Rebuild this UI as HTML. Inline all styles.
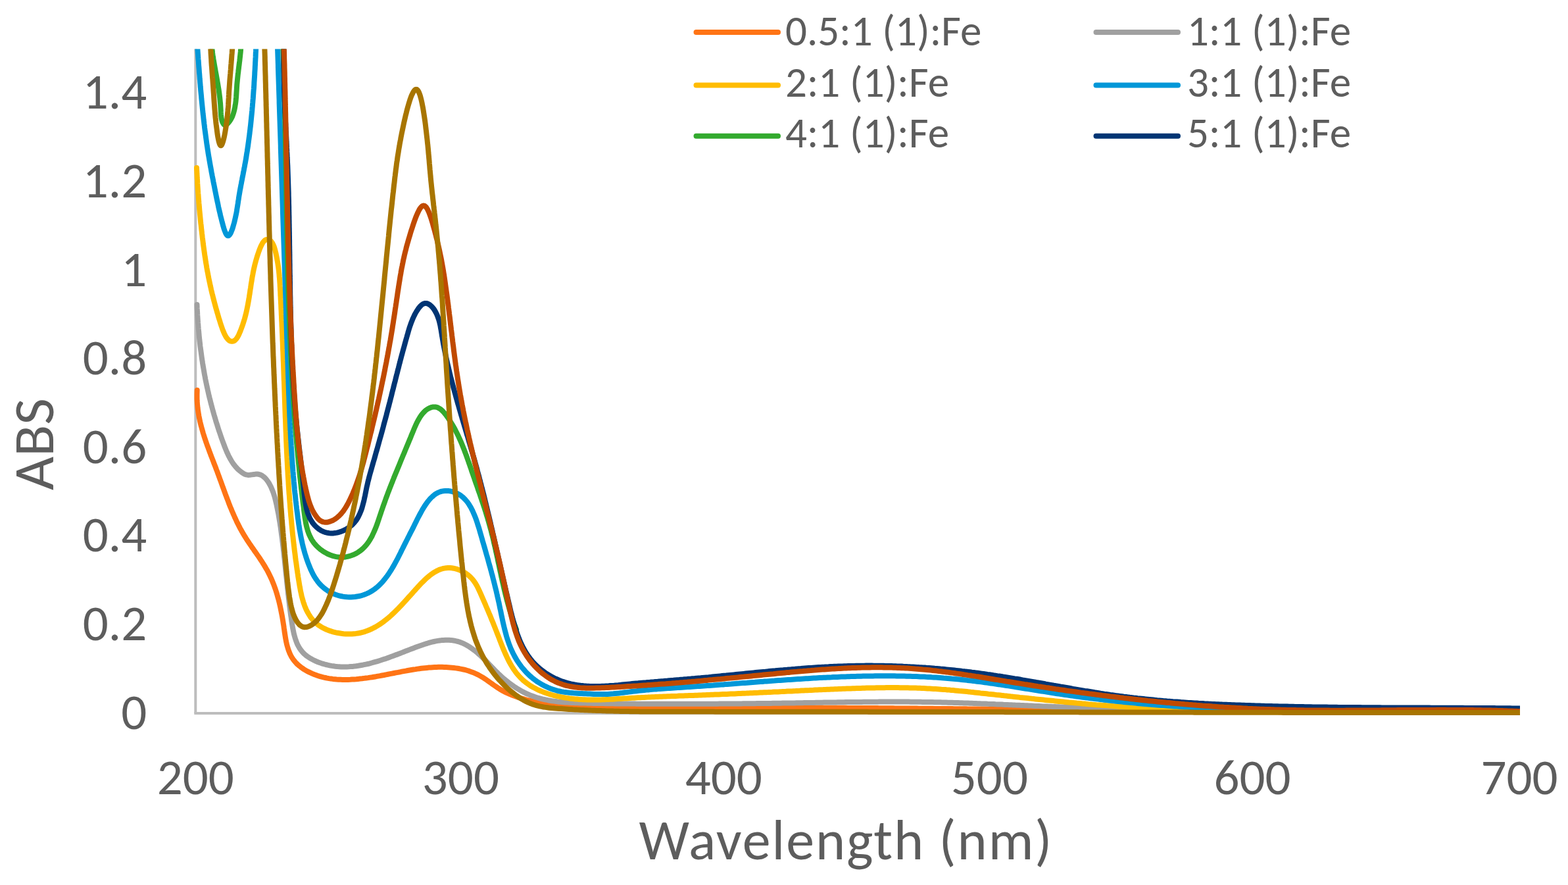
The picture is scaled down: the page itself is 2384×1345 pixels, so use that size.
<!DOCTYPE html>
<html><head><meta charset="utf-8"><title>UV-Vis ABS</title>
<style>
html,body{margin:0;padding:0;background:#fff;}
svg{display:block;}
text{font-family:Carlito, 'Liberation Sans', sans-serif;fill:#5D5D5D;}
.ax text{font-size:77px;}
.lg{font-size:65px;}
</style></head><body>
<svg width="2384" height="1345" viewBox="0 0 2384 1345">
<rect width="2384" height="1345" fill="#fff"/>
<defs><clipPath id="pa"><rect x="0" y="74.5" width="2311" height="1270"/></clipPath></defs>
<g stroke="#BDBDBD" stroke-width="4" fill="none">
<line x1="297.3" y1="74.5" x2="297.3" y2="1084"/>
<line x1="295.3" y1="1084" x2="2310" y2="1084"/>
</g>
<g clip-path="url(#pa)" fill="none" stroke-width="8" stroke-linejoin="round" stroke-linecap="round">
<path d="M299.7 592.9 L299.6 596.1 L299.5 599.1 L299.5 602.2 L299.5 605.3 L299.6 608.3 L299.8 611.4 L300.0 614.4 L300.3 617.4 L300.6 620.4 L301.0 623.3 L301.4 626.3 L301.9 629.2 L302.4 632.2 L303.0 635.1 L303.6 638.0 L304.2 640.9 L304.9 643.8 L305.6 646.7 L306.4 649.5 L307.2 652.4 L308.0 655.2 L308.8 658.1 L309.7 660.9 L310.6 663.7 L311.5 666.6 L312.5 669.4 L313.4 672.2 L314.4 675.0 L315.4 677.8 L316.5 680.6 L317.5 683.4 L318.5 686.2 L319.6 689.0 L320.6 691.8 L321.7 694.6 L322.8 697.4 L323.9 700.2 L324.9 703.0 L326.0 705.8 L327.1 708.5 L328.2 711.3 L329.2 714.1 L330.3 716.9 L331.3 719.8 L332.4 722.6 L333.4 725.4 L334.4 728.2 L335.5 731.0 L336.5 733.8 L337.5 736.6 L338.5 739.5 L339.6 742.3 L340.6 745.1 L341.6 747.9 L342.6 750.7 L343.7 753.5 L344.7 756.3 L345.8 759.1 L346.9 761.9 L347.9 764.7 L349.0 767.5 L350.1 770.3 L351.3 773.0 L352.4 775.8 L353.6 778.5 L354.8 781.3 L356.0 784.0 L357.2 786.8 L358.5 789.5 L359.7 792.2 L361.0 794.9 L362.4 797.5 L363.7 800.2 L365.1 802.9 L366.6 805.5 L368.0 808.1 L369.5 810.7 L371.1 813.3 L372.7 815.9 L374.3 818.5 L375.9 821.0 L377.6 823.5 L379.3 826.1 L381.0 828.6 L382.7 831.1 L384.5 833.6 L386.2 836.1 L388.0 838.6 L389.7 841.0 L391.4 843.5 L393.2 846.0 L394.9 848.5 L396.5 851.0 L398.2 853.5 L399.8 856.1 L401.4 858.6 L402.9 861.1 L404.4 863.7 L405.9 866.2 L407.3 868.8 L408.6 871.4 L409.9 874.0 L411.2 876.7 L412.4 879.3 L413.6 882.0 L414.7 884.7 L415.8 887.4 L416.8 890.1 L417.8 892.8 L418.8 895.6 L419.7 898.4 L420.6 901.2 L421.4 904.0 L422.2 906.8 L423.0 909.6 L423.8 912.5 L424.5 915.4 L425.2 918.3 L425.9 921.2 L426.5 924.1 L427.1 927.1 L427.7 930.1 L428.3 933.1 L428.9 936.1 L429.4 939.1 L429.9 942.2 L430.4 945.2 L430.9 948.3 L431.4 951.4 L431.8 954.6 L432.3 957.7 L432.7 960.9 L433.2 964.0 L433.7 967.2 L434.2 970.3 L434.8 973.4 L435.4 976.4 L436.1 979.5 L436.9 982.4 L437.8 985.4 L438.7 988.2 L439.8 991.0 L440.9 993.7 L442.2 996.3 L443.6 998.9 L445.2 1001.3 L446.9 1003.6 L448.7 1005.8 L450.6 1008.0 L452.7 1010.0 L454.9 1011.9 L457.2 1013.7 L459.5 1015.4 L462.0 1017.1 L464.5 1018.6 L467.1 1020.1 L469.7 1021.4 L472.4 1022.7 L475.1 1023.9 L477.8 1025.0 L480.6 1026.0 L483.3 1027.0 L486.1 1027.9 L488.9 1028.7 L491.7 1029.4 L494.6 1030.0 L497.4 1030.6 L500.3 1031.1 L503.1 1031.5 L506.0 1031.9 L508.9 1032.2 L511.8 1032.5 L514.7 1032.7 L517.7 1032.8 L520.6 1032.9 L523.6 1032.9 L526.5 1032.9 L529.5 1032.9 L532.5 1032.8 L535.5 1032.6 L538.5 1032.4 L541.5 1032.2 L544.5 1031.9 L547.5 1031.6 L550.5 1031.3 L553.5 1030.9 L556.5 1030.5 L559.6 1030.1 L562.6 1029.6 L565.6 1029.2 L568.6 1028.7 L571.7 1028.2 L574.7 1027.6 L577.7 1027.1 L580.8 1026.5 L583.8 1026.0 L586.8 1025.4 L589.9 1024.8 L592.9 1024.2 L595.9 1023.6 L598.9 1023.0 L601.9 1022.4 L605.0 1021.9 L608.0 1021.3 L610.9 1020.7 L613.9 1020.1 L616.9 1019.6 L619.9 1019.0 L622.9 1018.5 L625.8 1018.0 L628.8 1017.5 L631.7 1017.1 L634.6 1016.6 L637.6 1016.2 L640.5 1015.8 L643.4 1015.5 L646.3 1015.2 L649.2 1014.9 L652.1 1014.6 L655.0 1014.4 L657.9 1014.2 L660.8 1014.0 L663.7 1013.9 L666.6 1013.8 L669.5 1013.8 L672.4 1013.8 L675.3 1013.9 L678.2 1014.0 L681.1 1014.2 L684.0 1014.4 L687.0 1014.7 L689.9 1015.0 L692.9 1015.4 L695.8 1015.8 L698.8 1016.3 L701.7 1016.9 L704.7 1017.5 L707.6 1018.2 L710.5 1019.0 L713.4 1019.9 L716.2 1020.9 L719.0 1021.9 L721.8 1023.1 L724.5 1024.3 L727.2 1025.6 L729.8 1027.1 L732.4 1028.6 L735.0 1030.2 L737.5 1031.8 L740.0 1033.5 L742.4 1035.2 L744.9 1037.0 L747.4 1038.7 L749.8 1040.5 L752.3 1042.2 L754.8 1043.9 L757.3 1045.6 L759.8 1047.2 L762.4 1048.7 L765.0 1050.2 L767.7 1051.6 L770.3 1052.9 L773.1 1054.2 L775.8 1055.4 L778.6 1056.5 L781.4 1057.6 L784.2 1058.6 L787.0 1059.6 L789.9 1060.5 L792.8 1061.4 L795.7 1062.2 L798.6 1063.0 L801.5 1063.8 L804.4 1064.5 L807.3 1065.2 L810.2 1065.9 L813.2 1066.5 L816.1 1067.2 L819.0 1067.7 L822.0 1068.3 L824.9 1068.9 L827.9 1069.4 L830.8 1069.9 L833.7 1070.3 L836.7 1070.8 L839.6 1071.2 L842.6 1071.6 L845.6 1072.0 L848.5 1072.3 L851.5 1072.7 L854.4 1073.0 L857.4 1073.3 L860.4 1073.6 L863.3 1073.8 L866.3 1074.1 L869.3 1074.3 L872.3 1074.5 L875.2 1074.7 L878.2 1074.9 L881.2 1075.1 L884.2 1075.2 L887.2 1075.4 L890.1 1075.5 L893.1 1075.6 L896.1 1075.7 L899.1 1075.8 L902.1 1075.9 L905.1 1075.9 L908.1 1076.0 L911.1 1076.1 L914.1 1076.1 L917.1 1076.1 L920.1 1076.1 L923.0 1076.2 L926.0 1076.2 L929.0 1076.2 L932.0 1076.2 L935.0 1076.2 L938.0 1076.2 L941.0 1076.1 L944.0 1076.1 L947.0 1076.1 L950.0 1076.1 L953.0 1076.1 L956.0 1076.0 L959.0 1076.0 L962.0 1076.0 L965.0 1076.0 L968.0 1075.9 L971.0 1075.9 L974.0 1075.9 L977.0 1075.9 L980.0 1075.8 L983.0 1075.8 L986.1 1075.8 L989.1 1075.8 L992.1 1075.8 L995.1 1075.7 L998.1 1075.7 L1001.1 1075.7 L1004.1 1075.7 L1007.1 1075.7 L1010.1 1075.7 L1013.1 1075.6 L1016.1 1075.6 L1019.1 1075.6 L1022.1 1075.6 L1025.1 1075.6 L1028.1 1075.6 L1031.1 1075.5 L1034.1 1075.5 L1037.1 1075.5 L1040.1 1075.5 L1043.1 1075.5 L1046.1 1075.5 L1049.1 1075.5 L1052.1 1075.5 L1055.1 1075.4 L1058.1 1075.4 L1061.1 1075.4 L1064.1 1075.4 L1067.1 1075.4 L1070.1 1075.4 L1073.1 1075.4 L1076.1 1075.4 L1079.1 1075.4 L1082.1 1075.4 L1085.1 1075.4 L1088.1 1075.4 L1091.1 1075.4 L1094.1 1075.4 L1097.1 1075.4 L1100.1 1075.3 L1103.1 1075.3 L1106.1 1075.3 L1109.1 1075.3 L1112.1 1075.3 L1115.1 1075.3 L1118.0 1075.3 L1121.0 1075.3 L1124.0 1075.3 L1127.0 1075.3 L1130.0 1075.3 L1133.0 1075.3 L1136.0 1075.3 L1139.0 1075.3 L1142.0 1075.3 L1145.0 1075.3 L1148.0 1075.3 L1151.0 1075.3 L1154.0 1075.3 L1157.0 1075.4 L1160.0 1075.4 L1163.0 1075.4 L1166.0 1075.4 L1169.0 1075.4 L1172.0 1075.4 L1175.0 1075.4 L1178.0 1075.4 L1181.0 1075.4 L1184.0 1075.4 L1187.0 1075.4 L1190.0 1075.4 L1193.0 1075.4 L1196.0 1075.4 L1199.0 1075.4 L1202.0 1075.5 L1205.0 1075.5 L1208.0 1075.5 L1211.0 1075.5 L1214.0 1075.5 L1217.0 1075.5 L1220.0 1075.5 L1223.0 1075.5 L1226.0 1075.5 L1229.0 1075.5 L1232.0 1075.6 L1235.0 1075.6 L1238.0 1075.6 L1241.0 1075.6 L1244.0 1075.6 L1247.0 1075.6 L1250.0 1075.6 L1253.0 1075.7 L1256.0 1075.7 L1259.0 1075.7 L1262.0 1075.7 L1265.0 1075.7 L1268.0 1075.7 L1271.0 1075.7 L1274.0 1075.8 L1277.0 1075.8 L1280.0 1075.8 L1283.0 1075.8 L1286.0 1075.8 L1289.0 1075.9 L1292.0 1075.9 L1295.0 1075.9 L1298.0 1075.9 L1301.0 1075.9 L1304.0 1075.9 L1307.0 1076.0 L1310.0 1076.0 L1312.9 1076.0 L1315.9 1076.0 L1318.9 1076.0 L1321.9 1076.1 L1324.9 1076.1 L1327.9 1076.1 L1330.9 1076.1 L1333.9 1076.1 L1336.9 1076.2 L1339.9 1076.2 L1342.9 1076.2 L1345.9 1076.2 L1348.9 1076.3 L1351.9 1076.3 L1354.9 1076.3 L1357.9 1076.3 L1360.9 1076.4 L1363.9 1076.4 L1366.9 1076.4 L1369.9 1076.4 L1372.9 1076.5 L1375.9 1076.5 L1378.9 1076.5 L1381.9 1076.5 L1384.9 1076.6 L1387.9 1076.6 L1390.9 1076.6 L1393.9 1076.6 L1396.9 1076.7 L1399.9 1076.7 L1402.9 1076.7 L1405.9 1076.7 L1408.9 1076.8 L1411.9 1076.8 L1414.9 1076.8 L1417.9 1076.8 L1420.9 1076.9 L1423.9 1076.9 L1426.9 1076.9 L1429.8 1077.0 L1432.8 1077.0 L1435.8 1077.0 L1438.8 1077.0 L1441.8 1077.1 L1444.8 1077.1 L1447.8 1077.1 L1450.8 1077.2 L1453.8 1077.2 L1456.8 1077.2 L1459.8 1077.2 L1462.8 1077.3 L1465.8 1077.3 L1468.8 1077.3 L1471.8 1077.4 L1474.8 1077.4 L1477.8 1077.4 L1480.8 1077.5 L1483.8 1077.5 L1486.8 1077.5 L1489.8 1077.5 L1492.8 1077.6 L1495.8 1077.6 L1498.8 1077.6 L1501.8 1077.7 L1504.8 1077.7 L1507.8 1077.7 L1510.8 1077.8 L1513.8 1077.8 L1516.8 1077.8 L1519.8 1077.9 L1522.8 1077.9 L1525.7 1077.9 L1528.7 1078.0 L1531.7 1078.0 L1534.7 1078.0 L1537.7 1078.1 L1540.7 1078.1 L1543.7 1078.1 L1546.7 1078.1 L1549.7 1078.2 L1552.7 1078.2 L1555.7 1078.2 L1558.7 1078.3 L1561.7 1078.3 L1564.7 1078.3 L1567.7 1078.4 L1570.7 1078.4 L1573.7 1078.4 L1576.7 1078.5 L1579.7 1078.5 L1582.7 1078.5 L1585.7 1078.6 L1588.7 1078.6 L1591.7 1078.6 L1594.7 1078.7 L1597.7 1078.7 L1600.7 1078.7 L1603.7 1078.8 L1606.7 1078.8 L1609.7 1078.8 L1612.7 1078.9 L1615.6 1078.9 L1618.6 1078.9 L1621.6 1079.0 L1624.6 1079.0 L1627.6 1079.0 L1630.6 1079.1 L1633.6 1079.1 L1636.6 1079.1 L1639.6 1079.2 L1642.6 1079.2 L1645.6 1079.2 L1648.6 1079.3 L1651.6 1079.3 L1654.6 1079.3 L1657.6 1079.4 L1660.6 1079.4 L1663.6 1079.4 L1666.6 1079.5 L1669.6 1079.5 L1672.6 1079.5 L1675.6 1079.6 L1678.6 1079.6 L1681.6 1079.6 L1684.6 1079.7 L1687.6 1079.7 L1690.6 1079.7 L1693.6 1079.8 L1696.6 1079.8 L1699.6 1079.8 L1702.5 1079.9 L1705.5 1079.9 L1708.5 1079.9 L1711.5 1080.0 L1714.5 1080.0 L1717.5 1080.0 L1720.5 1080.1 L1723.5 1080.1 L1726.5 1080.1 L1729.5 1080.2 L1732.5 1080.2 L1735.5 1080.2 L1738.5 1080.3 L1741.5 1080.3 L1744.5 1080.3 L1747.5 1080.4 L1750.5 1080.4 L1753.5 1080.4 L1756.5 1080.5 L1759.5 1080.5 L1762.5 1080.5 L1765.5 1080.6 L1768.5 1080.6 L1771.5 1080.6 L1774.5 1080.6 L1777.5 1080.7 L1780.5 1080.7 L1783.5 1080.7 L1786.5 1080.8 L1789.4 1080.8 L1792.4 1080.8 L1795.4 1080.9 L1798.4 1080.9 L1801.4 1080.9 L1804.4 1080.9 L1807.4 1081.0 L1810.4 1081.0 L1813.4 1081.0 L1816.4 1081.1 L1819.4 1081.1 L1822.4 1081.1 L1825.4 1081.2 L1828.4 1081.2 L1831.4 1081.2 L1834.4 1081.2 L1837.4 1081.3 L1840.4 1081.3 L1843.4 1081.3 L1846.4 1081.3 L1849.4 1081.4 L1852.4 1081.4 L1855.4 1081.4 L1858.4 1081.5 L1861.4 1081.5 L1864.4 1081.5 L1867.4 1081.5 L1870.4 1081.6 L1873.4 1081.6 L1876.4 1081.6 L1879.3 1081.6 L1882.3 1081.7 L1885.3 1081.7 L1888.3 1081.7 L1891.3 1081.7 L1894.3 1081.8 L1897.3 1081.8 L1900.3 1081.8 L1903.3 1081.8 L1906.3 1081.9 L1909.3 1081.9 L1912.3 1081.9 L1915.3 1081.9 L1918.3 1082.0 L1921.3 1082.0 L1924.3 1082.0 L1927.3 1082.0 L1930.3 1082.0 L1933.3 1082.1 L1936.3 1082.1 L1939.3 1082.1 L1942.3 1082.1 L1945.3 1082.2 L1948.3 1082.2 L1951.3 1082.2 L1954.3 1082.2 L1957.3 1082.2 L1960.3 1082.3 L1963.3 1082.3 L1966.3 1082.3 L1969.3 1082.3 L1972.3 1082.3 L1975.3 1082.4 L1978.3 1082.4 L1981.2 1082.4 L1984.2 1082.4 L1987.2 1082.4 L1990.2 1082.4 L1993.2 1082.5 L1996.2 1082.5 L1999.2 1082.5 L2002.2 1082.5 L2005.2 1082.5 L2008.2 1082.5 L2011.2 1082.5 L2014.2 1082.6 L2017.2 1082.6 L2020.2 1082.6 L2023.2 1082.6 L2026.2 1082.6 L2029.2 1082.6 L2032.2 1082.6 L2035.2 1082.7 L2038.2 1082.7 L2041.2 1082.7 L2044.2 1082.7 L2047.2 1082.7 L2050.2 1082.7 L2053.2 1082.7 L2056.2 1082.7 L2059.2 1082.7 L2062.2 1082.8 L2065.2 1082.8 L2068.2 1082.8 L2071.2 1082.8 L2074.2 1082.8 L2077.2 1082.8 L2080.2 1082.8 L2083.2 1082.8 L2086.2 1082.8 L2089.2 1082.8 L2092.2 1082.8 L2095.2 1082.8 L2098.2 1082.8 L2101.2 1082.9 L2104.1 1082.9 L2107.1 1082.9 L2110.1 1082.9 L2113.1 1082.9 L2116.1 1082.9 L2119.1 1082.9 L2122.1 1082.9 L2125.1 1082.9 L2128.1 1082.9 L2131.1 1082.9 L2134.1 1082.9 L2137.1 1082.9 L2140.1 1082.9 L2143.1 1082.9 L2146.1 1082.9 L2149.1 1082.9 L2152.1 1082.9 L2155.1 1082.9 L2158.1 1082.9 L2161.1 1082.9 L2164.1 1082.9 L2167.1 1082.9 L2170.1 1082.9 L2173.1 1082.9 L2176.1 1082.9 L2179.1 1082.9 L2182.1 1082.8 L2185.1 1082.8 L2188.1 1082.8 L2191.1 1082.8 L2194.1 1082.8 L2197.1 1082.8 L2200.1 1082.8 L2203.1 1082.8 L2206.1 1082.8 L2209.1 1082.8 L2212.1 1082.8 L2215.1 1082.8 L2218.1 1082.7 L2221.1 1082.7 L2224.1 1082.7 L2227.1 1082.7 L2230.1 1082.7 L2233.1 1082.7 L2236.1 1082.7 L2239.1 1082.7 L2242.1 1082.6 L2245.1 1082.6 L2248.1 1082.6 L2251.1 1082.6 L2254.1 1082.6 L2257.1 1082.6 L2260.1 1082.5 L2263.1 1082.5 L2266.1 1082.5 L2269.1 1082.5 L2272.1 1082.5 L2275.1 1082.5 L2278.1 1082.4 L2281.1 1082.4 L2284.1 1082.4 L2287.1 1082.4 L2290.1 1082.3 L2293.1 1082.3 L2296.1 1082.3 L2299.1 1082.3 L2302.1 1082.2 L2305.1 1082.2 L2308.1 1082.2 L2311.1 1082.2 L2314.1 1082.1 L2317.1 1082.1 L2320.1 1082.1" stroke="#FF7415"/>
<path d="M299.5 462.9 L299.6 466.0 L299.7 469.0 L299.9 472.1 L300.1 475.1 L300.2 478.2 L300.4 481.2 L300.6 484.2 L300.8 487.3 L301.0 490.3 L301.3 493.3 L301.5 496.3 L301.7 499.3 L302.0 502.3 L302.3 505.2 L302.5 508.2 L302.8 511.2 L303.1 514.2 L303.4 517.1 L303.8 520.1 L304.1 523.0 L304.4 526.0 L304.8 528.9 L305.2 531.9 L305.6 534.8 L306.0 537.8 L306.4 540.7 L306.8 543.6 L307.2 546.5 L307.7 549.5 L308.1 552.4 L308.6 555.3 L309.1 558.2 L309.6 561.1 L310.1 564.0 L310.6 567.0 L311.1 569.9 L311.7 572.8 L312.2 575.7 L312.8 578.6 L313.4 581.5 L314.0 584.4 L314.6 587.3 L315.3 590.2 L315.9 593.1 L316.6 596.0 L317.2 598.9 L317.9 601.8 L318.6 604.7 L319.4 607.6 L320.1 610.5 L320.8 613.4 L321.6 616.3 L322.4 619.3 L323.2 622.2 L324.0 625.1 L324.8 628.0 L325.6 630.9 L326.5 633.8 L327.4 636.8 L328.2 639.7 L329.1 642.6 L330.1 645.5 L331.0 648.5 L331.9 651.4 L332.9 654.4 L333.9 657.3 L334.9 660.2 L335.9 663.2 L336.9 666.2 L338.0 669.1 L339.1 672.1 L340.2 675.0 L341.3 678.0 L342.4 680.9 L343.6 683.8 L344.8 686.7 L346.1 689.5 L347.4 692.3 L348.8 695.0 L350.3 697.7 L351.8 700.3 L353.4 702.8 L355.0 705.2 L356.8 707.5 L358.6 709.7 L360.5 711.8 L362.5 713.8 L364.7 715.7 L366.9 717.4 L369.2 719.0 L371.7 720.4 L374.3 721.4 L377.0 721.9 L379.9 721.8 L382.8 721.4 L385.8 721.0 L388.7 720.6 L391.6 720.5 L394.2 721.0 L396.8 721.9 L399.2 723.3 L401.4 725.0 L403.6 727.0 L405.5 729.3 L407.4 731.8 L409.1 734.5 L410.6 737.3 L412.1 740.2 L413.3 743.1 L414.5 746.0 L415.6 748.9 L416.5 751.7 L417.4 754.6 L418.2 757.5 L418.9 760.4 L419.6 763.3 L420.3 766.3 L420.9 769.2 L421.5 772.1 L422.1 775.1 L422.7 778.1 L423.3 781.0 L423.8 784.0 L424.3 787.0 L424.8 790.0 L425.3 792.9 L425.8 795.9 L426.2 798.9 L426.7 801.9 L427.1 804.9 L427.5 807.9 L427.9 810.9 L428.3 813.9 L428.7 816.9 L429.1 819.9 L429.4 822.8 L429.8 825.8 L430.1 828.8 L430.5 831.7 L430.8 834.7 L431.2 837.7 L431.5 840.6 L431.8 843.6 L432.1 846.5 L432.5 849.5 L432.8 852.4 L433.1 855.4 L433.4 858.3 L433.7 861.3 L434.0 864.2 L434.3 867.1 L434.6 870.1 L434.9 873.0 L435.3 876.0 L435.6 878.9 L435.9 881.9 L436.2 884.8 L436.5 887.8 L436.8 890.7 L437.1 893.7 L437.5 896.6 L437.8 899.6 L438.1 902.6 L438.5 905.5 L438.8 908.5 L439.2 911.5 L439.5 914.5 L439.9 917.5 L440.2 920.5 L440.6 923.5 L441.0 926.5 L441.4 929.5 L441.8 932.5 L442.2 935.6 L442.7 938.6 L443.1 941.6 L443.5 944.7 L444.0 947.8 L444.5 950.8 L445.0 953.9 L445.6 956.9 L446.2 959.9 L446.8 962.9 L447.6 965.9 L448.4 968.8 L449.3 971.6 L450.3 974.4 L451.3 977.1 L452.5 979.8 L453.9 982.4 L455.3 984.9 L456.9 987.2 L458.7 989.5 L460.5 991.7 L462.6 993.8 L464.8 995.7 L467.2 997.5 L469.7 999.2 L472.3 1000.8 L475.0 1002.3 L477.7 1003.7 L480.6 1005.0 L483.5 1006.2 L486.4 1007.3 L489.3 1008.3 L492.3 1009.2 L495.2 1010.0 L498.2 1010.7 L501.1 1011.3 L504.0 1011.9 L507.0 1012.3 L509.9 1012.7 L512.8 1013.0 L515.7 1013.2 L518.7 1013.4 L521.6 1013.5 L524.5 1013.5 L527.4 1013.4 L530.3 1013.3 L533.2 1013.1 L536.1 1012.9 L539.0 1012.6 L541.9 1012.2 L544.8 1011.8 L547.7 1011.3 L550.6 1010.8 L553.5 1010.2 L556.4 1009.6 L559.2 1009.0 L562.1 1008.3 L565.0 1007.5 L567.9 1006.7 L570.8 1005.9 L573.7 1005.1 L576.5 1004.2 L579.4 1003.3 L582.3 1002.3 L585.2 1001.4 L588.0 1000.4 L590.9 999.4 L593.8 998.3 L596.7 997.3 L599.5 996.2 L602.4 995.1 L605.3 994.1 L608.2 993.0 L611.0 991.9 L613.9 990.7 L616.8 989.6 L619.7 988.5 L622.5 987.4 L625.4 986.3 L628.3 985.2 L631.2 984.1 L634.0 983.0 L636.9 982.0 L639.8 981.0 L642.7 980.0 L645.5 979.0 L648.4 978.1 L651.3 977.2 L654.1 976.4 L657.0 975.7 L659.9 975.0 L662.7 974.4 L665.6 973.9 L668.4 973.5 L671.3 973.1 L674.1 972.9 L676.9 972.7 L679.8 972.7 L682.6 972.7 L685.4 972.9 L688.2 973.3 L691.0 973.7 L693.8 974.3 L696.6 975.0 L699.3 975.9 L702.1 976.9 L704.8 978.1 L707.6 979.5 L710.3 981.0 L713.0 982.6 L715.7 984.4 L718.3 986.3 L720.9 988.2 L723.5 990.2 L726.0 992.3 L728.4 994.5 L730.8 996.6 L733.1 998.8 L735.3 1000.9 L737.5 1003.1 L739.6 1005.2 L741.6 1007.3 L743.6 1009.4 L745.6 1011.5 L747.5 1013.5 L749.5 1015.6 L751.4 1017.6 L753.4 1019.7 L755.5 1021.7 L757.5 1023.7 L759.7 1025.7 L761.8 1027.7 L764.0 1029.7 L766.3 1031.7 L768.6 1033.6 L771.0 1035.5 L773.4 1037.4 L775.8 1039.2 L778.3 1041.0 L780.8 1042.8 L783.3 1044.5 L785.9 1046.1 L788.5 1047.7 L791.2 1049.3 L793.8 1050.7 L796.5 1052.1 L799.2 1053.5 L802.0 1054.8 L804.7 1055.9 L807.5 1057.1 L810.3 1058.1 L813.1 1059.1 L815.9 1060.0 L818.8 1060.8 L821.7 1061.6 L824.5 1062.4 L827.4 1063.0 L830.3 1063.6 L833.3 1064.2 L836.2 1064.7 L839.1 1065.2 L842.1 1065.6 L845.1 1066.0 L848.0 1066.4 L851.0 1066.7 L854.0 1066.9 L857.0 1067.2 L860.0 1067.4 L863.0 1067.6 L866.0 1067.8 L869.0 1067.9 L872.1 1068.1 L875.1 1068.2 L878.1 1068.3 L881.1 1068.4 L884.1 1068.4 L887.2 1068.5 L890.2 1068.6 L893.2 1068.7 L896.2 1068.7 L899.2 1068.8 L902.2 1068.9 L905.2 1068.9 L908.2 1069.0 L911.2 1069.0 L914.2 1069.1 L917.2 1069.1 L920.2 1069.2 L923.2 1069.2 L926.2 1069.2 L929.2 1069.3 L932.2 1069.3 L935.2 1069.4 L938.2 1069.4 L941.2 1069.4 L944.2 1069.5 L947.2 1069.5 L950.2 1069.5 L953.2 1069.5 L956.2 1069.6 L959.2 1069.6 L962.1 1069.6 L965.1 1069.6 L968.1 1069.7 L971.1 1069.7 L974.1 1069.7 L977.1 1069.7 L980.1 1069.7 L983.1 1069.7 L986.1 1069.8 L989.1 1069.8 L992.1 1069.8 L995.1 1069.8 L998.1 1069.8 L1001.1 1069.8 L1004.1 1069.8 L1007.1 1069.8 L1010.1 1069.8 L1013.0 1069.8 L1016.0 1069.8 L1019.0 1069.8 L1022.0 1069.8 L1025.0 1069.8 L1028.0 1069.8 L1031.0 1069.8 L1034.0 1069.8 L1037.0 1069.8 L1040.0 1069.8 L1043.0 1069.8 L1046.0 1069.8 L1049.0 1069.8 L1052.0 1069.8 L1055.0 1069.8 L1058.0 1069.8 L1061.0 1069.8 L1064.0 1069.8 L1067.0 1069.8 L1070.0 1069.8 L1073.0 1069.8 L1076.0 1069.7 L1079.0 1069.7 L1082.0 1069.7 L1085.0 1069.7 L1088.0 1069.7 L1091.0 1069.7 L1094.0 1069.6 L1097.0 1069.6 L1100.0 1069.6 L1103.0 1069.6 L1106.0 1069.6 L1109.0 1069.5 L1112.0 1069.5 L1115.0 1069.5 L1118.0 1069.5 L1121.0 1069.4 L1124.0 1069.4 L1127.0 1069.4 L1130.0 1069.3 L1133.0 1069.3 L1136.0 1069.3 L1139.0 1069.3 L1142.0 1069.2 L1145.0 1069.2 L1148.0 1069.2 L1151.0 1069.1 L1154.0 1069.1 L1157.0 1069.1 L1160.0 1069.0 L1163.0 1069.0 L1166.0 1069.0 L1169.0 1068.9 L1172.0 1068.9 L1175.0 1068.8 L1178.0 1068.8 L1181.0 1068.8 L1184.0 1068.7 L1187.0 1068.7 L1190.0 1068.6 L1193.0 1068.6 L1196.0 1068.5 L1198.9 1068.5 L1201.9 1068.5 L1204.9 1068.4 L1207.9 1068.4 L1210.9 1068.3 L1213.9 1068.3 L1216.9 1068.2 L1219.9 1068.2 L1222.9 1068.1 L1225.9 1068.1 L1228.9 1068.0 L1231.9 1068.0 L1234.9 1067.9 L1237.9 1067.9 L1240.9 1067.8 L1243.9 1067.8 L1246.9 1067.7 L1249.9 1067.7 L1252.9 1067.6 L1255.9 1067.6 L1258.9 1067.5 L1261.9 1067.5 L1264.9 1067.4 L1267.9 1067.4 L1270.9 1067.4 L1273.9 1067.3 L1276.9 1067.3 L1279.9 1067.2 L1282.9 1067.2 L1285.9 1067.1 L1288.9 1067.1 L1291.9 1067.1 L1294.9 1067.0 L1297.9 1067.0 L1300.9 1067.0 L1303.9 1066.9 L1306.9 1066.9 L1309.9 1066.9 L1312.9 1066.8 L1315.9 1066.8 L1318.9 1066.8 L1321.9 1066.7 L1324.9 1066.7 L1327.9 1066.7 L1330.9 1066.7 L1333.9 1066.7 L1336.9 1066.6 L1339.9 1066.6 L1342.9 1066.6 L1345.9 1066.6 L1348.9 1066.6 L1351.9 1066.6 L1354.9 1066.6 L1357.9 1066.6 L1360.9 1066.6 L1363.9 1066.6 L1366.8 1066.6 L1369.8 1066.6 L1372.8 1066.6 L1375.8 1066.6 L1378.8 1066.6 L1381.8 1066.6 L1384.8 1066.7 L1387.8 1066.7 L1390.8 1066.7 L1393.8 1066.7 L1396.8 1066.8 L1399.8 1066.8 L1402.8 1066.9 L1405.8 1066.9 L1408.8 1066.9 L1411.8 1067.0 L1414.8 1067.0 L1417.8 1067.1 L1420.8 1067.2 L1423.8 1067.2 L1426.8 1067.3 L1429.8 1067.3 L1432.8 1067.4 L1435.8 1067.5 L1438.8 1067.6 L1441.8 1067.7 L1444.8 1067.7 L1447.8 1067.8 L1450.8 1067.9 L1453.7 1068.0 L1456.7 1068.1 L1459.7 1068.2 L1462.7 1068.3 L1465.7 1068.4 L1468.7 1068.5 L1471.7 1068.6 L1474.7 1068.7 L1477.7 1068.8 L1480.7 1068.9 L1483.7 1069.0 L1486.7 1069.2 L1489.7 1069.3 L1492.7 1069.4 L1495.7 1069.5 L1498.7 1069.6 L1501.7 1069.8 L1504.7 1069.9 L1507.7 1070.0 L1510.7 1070.1 L1513.7 1070.3 L1516.7 1070.4 L1519.7 1070.5 L1522.7 1070.6 L1525.7 1070.8 L1528.6 1070.9 L1531.6 1071.0 L1534.6 1071.2 L1537.6 1071.3 L1540.6 1071.4 L1543.6 1071.6 L1546.6 1071.7 L1549.6 1071.8 L1552.6 1072.0 L1555.6 1072.1 L1558.6 1072.2 L1561.6 1072.3 L1564.6 1072.5 L1567.6 1072.6 L1570.6 1072.7 L1573.6 1072.9 L1576.6 1073.0 L1579.6 1073.1 L1582.6 1073.2 L1585.6 1073.4 L1588.6 1073.5 L1591.6 1073.6 L1594.6 1073.7 L1597.6 1073.8 L1600.5 1074.0 L1603.5 1074.1 L1606.5 1074.2 L1609.5 1074.3 L1612.5 1074.4 L1615.5 1074.5 L1618.5 1074.7 L1621.5 1074.8 L1624.5 1074.9 L1627.5 1075.0 L1630.5 1075.1 L1633.5 1075.2 L1636.5 1075.3 L1639.5 1075.4 L1642.5 1075.5 L1645.5 1075.6 L1648.5 1075.7 L1651.5 1075.8 L1654.5 1075.9 L1657.5 1076.0 L1660.5 1076.1 L1663.5 1076.2 L1666.5 1076.3 L1669.5 1076.4 L1672.5 1076.5 L1675.5 1076.6 L1678.5 1076.7 L1681.5 1076.8 L1684.5 1076.9 L1687.4 1077.0 L1690.4 1077.1 L1693.4 1077.1 L1696.4 1077.2 L1699.4 1077.3 L1702.4 1077.4 L1705.4 1077.5 L1708.4 1077.6 L1711.4 1077.7 L1714.4 1077.7 L1717.4 1077.8 L1720.4 1077.9 L1723.4 1078.0 L1726.4 1078.1 L1729.4 1078.1 L1732.4 1078.2 L1735.4 1078.3 L1738.4 1078.4 L1741.4 1078.4 L1744.4 1078.5 L1747.4 1078.6 L1750.4 1078.7 L1753.4 1078.7 L1756.4 1078.8 L1759.4 1078.9 L1762.4 1078.9 L1765.4 1079.0 L1768.4 1079.1 L1771.4 1079.1 L1774.4 1079.2 L1777.4 1079.3 L1780.4 1079.3 L1783.4 1079.4 L1786.4 1079.5 L1789.3 1079.5 L1792.3 1079.6 L1795.3 1079.6 L1798.3 1079.7 L1801.3 1079.8 L1804.3 1079.8 L1807.3 1079.9 L1810.3 1079.9 L1813.3 1080.0 L1816.3 1080.0 L1819.3 1080.1 L1822.3 1080.1 L1825.3 1080.2 L1828.3 1080.3 L1831.3 1080.3 L1834.3 1080.4 L1837.3 1080.4 L1840.3 1080.5 L1843.3 1080.5 L1846.3 1080.5 L1849.3 1080.6 L1852.3 1080.6 L1855.3 1080.7 L1858.3 1080.7 L1861.3 1080.8 L1864.3 1080.8 L1867.3 1080.9 L1870.3 1080.9 L1873.3 1080.9 L1876.3 1081.0 L1879.3 1081.0 L1882.3 1081.1 L1885.3 1081.1 L1888.3 1081.1 L1891.3 1081.2 L1894.3 1081.2 L1897.3 1081.3 L1900.3 1081.3 L1903.3 1081.3 L1906.3 1081.4 L1909.3 1081.4 L1912.2 1081.4 L1915.2 1081.5 L1918.2 1081.5 L1921.2 1081.5 L1924.2 1081.6 L1927.2 1081.6 L1930.2 1081.6 L1933.2 1081.7 L1936.2 1081.7 L1939.2 1081.7 L1942.2 1081.7 L1945.2 1081.8 L1948.2 1081.8 L1951.2 1081.8 L1954.2 1081.9 L1957.2 1081.9 L1960.2 1081.9 L1963.2 1081.9 L1966.2 1082.0 L1969.2 1082.0 L1972.2 1082.0 L1975.2 1082.0 L1978.2 1082.0 L1981.2 1082.1 L1984.2 1082.1 L1987.2 1082.1 L1990.2 1082.1 L1993.2 1082.1 L1996.2 1082.2 L1999.2 1082.2 L2002.2 1082.2 L2005.2 1082.2 L2008.2 1082.2 L2011.2 1082.3 L2014.2 1082.3 L2017.2 1082.3 L2020.2 1082.3 L2023.2 1082.3 L2026.2 1082.3 L2029.2 1082.3 L2032.2 1082.4 L2035.2 1082.4 L2038.2 1082.4 L2041.2 1082.4 L2044.2 1082.4 L2047.2 1082.4 L2050.2 1082.4 L2053.2 1082.4 L2056.2 1082.5 L2059.2 1082.5 L2062.2 1082.5 L2065.2 1082.5 L2068.1 1082.5 L2071.1 1082.5 L2074.1 1082.5 L2077.1 1082.5 L2080.1 1082.5 L2083.1 1082.5 L2086.1 1082.5 L2089.1 1082.5 L2092.1 1082.6 L2095.1 1082.6 L2098.1 1082.6 L2101.1 1082.6 L2104.1 1082.6 L2107.1 1082.6 L2110.1 1082.6 L2113.1 1082.6 L2116.1 1082.6 L2119.1 1082.6 L2122.1 1082.6 L2125.1 1082.6 L2128.1 1082.6 L2131.1 1082.6 L2134.1 1082.6 L2137.1 1082.6 L2140.1 1082.6 L2143.1 1082.6 L2146.1 1082.6 L2149.1 1082.6 L2152.1 1082.6 L2155.1 1082.6 L2158.1 1082.6 L2161.1 1082.6 L2164.1 1082.6 L2167.1 1082.6 L2170.1 1082.6 L2173.1 1082.6 L2176.1 1082.6 L2179.1 1082.6 L2182.1 1082.6 L2185.1 1082.6 L2188.1 1082.6 L2191.1 1082.6 L2194.1 1082.6 L2197.1 1082.6 L2200.1 1082.6 L2203.1 1082.6 L2206.1 1082.6 L2209.1 1082.6 L2212.1 1082.6 L2215.1 1082.6 L2218.1 1082.6 L2221.1 1082.6 L2224.1 1082.6 L2227.1 1082.6 L2230.1 1082.6 L2233.1 1082.5 L2236.1 1082.5 L2239.1 1082.5 L2242.0 1082.5 L2245.0 1082.5 L2248.0 1082.5 L2251.0 1082.5 L2254.0 1082.5 L2257.0 1082.5 L2260.0 1082.5 L2263.0 1082.5 L2266.0 1082.5 L2269.0 1082.5 L2272.0 1082.5 L2275.0 1082.5 L2278.0 1082.5 L2281.0 1082.5 L2284.0 1082.5 L2287.0 1082.4 L2290.0 1082.4 L2293.0 1082.4 L2296.0 1082.4 L2299.0 1082.4 L2302.0 1082.4 L2305.0 1082.4 L2308.0 1082.4 L2311.0 1082.4 L2314.0 1082.4 L2317.0 1082.4 L2320.0 1082.4" stroke="#A0A0A0"/>
<path d="M299.0 255.0 L299.1 257.9 L299.3 260.7 L299.4 263.6 L299.6 266.5 L299.7 269.4 L299.9 272.3 L300.1 275.2 L300.2 278.2 L300.4 281.2 L300.6 284.2 L300.8 287.2 L301.0 290.2 L301.2 293.3 L301.5 296.3 L301.7 299.4 L301.9 302.4 L302.2 305.5 L302.4 308.6 L302.7 311.7 L303.0 314.8 L303.2 317.9 L303.5 320.9 L303.8 324.0 L304.1 327.1 L304.4 330.2 L304.7 333.3 L305.0 336.4 L305.3 339.5 L305.7 342.5 L306.0 345.6 L306.3 348.6 L306.7 351.7 L307.0 354.7 L307.4 357.7 L307.7 360.7 L308.1 363.7 L308.5 366.7 L308.8 369.6 L309.2 372.6 L309.6 375.5 L310.0 378.4 L310.4 381.3 L310.8 384.1 L311.2 387.0 L311.6 389.8 L312.1 392.6 L312.5 395.4 L312.9 398.3 L313.4 401.1 L313.9 403.9 L314.3 406.6 L314.8 409.4 L315.3 412.2 L315.9 415.0 L316.4 417.8 L316.9 420.6 L317.5 423.5 L318.1 426.3 L318.7 429.1 L319.3 432.0 L319.9 434.8 L320.6 437.7 L321.2 440.6 L321.9 443.5 L322.6 446.5 L323.4 449.4 L324.1 452.4 L324.9 455.4 L325.7 458.5 L326.5 461.5 L327.3 464.6 L328.2 467.8 L329.1 470.9 L330.0 474.1 L331.0 477.4 L331.9 480.6 L332.9 484.0 L334.0 487.3 L335.0 490.7 L336.1 494.1 L337.3 497.5 L338.4 500.8 L339.7 503.9 L341.0 506.9 L342.3 509.6 L343.7 512.1 L345.2 514.2 L346.8 516.0 L348.4 517.4 L350.2 518.4 L352.0 518.8 L353.9 518.7 L355.8 518.1 L357.8 516.7 L359.5 514.8 L361.2 512.3 L362.8 509.4 L364.2 506.2 L365.6 502.9 L366.8 499.7 L368.0 496.4 L369.1 493.3 L370.1 490.2 L371.1 487.1 L372.0 484.1 L372.8 481.1 L373.6 478.1 L374.3 475.2 L375.0 472.2 L375.6 469.3 L376.2 466.3 L376.8 463.4 L377.3 460.5 L377.8 457.7 L378.3 454.8 L378.8 451.9 L379.2 449.0 L379.7 446.2 L380.1 443.3 L380.5 440.4 L381.0 437.6 L381.4 434.7 L381.8 431.8 L382.3 428.9 L382.8 426.0 L383.2 423.1 L383.7 420.2 L384.3 417.3 L384.8 414.4 L385.4 411.4 L386.0 408.5 L386.7 405.5 L387.4 402.5 L388.2 399.5 L389.0 396.4 L389.9 393.4 L390.8 390.3 L391.8 387.2 L392.9 384.0 L394.0 380.9 L395.2 377.7 L396.5 374.6 L397.9 371.8 L399.3 369.2 L400.9 367.0 L402.6 365.3 L404.5 364.2 L406.4 363.8 L408.5 364.2 L410.5 365.2 L412.3 366.8 L413.9 369.0 L415.3 371.6 L416.6 374.6 L417.7 377.9 L418.6 381.4 L419.5 384.9 L420.2 388.5 L420.9 392.1 L421.5 395.5 L422.1 398.8 L422.6 402.1 L423.1 405.3 L423.5 408.4 L423.9 411.5 L424.2 414.5 L424.5 417.5 L424.7 420.4 L425.0 423.3 L425.2 426.2 L425.4 429.1 L425.6 431.9 L425.7 434.7 L425.9 437.5 L426.0 440.4 L426.2 443.2 L426.3 446.0 L426.4 448.9 L426.6 451.8 L426.7 454.7 L426.9 457.5 L427.0 460.4 L427.2 463.3 L427.3 466.3 L427.4 469.2 L427.6 472.1 L427.7 475.1 L427.8 478.0 L428.0 481.0 L428.1 483.9 L428.2 486.9 L428.4 489.9 L428.5 492.9 L428.6 495.8 L428.8 498.8 L428.9 501.8 L429.0 504.8 L429.2 507.9 L429.3 510.9 L429.4 513.9 L429.5 516.9 L429.7 519.9 L429.8 522.9 L429.9 526.0 L430.0 529.0 L430.1 532.0 L430.3 535.1 L430.4 538.1 L430.5 541.1 L430.6 544.2 L430.7 547.2 L430.9 550.3 L431.0 553.3 L431.1 556.3 L431.2 559.4 L431.3 562.4 L431.4 565.4 L431.5 568.5 L431.6 571.5 L431.7 574.5 L431.8 577.5 L432.0 580.6 L432.1 583.6 L432.2 586.6 L432.3 589.6 L432.4 592.6 L432.5 595.6 L432.6 598.7 L432.7 601.7 L432.8 604.7 L432.9 607.7 L433.0 610.7 L433.1 613.7 L433.2 616.7 L433.3 619.7 L433.4 622.7 L433.5 625.7 L433.6 628.7 L433.7 631.6 L433.8 634.6 L434.0 637.6 L434.1 640.6 L434.2 643.6 L434.3 646.6 L434.4 649.6 L434.5 652.6 L434.6 655.5 L434.8 658.5 L434.9 661.5 L435.0 664.5 L435.1 667.5 L435.2 670.4 L435.4 673.4 L435.5 676.4 L435.6 679.4 L435.8 682.3 L435.9 685.3 L436.0 688.3 L436.2 691.3 L436.3 694.2 L436.5 697.2 L436.6 700.2 L436.8 703.2 L436.9 706.1 L437.1 709.1 L437.2 712.1 L437.4 715.0 L437.6 718.0 L437.7 721.0 L437.9 724.0 L438.1 726.9 L438.3 729.9 L438.5 732.9 L438.6 735.8 L438.8 738.8 L439.0 741.8 L439.2 744.8 L439.4 747.7 L439.6 750.7 L439.9 753.7 L440.1 756.7 L440.3 759.6 L440.5 762.6 L440.8 765.6 L441.0 768.6 L441.2 771.5 L441.5 774.5 L441.7 777.5 L442.0 780.5 L442.2 783.5 L442.5 786.4 L442.8 789.4 L443.1 792.4 L443.3 795.4 L443.6 798.4 L443.9 801.4 L444.2 804.4 L444.5 807.4 L444.8 810.3 L445.1 813.3 L445.5 816.3 L445.8 819.3 L446.1 822.3 L446.5 825.3 L446.8 828.3 L447.2 831.3 L447.5 834.3 L447.9 837.4 L448.3 840.4 L448.7 843.4 L449.0 846.4 L449.4 849.4 L449.8 852.4 L450.3 855.4 L450.7 858.5 L451.1 861.5 L451.5 864.5 L452.0 867.5 L452.4 870.6 L452.9 873.6 L453.3 876.6 L453.8 879.7 L454.3 882.7 L454.8 885.8 L455.3 888.8 L455.8 891.8 L456.4 894.8 L456.9 897.8 L457.6 900.8 L458.2 903.8 L458.9 906.7 L459.7 909.6 L460.5 912.4 L461.3 915.3 L462.3 918.0 L463.2 920.8 L464.3 923.4 L465.4 926.1 L466.7 928.6 L468.0 931.1 L469.4 933.5 L470.9 935.9 L472.4 938.2 L474.1 940.4 L475.9 942.5 L477.9 944.5 L479.9 946.5 L482.1 948.3 L484.3 950.1 L486.8 951.7 L489.3 953.3 L491.9 954.7 L494.7 956.0 L497.6 957.3 L500.5 958.4 L503.5 959.4 L506.5 960.3 L509.6 961.1 L512.8 961.8 L515.9 962.3 L519.1 962.8 L522.3 963.2 L525.5 963.4 L528.7 963.5 L531.8 963.5 L534.9 963.5 L537.9 963.2 L540.9 962.9 L543.9 962.5 L546.8 962.0 L549.6 961.3 L552.4 960.6 L555.1 959.8 L557.9 958.8 L560.5 957.8 L563.1 956.7 L565.7 955.5 L568.3 954.2 L570.8 952.9 L573.3 951.4 L575.7 949.9 L578.1 948.3 L580.5 946.7 L582.9 945.0 L585.2 943.2 L587.5 941.4 L589.8 939.5 L592.1 937.6 L594.3 935.6 L596.5 933.5 L598.7 931.5 L600.9 929.3 L603.1 927.2 L605.3 925.0 L607.4 922.8 L609.6 920.5 L611.7 918.2 L613.8 915.9 L616.0 913.6 L618.1 911.3 L620.2 908.9 L622.3 906.5 L624.5 904.2 L626.6 901.8 L628.7 899.4 L630.9 897.0 L633.0 894.6 L635.2 892.2 L637.3 889.9 L639.5 887.6 L641.7 885.3 L644.0 883.1 L646.2 880.9 L648.5 878.8 L650.8 876.8 L653.1 874.9 L655.4 873.1 L657.8 871.4 L660.2 869.8 L662.7 868.4 L665.2 867.1 L667.7 865.9 L670.3 865.0 L672.9 864.2 L675.6 863.6 L678.4 863.2 L681.1 863.0 L684.0 863.0 L686.9 863.3 L689.7 863.7 L692.7 864.4 L695.5 865.2 L698.4 866.2 L701.2 867.5 L704.0 868.8 L706.7 870.4 L709.3 872.1 L711.8 874.0 L714.1 876.0 L716.3 878.1 L718.4 880.4 L720.3 882.8 L722.1 885.3 L723.7 887.9 L725.2 890.5 L726.6 893.3 L727.9 896.0 L729.2 898.8 L730.5 901.6 L731.7 904.4 L732.9 907.2 L734.1 909.9 L735.3 912.7 L736.5 915.4 L737.7 918.1 L738.8 920.8 L740.0 923.5 L741.1 926.2 L742.3 928.9 L743.4 931.6 L744.6 934.3 L745.7 937.0 L746.8 939.7 L747.9 942.4 L749.0 945.1 L750.1 947.8 L751.2 950.6 L752.3 953.3 L753.4 956.1 L754.5 958.9 L755.6 961.7 L756.7 964.5 L757.8 967.3 L758.9 970.2 L760.0 973.1 L761.1 975.9 L762.2 978.8 L763.4 981.7 L764.5 984.5 L765.7 987.4 L766.9 990.2 L768.1 993.0 L769.4 995.8 L770.7 998.6 L772.0 1001.4 L773.4 1004.1 L774.8 1006.8 L776.3 1009.4 L777.8 1012.0 L779.4 1014.6 L781.0 1017.1 L782.7 1019.5 L784.4 1021.9 L786.2 1024.2 L788.1 1026.4 L790.1 1028.6 L792.1 1030.7 L794.2 1032.7 L796.4 1034.7 L798.6 1036.5 L801.0 1038.3 L803.4 1040.0 L805.8 1041.7 L808.3 1043.2 L810.9 1044.7 L813.5 1046.1 L816.2 1047.5 L818.9 1048.8 L821.7 1050.0 L824.5 1051.1 L827.3 1052.2 L830.2 1053.2 L833.1 1054.2 L836.0 1055.1 L838.9 1056.0 L841.8 1056.8 L844.8 1057.5 L847.8 1058.2 L850.7 1058.8 L853.7 1059.4 L856.7 1060.0 L859.6 1060.5 L862.6 1060.9 L865.6 1061.4 L868.6 1061.7 L871.5 1062.1 L874.5 1062.4 L877.5 1062.6 L880.5 1062.9 L883.5 1063.0 L886.4 1063.2 L889.4 1063.3 L892.4 1063.4 L895.4 1063.5 L898.4 1063.5 L901.3 1063.6 L904.3 1063.5 L907.3 1063.5 L910.3 1063.5 L913.3 1063.4 L916.3 1063.3 L919.3 1063.2 L922.3 1063.1 L925.2 1063.0 L928.2 1062.8 L931.2 1062.7 L934.2 1062.5 L937.2 1062.3 L940.2 1062.1 L943.2 1062.0 L946.2 1061.8 L949.2 1061.6 L952.2 1061.4 L955.2 1061.2 L958.1 1061.0 L961.1 1060.8 L964.1 1060.7 L967.1 1060.5 L970.1 1060.3 L973.1 1060.2 L976.1 1060.0 L979.1 1059.9 L982.1 1059.7 L985.1 1059.6 L988.1 1059.4 L991.1 1059.3 L994.1 1059.2 L997.1 1059.0 L1000.1 1058.9 L1003.1 1058.8 L1006.1 1058.7 L1009.1 1058.5 L1012.1 1058.4 L1015.0 1058.3 L1018.0 1058.2 L1021.0 1058.1 L1024.0 1058.0 L1027.0 1057.9 L1030.0 1057.8 L1033.0 1057.6 L1036.0 1057.5 L1039.0 1057.4 L1042.0 1057.3 L1045.0 1057.2 L1048.0 1057.1 L1051.0 1057.0 L1054.0 1056.9 L1057.0 1056.8 L1060.0 1056.7 L1063.0 1056.5 L1066.0 1056.4 L1069.0 1056.3 L1072.0 1056.2 L1075.0 1056.1 L1078.0 1056.0 L1081.0 1055.8 L1083.9 1055.7 L1086.9 1055.6 L1089.9 1055.5 L1092.9 1055.4 L1095.9 1055.2 L1098.9 1055.1 L1101.9 1055.0 L1104.9 1054.9 L1107.9 1054.7 L1110.9 1054.6 L1113.9 1054.5 L1116.9 1054.4 L1119.9 1054.2 L1122.9 1054.1 L1125.9 1054.0 L1128.9 1053.8 L1131.9 1053.7 L1134.9 1053.6 L1137.8 1053.4 L1140.8 1053.3 L1143.8 1053.2 L1146.8 1053.0 L1149.8 1052.9 L1152.8 1052.8 L1155.8 1052.6 L1158.8 1052.5 L1161.8 1052.3 L1164.8 1052.2 L1167.8 1052.1 L1170.8 1051.9 L1173.8 1051.8 L1176.8 1051.6 L1179.8 1051.5 L1182.8 1051.4 L1185.7 1051.2 L1188.7 1051.1 L1191.7 1050.9 L1194.7 1050.8 L1197.7 1050.6 L1200.7 1050.5 L1203.7 1050.4 L1206.7 1050.2 L1209.7 1050.1 L1212.7 1049.9 L1215.7 1049.8 L1218.7 1049.6 L1221.7 1049.5 L1224.7 1049.3 L1227.7 1049.2 L1230.6 1049.1 L1233.6 1048.9 L1236.6 1048.8 L1239.6 1048.6 L1242.6 1048.5 L1245.6 1048.3 L1248.6 1048.2 L1251.6 1048.1 L1254.6 1047.9 L1257.6 1047.8 L1260.6 1047.7 L1263.6 1047.5 L1266.6 1047.4 L1269.6 1047.3 L1272.6 1047.2 L1275.6 1047.0 L1278.6 1046.9 L1281.5 1046.8 L1284.5 1046.7 L1287.5 1046.6 L1290.5 1046.5 L1293.5 1046.4 L1296.5 1046.3 L1299.5 1046.2 L1302.5 1046.1 L1305.5 1046.0 L1308.5 1045.9 L1311.5 1045.8 L1314.5 1045.7 L1317.5 1045.6 L1320.5 1045.6 L1323.5 1045.5 L1326.5 1045.4 L1329.5 1045.4 L1332.5 1045.3 L1335.5 1045.3 L1338.5 1045.2 L1341.5 1045.2 L1344.5 1045.2 L1347.5 1045.1 L1350.5 1045.1 L1353.5 1045.1 L1356.5 1045.1 L1359.5 1045.1 L1362.5 1045.1 L1365.5 1045.1 L1368.5 1045.2 L1371.5 1045.2 L1374.4 1045.2 L1377.4 1045.3 L1380.4 1045.3 L1383.4 1045.4 L1386.4 1045.5 L1389.4 1045.5 L1392.4 1045.6 L1395.4 1045.7 L1398.4 1045.8 L1401.4 1046.0 L1404.4 1046.1 L1407.4 1046.2 L1410.4 1046.4 L1413.4 1046.5 L1416.3 1046.7 L1419.3 1046.9 L1422.3 1047.0 L1425.3 1047.2 L1428.3 1047.4 L1431.3 1047.7 L1434.3 1047.9 L1437.3 1048.1 L1440.2 1048.4 L1443.2 1048.6 L1446.2 1048.9 L1449.2 1049.1 L1452.2 1049.4 L1455.2 1049.7 L1458.1 1050.0 L1461.1 1050.2 L1464.1 1050.5 L1467.1 1050.8 L1470.1 1051.1 L1473.1 1051.4 L1476.0 1051.8 L1479.0 1052.1 L1482.0 1052.4 L1485.0 1052.7 L1488.0 1053.0 L1490.9 1053.4 L1493.9 1053.7 L1496.9 1054.0 L1499.9 1054.3 L1502.9 1054.7 L1505.9 1055.0 L1508.8 1055.3 L1511.8 1055.6 L1514.8 1056.0 L1517.8 1056.3 L1520.8 1056.6 L1523.7 1056.9 L1526.7 1057.3 L1529.7 1057.6 L1532.7 1057.9 L1535.7 1058.2 L1538.6 1058.6 L1541.6 1058.9 L1544.6 1059.2 L1547.6 1059.5 L1550.6 1059.9 L1553.5 1060.2 L1556.5 1060.5 L1559.5 1060.8 L1562.5 1061.1 L1565.5 1061.4 L1568.5 1061.8 L1571.4 1062.1 L1574.4 1062.4 L1577.4 1062.7 L1580.4 1063.0 L1583.4 1063.3 L1586.3 1063.6 L1589.3 1063.9 L1592.3 1064.2 L1595.3 1064.5 L1598.3 1064.8 L1601.3 1065.1 L1604.2 1065.4 L1607.2 1065.7 L1610.2 1066.0 L1613.2 1066.3 L1616.2 1066.6 L1619.2 1066.9 L1622.1 1067.2 L1625.1 1067.5 L1628.1 1067.7 L1631.1 1068.0 L1634.1 1068.3 L1637.1 1068.6 L1640.0 1068.8 L1643.0 1069.1 L1646.0 1069.4 L1649.0 1069.6 L1652.0 1069.9 L1655.0 1070.2 L1658.0 1070.4 L1660.9 1070.7 L1663.9 1070.9 L1666.9 1071.2 L1669.9 1071.4 L1672.9 1071.6 L1675.9 1071.9 L1678.9 1072.1 L1681.9 1072.3 L1684.8 1072.6 L1687.8 1072.8 L1690.8 1073.0 L1693.8 1073.2 L1696.8 1073.4 L1699.8 1073.7 L1702.8 1073.9 L1705.8 1074.1 L1708.7 1074.3 L1711.7 1074.5 L1714.7 1074.7 L1717.7 1074.8 L1720.7 1075.0 L1723.7 1075.2 L1726.7 1075.4 L1729.7 1075.6 L1732.7 1075.7 L1735.7 1075.9 L1738.7 1076.1 L1741.6 1076.2 L1744.6 1076.4 L1747.6 1076.5 L1750.6 1076.7 L1753.6 1076.8 L1756.6 1077.0 L1759.6 1077.1 L1762.6 1077.3 L1765.6 1077.4 L1768.6 1077.5 L1771.6 1077.7 L1774.6 1077.8 L1777.6 1077.9 L1780.6 1078.1 L1783.5 1078.2 L1786.5 1078.3 L1789.5 1078.4 L1792.5 1078.5 L1795.5 1078.6 L1798.5 1078.7 L1801.5 1078.9 L1804.5 1079.0 L1807.5 1079.1 L1810.5 1079.2 L1813.5 1079.3 L1816.5 1079.4 L1819.5 1079.4 L1822.5 1079.5 L1825.5 1079.6 L1828.5 1079.7 L1831.5 1079.8 L1834.5 1079.9 L1837.5 1080.0 L1840.5 1080.0 L1843.5 1080.1 L1846.5 1080.2 L1849.4 1080.3 L1852.4 1080.3 L1855.4 1080.4 L1858.4 1080.5 L1861.4 1080.5 L1864.4 1080.6 L1867.4 1080.7 L1870.4 1080.7 L1873.4 1080.8 L1876.4 1080.8 L1879.4 1080.9 L1882.4 1080.9 L1885.4 1081.0 L1888.4 1081.1 L1891.4 1081.1 L1894.4 1081.2 L1897.4 1081.2 L1900.4 1081.3 L1903.4 1081.3 L1906.4 1081.3 L1909.4 1081.4 L1912.4 1081.4 L1915.4 1081.5 L1918.4 1081.5 L1921.4 1081.6 L1924.4 1081.6 L1927.4 1081.6 L1930.4 1081.7 L1933.4 1081.7 L1936.4 1081.7 L1939.4 1081.8 L1942.4 1081.8 L1945.4 1081.8 L1948.3 1081.9 L1951.3 1081.9 L1954.3 1081.9 L1957.3 1082.0 L1960.3 1082.0 L1963.3 1082.0 L1966.3 1082.0 L1969.3 1082.1 L1972.3 1082.1 L1975.3 1082.1 L1978.3 1082.1 L1981.3 1082.2 L1984.3 1082.2 L1987.3 1082.2 L1990.3 1082.2 L1993.3 1082.2 L1996.3 1082.3 L1999.3 1082.3 L2002.3 1082.3 L2005.3 1082.3 L2008.3 1082.3 L2011.3 1082.3 L2014.3 1082.3 L2017.3 1082.4 L2020.3 1082.4 L2023.3 1082.4 L2026.3 1082.4 L2029.3 1082.4 L2032.3 1082.4 L2035.3 1082.4 L2038.3 1082.4 L2041.3 1082.4 L2044.3 1082.5 L2047.3 1082.5 L2050.3 1082.5 L2053.2 1082.5 L2056.2 1082.5 L2059.2 1082.5 L2062.2 1082.5 L2065.2 1082.5 L2068.2 1082.5 L2071.2 1082.5 L2074.2 1082.5 L2077.2 1082.5 L2080.2 1082.5 L2083.2 1082.5 L2086.2 1082.5 L2089.2 1082.5 L2092.2 1082.5 L2095.2 1082.5 L2098.2 1082.5 L2101.2 1082.5 L2104.2 1082.5 L2107.2 1082.5 L2110.2 1082.5 L2113.2 1082.5 L2116.2 1082.5 L2119.2 1082.5 L2122.2 1082.5 L2125.2 1082.5 L2128.2 1082.5 L2131.2 1082.5 L2134.2 1082.5 L2137.2 1082.5 L2140.2 1082.5 L2143.2 1082.5 L2146.2 1082.5 L2149.2 1082.5 L2152.2 1082.5 L2155.2 1082.5 L2158.2 1082.5 L2161.1 1082.5 L2164.1 1082.5 L2167.1 1082.5 L2170.1 1082.5 L2173.1 1082.5 L2176.1 1082.5 L2179.1 1082.5 L2182.1 1082.5 L2185.1 1082.5 L2188.1 1082.5 L2191.1 1082.4 L2194.1 1082.4 L2197.1 1082.4 L2200.1 1082.4 L2203.1 1082.4 L2206.1 1082.4 L2209.1 1082.4 L2212.1 1082.4 L2215.1 1082.4 L2218.1 1082.4 L2221.1 1082.4 L2224.1 1082.4 L2227.1 1082.4 L2230.1 1082.4 L2233.1 1082.4 L2236.1 1082.4 L2239.1 1082.4 L2242.1 1082.4 L2245.1 1082.4 L2248.1 1082.4 L2251.1 1082.4 L2254.1 1082.4 L2257.1 1082.4 L2260.1 1082.4 L2263.1 1082.4 L2266.1 1082.4 L2269.0 1082.4 L2272.0 1082.4 L2275.0 1082.5 L2278.0 1082.5 L2281.0 1082.5 L2284.0 1082.5 L2287.0 1082.5 L2290.0 1082.5 L2293.0 1082.5 L2296.0 1082.5 L2299.0 1082.5 L2302.0 1082.5 L2305.0 1082.5 L2308.0 1082.5 L2311.0 1082.5 L2314.0 1082.6 L2317.0 1082.6 L2320.0 1082.6" stroke="#FFBC00"/>
<path d="M298.3 45.1 L298.5 48.0 L298.7 51.0 L298.9 53.9 L299.1 56.9 L299.3 59.9 L299.5 62.8 L299.7 65.8 L300.0 68.8 L300.2 71.7 L300.4 74.7 L300.6 77.7 L300.8 80.7 L301.0 83.6 L301.2 86.6 L301.4 89.6 L301.7 92.6 L301.9 95.6 L302.1 98.5 L302.3 101.5 L302.6 104.5 L302.8 107.5 L303.0 110.5 L303.3 113.5 L303.5 116.5 L303.7 119.5 L304.0 122.5 L304.2 125.5 L304.5 128.5 L304.7 131.5 L305.0 134.5 L305.2 137.5 L305.5 140.5 L305.8 143.5 L306.1 146.4 L306.3 149.4 L306.6 152.4 L306.9 155.4 L307.2 158.4 L307.5 161.4 L307.8 164.4 L308.1 167.4 L308.4 170.4 L308.7 173.4 L309.1 176.3 L309.4 179.3 L309.7 182.3 L310.1 185.3 L310.4 188.2 L310.8 191.2 L311.1 194.2 L311.5 197.2 L311.9 200.1 L312.3 203.1 L312.7 206.0 L313.1 209.0 L313.5 212.0 L313.9 214.9 L314.3 217.9 L314.7 220.8 L315.2 223.7 L315.6 226.7 L316.1 229.6 L316.5 232.5 L317.0 235.5 L317.5 238.4 L318.0 241.3 L318.5 244.2 L319.0 247.1 L319.5 250.0 L320.0 252.9 L320.6 255.9 L321.1 258.8 L321.6 261.7 L322.2 264.6 L322.7 267.5 L323.3 270.4 L323.9 273.3 L324.4 276.2 L325.0 279.1 L325.6 282.0 L326.2 285.0 L326.7 287.9 L327.3 290.8 L327.9 293.7 L328.5 296.7 L329.1 299.6 L329.7 302.6 L330.3 305.5 L331.0 308.5 L331.6 311.5 L332.2 314.6 L332.9 317.6 L333.6 320.8 L334.4 323.9 L335.1 327.2 L335.9 330.4 L336.8 333.8 L337.6 337.2 L338.6 340.7 L339.5 344.2 L340.5 347.5 L341.6 350.6 L342.7 353.4 L343.8 355.6 L344.9 357.3 L346.1 358.2 L347.3 358.3 L348.5 357.6 L349.7 356.1 L350.9 354.0 L352.0 351.3 L353.2 348.3 L354.2 345.0 L355.2 341.5 L356.2 338.0 L357.0 334.6 L357.8 331.2 L358.5 327.9 L359.2 324.6 L359.8 321.4 L360.3 318.2 L360.8 315.1 L361.3 312.0 L361.8 308.9 L362.2 305.9 L362.7 302.9 L363.1 299.9 L363.6 296.9 L364.1 294.0 L364.6 291.0 L365.1 288.1 L365.7 285.1 L366.2 282.2 L366.8 279.3 L367.3 276.4 L367.9 273.5 L368.4 270.6 L369.0 267.7 L369.6 264.8 L370.1 261.9 L370.7 259.0 L371.2 256.1 L371.8 253.2 L372.3 250.3 L372.9 247.4 L373.4 244.5 L373.9 241.6 L374.4 238.7 L374.8 235.7 L375.3 232.8 L375.8 229.9 L376.2 226.9 L376.7 224.0 L377.1 221.1 L377.5 218.1 L377.9 215.2 L378.3 212.2 L378.7 209.2 L379.1 206.3 L379.5 203.3 L379.8 200.3 L380.2 197.4 L380.5 194.4 L380.9 191.4 L381.2 188.5 L381.5 185.5 L381.8 182.5 L382.1 179.5 L382.4 176.5 L382.7 173.5 L383.0 170.5 L383.3 167.6 L383.5 164.6 L383.8 161.6 L384.0 158.6 L384.3 155.6 L384.5 152.6 L384.8 149.6 L385.0 146.6 L385.2 143.6 L385.4 140.6 L385.6 137.6 L385.9 134.6 L386.1 131.6 L386.3 128.6 L386.4 125.6 L386.6 122.6 L386.8 119.6 L387.0 116.6 L387.2 113.6 L387.3 110.6 L387.5 107.6 L387.7 104.6 L387.8 101.6 L388.0 98.6 L388.1 95.6 L388.3 92.6 L388.4 89.6 L388.6 86.7 L388.7 83.7 L388.8 80.7 L389.0 77.7 L389.1 74.7 L389.2 71.8 L389.4 68.8 L389.5 65.8 L389.6 62.8 L389.8 59.9 L389.9 56.9 L390.0 53.9 L390.1 51.0 L390.3 48.0 L390.4 45.1 M421.2 45.0 L421.3 48.0 L421.4 51.0 L421.4 54.0 L421.5 57.0 L421.6 60.0 L421.7 63.0 L421.8 66.0 L421.9 69.0 L422.0 72.0 L422.1 75.0 L422.2 78.0 L422.3 81.0 L422.4 84.0 L422.5 87.0 L422.6 90.0 L422.7 93.0 L422.8 96.0 L422.9 99.0 L422.9 102.0 L423.0 104.9 L423.1 107.9 L423.2 110.9 L423.3 113.9 L423.4 116.9 L423.5 119.9 L423.6 122.9 L423.7 125.9 L423.8 128.9 L423.9 131.9 L424.0 134.9 L424.1 137.9 L424.2 140.9 L424.3 143.9 L424.4 146.9 L424.5 149.9 L424.6 152.9 L424.6 155.9 L424.7 158.9 L424.8 161.9 L424.9 164.9 L425.0 167.9 L425.1 170.9 L425.2 173.9 L425.3 176.9 L425.4 179.9 L425.5 182.9 L425.6 185.9 L425.7 188.9 L425.8 191.9 L425.9 194.9 L426.0 197.9 L426.1 200.9 L426.2 203.9 L426.3 206.9 L426.4 209.9 L426.5 212.9 L426.6 215.9 L426.7 218.9 L426.8 221.9 L426.8 224.9 L426.9 227.9 L427.0 230.9 L427.1 233.9 L427.2 236.9 L427.3 239.9 L427.4 242.9 L427.5 245.9 L427.6 248.9 L427.7 251.9 L427.8 254.9 L427.9 257.9 L428.0 260.9 L428.1 263.9 L428.2 266.9 L428.3 269.9 L428.4 272.9 L428.5 275.9 L428.6 278.9 L428.7 281.9 L428.8 284.9 L428.9 287.9 L429.0 290.9 L429.1 293.9 L429.2 296.9 L429.3 299.9 L429.4 302.9 L429.5 305.9 L429.6 308.9 L429.7 311.9 L429.8 314.9 L429.9 317.9 L429.9 320.9 L430.0 323.9 L430.1 326.9 L430.2 329.9 L430.3 332.8 L430.4 335.8 L430.5 338.8 L430.6 341.8 L430.7 344.8 L430.8 347.8 L430.9 350.8 L431.0 353.8 L431.1 356.8 L431.2 359.8 L431.3 362.8 L431.4 365.8 L431.5 368.8 L431.6 371.8 L431.7 374.8 L431.8 377.8 L431.9 380.8 L432.0 383.8 L432.1 386.8 L432.2 389.8 L432.3 392.8 L432.4 395.8 L432.5 398.8 L432.6 401.8 L432.7 404.8 L432.8 407.8 L432.9 410.8 L433.0 413.8 L433.1 416.8 L433.2 419.8 L433.3 422.8 L433.4 425.8 L433.5 428.8 L433.6 431.8 L433.7 434.8 L433.8 437.8 L433.9 440.8 L434.0 443.8 L434.1 446.8 L434.2 449.8 L434.3 452.8 L434.4 455.8 L434.5 458.8 L434.6 461.8 L434.7 464.8 L434.8 467.8 L434.9 470.8 L435.0 473.8 L435.0 476.8 L435.1 479.8 L435.2 482.8 L435.3 485.8 L435.4 488.8 L435.5 491.8 L435.6 494.8 L435.7 497.8 L435.8 500.8 L435.9 503.8 L436.0 506.8 L436.1 509.8 L436.2 512.8 L436.3 515.8 L436.4 518.7 L436.5 521.7 L436.6 524.7 L436.7 527.7 L436.8 530.7 L436.9 533.7 L437.0 536.7 L437.1 539.7 L437.2 542.7 L437.3 545.7 L437.4 548.7 L437.5 551.7 L437.6 554.7 L437.7 557.7 L437.8 560.7 L437.9 563.7 L438.0 566.7 L438.1 569.7 L438.2 572.7 L438.3 575.7 L438.4 578.7 L438.5 581.7 L438.6 584.7 L438.7 587.6 L438.8 590.6 L438.9 593.6 L439.0 596.6 L439.1 599.6 L439.3 602.6 L439.4 605.6 L439.5 608.6 L439.6 611.6 L439.7 614.6 L439.8 617.6 L439.9 620.6 L440.1 623.6 L440.2 626.6 L440.3 629.6 L440.4 632.6 L440.6 635.6 L440.7 638.5 L440.8 641.5 L441.0 644.5 L441.1 647.5 L441.3 650.5 L441.4 653.5 L441.6 656.5 L441.7 659.5 L441.9 662.5 L442.0 665.5 L442.2 668.5 L442.4 671.5 L442.6 674.5 L442.7 677.4 L442.9 680.4 L443.1 683.4 L443.3 686.4 L443.5 689.4 L443.7 692.4 L443.9 695.4 L444.1 698.4 L444.3 701.4 L444.5 704.4 L444.7 707.4 L445.0 710.4 L445.2 713.4 L445.4 716.3 L445.7 719.3 L445.9 722.3 L446.2 725.3 L446.5 728.3 L446.7 731.3 L447.0 734.3 L447.3 737.3 L447.6 740.3 L447.8 743.3 L448.1 746.3 L448.4 749.2 L448.8 752.2 L449.1 755.2 L449.4 758.2 L449.7 761.2 L450.1 764.2 L450.4 767.2 L450.8 770.2 L451.1 773.2 L451.5 776.2 L451.9 779.2 L452.3 782.1 L452.6 785.1 L453.0 788.1 L453.5 791.1 L453.9 794.1 L454.3 797.1 L454.8 800.1 L455.2 803.0 L455.7 806.0 L456.3 809.0 L456.8 811.9 L457.3 814.9 L457.9 817.8 L458.5 820.8 L459.2 823.7 L459.8 826.6 L460.5 829.5 L461.2 832.4 L462.0 835.3 L462.8 838.2 L463.6 841.1 L464.5 843.9 L465.4 846.8 L466.3 849.6 L467.3 852.4 L468.3 855.2 L469.4 858.0 L470.5 860.8 L471.6 863.5 L472.8 866.3 L474.1 869.0 L475.4 871.7 L476.8 874.3 L478.3 876.9 L479.9 879.4 L481.6 881.8 L483.3 884.2 L485.2 886.5 L487.2 888.7 L489.3 890.8 L491.6 892.8 L493.9 894.7 L496.4 896.5 L498.9 898.2 L501.5 899.7 L504.2 901.1 L507.0 902.4 L509.8 903.5 L512.7 904.5 L515.7 905.3 L518.6 906.0 L521.6 906.6 L524.7 907.0 L527.7 907.3 L530.8 907.4 L533.8 907.4 L536.9 907.2 L539.9 907.0 L542.9 906.5 L545.9 906.0 L548.8 905.3 L551.7 904.5 L554.5 903.5 L557.3 902.4 L560.0 901.2 L562.6 899.8 L565.1 898.3 L567.6 896.7 L570.0 895.0 L572.3 893.2 L574.6 891.2 L576.8 889.2 L578.9 887.1 L581.0 884.9 L583.0 882.6 L584.9 880.2 L586.8 877.8 L588.7 875.3 L590.5 872.7 L592.2 870.1 L593.9 867.5 L595.6 864.8 L597.2 862.1 L598.8 859.4 L600.3 856.6 L601.8 853.8 L603.3 851.1 L604.8 848.3 L606.2 845.5 L607.6 842.7 L609.0 840.0 L610.3 837.2 L611.7 834.5 L613.0 831.9 L614.3 829.2 L615.6 826.6 L616.9 824.1 L618.2 821.5 L619.5 819.0 L620.7 816.5 L622.0 814.0 L623.3 811.4 L624.6 808.8 L626.0 806.2 L627.3 803.6 L628.7 800.9 L630.0 798.1 L631.4 795.3 L632.9 792.4 L634.3 789.4 L635.8 786.5 L637.4 783.5 L639.0 780.5 L640.6 777.6 L642.2 774.6 L643.9 771.8 L645.7 769.0 L647.5 766.3 L649.4 763.7 L651.3 761.2 L653.3 758.8 L655.3 756.6 L657.5 754.6 L659.7 752.7 L661.9 751.0 L664.2 749.6 L666.7 748.4 L669.2 747.4 L671.7 746.6 L674.4 746.2 L677.0 745.9 L679.7 745.9 L682.5 746.1 L685.2 746.5 L687.9 747.2 L690.6 748.0 L693.2 749.0 L695.7 750.2 L698.2 751.6 L700.6 753.2 L702.8 754.9 L705.0 756.8 L707.0 758.8 L708.9 761.0 L710.8 763.3 L712.5 765.7 L714.1 768.3 L715.7 770.9 L717.1 773.6 L718.5 776.4 L719.8 779.3 L721.1 782.3 L722.3 785.3 L723.5 788.3 L724.6 791.4 L725.6 794.5 L726.6 797.7 L727.6 800.8 L728.6 804.0 L729.5 807.2 L730.4 810.3 L731.3 813.4 L732.2 816.5 L733.1 819.6 L733.9 822.6 L734.8 825.6 L735.7 828.6 L736.5 831.5 L737.4 834.5 L738.2 837.4 L739.0 840.3 L739.8 843.1 L740.7 846.0 L741.5 848.9 L742.3 851.7 L743.0 854.5 L743.8 857.3 L744.6 860.1 L745.4 862.9 L746.1 865.7 L746.9 868.5 L747.6 871.3 L748.4 874.0 L749.1 876.8 L749.8 879.6 L750.5 882.3 L751.2 885.1 L751.9 887.9 L752.6 890.7 L753.3 893.5 L754.0 896.3 L754.7 899.1 L755.3 901.9 L756.0 904.8 L756.6 907.6 L757.3 910.5 L757.9 913.4 L758.6 916.3 L759.2 919.2 L759.8 922.2 L760.4 925.1 L761.1 928.1 L761.7 931.1 L762.3 934.1 L762.9 937.2 L763.6 940.2 L764.2 943.2 L764.9 946.3 L765.6 949.3 L766.3 952.3 L767.0 955.4 L767.8 958.4 L768.6 961.4 L769.4 964.4 L770.2 967.4 L771.1 970.3 L772.1 973.3 L773.1 976.2 L774.1 979.1 L775.2 981.9 L776.3 984.8 L777.5 987.6 L778.8 990.3 L780.1 993.0 L781.5 995.7 L782.9 998.4 L784.4 1000.9 L785.9 1003.5 L787.6 1006.0 L789.2 1008.4 L791.0 1010.8 L792.7 1013.2 L794.6 1015.5 L796.5 1017.7 L798.4 1019.9 L800.4 1022.1 L802.5 1024.1 L804.6 1026.2 L806.8 1028.1 L809.0 1030.0 L811.2 1031.8 L813.6 1033.6 L815.9 1035.3 L818.3 1036.9 L820.8 1038.4 L823.3 1039.9 L825.8 1041.3 L828.4 1042.7 L831.1 1043.9 L833.8 1045.1 L836.5 1046.2 L839.3 1047.2 L842.1 1048.2 L844.9 1049.0 L847.8 1049.8 L850.8 1050.5 L853.7 1051.1 L856.8 1051.6 L859.8 1052.0 L862.8 1052.4 L865.9 1052.8 L869.0 1053.0 L872.1 1053.3 L875.2 1053.5 L878.3 1053.7 L881.4 1053.9 L884.5 1054.0 L887.6 1054.2 L890.7 1054.3 L893.7 1054.5 L896.8 1054.6 L899.8 1054.7 L902.8 1054.9 L905.8 1055.0 L908.8 1055.0 L911.8 1055.1 L914.8 1055.1 L917.7 1055.1 L920.7 1055.0 L923.7 1054.9 L926.6 1054.7 L929.6 1054.5 L932.5 1054.3 L935.5 1054.0 L938.4 1053.7 L941.4 1053.4 L944.3 1053.1 L947.3 1052.7 L950.2 1052.3 L953.2 1052.0 L956.1 1051.6 L959.1 1051.2 L962.0 1050.8 L965.0 1050.5 L968.0 1050.2 L970.9 1049.8 L973.9 1049.5 L976.9 1049.2 L979.8 1048.9 L982.8 1048.6 L985.8 1048.4 L988.8 1048.1 L991.8 1047.8 L994.8 1047.6 L997.7 1047.4 L1000.7 1047.1 L1003.7 1046.9 L1006.7 1046.7 L1009.7 1046.5 L1012.7 1046.3 L1015.7 1046.1 L1018.7 1045.9 L1021.7 1045.7 L1024.7 1045.5 L1027.7 1045.3 L1030.7 1045.1 L1033.7 1044.9 L1036.7 1044.7 L1039.7 1044.5 L1042.7 1044.3 L1045.7 1044.1 L1048.7 1043.9 L1051.7 1043.7 L1054.7 1043.5 L1057.7 1043.3 L1060.7 1043.1 L1063.7 1042.9 L1066.7 1042.7 L1069.7 1042.5 L1072.7 1042.3 L1075.7 1042.1 L1078.6 1041.9 L1081.6 1041.7 L1084.6 1041.5 L1087.6 1041.2 L1090.6 1041.0 L1093.6 1040.8 L1096.6 1040.6 L1099.6 1040.4 L1102.6 1040.1 L1105.6 1039.9 L1108.6 1039.7 L1111.6 1039.5 L1114.6 1039.2 L1117.6 1039.0 L1120.6 1038.8 L1123.5 1038.6 L1126.5 1038.3 L1129.5 1038.1 L1132.5 1037.9 L1135.5 1037.7 L1138.5 1037.4 L1141.5 1037.2 L1144.5 1037.0 L1147.5 1036.8 L1150.5 1036.5 L1153.5 1036.3 L1156.5 1036.1 L1159.4 1035.9 L1162.4 1035.6 L1165.4 1035.4 L1168.4 1035.2 L1171.4 1035.0 L1174.4 1034.8 L1177.4 1034.6 L1180.4 1034.3 L1183.4 1034.1 L1186.4 1033.9 L1189.4 1033.7 L1192.4 1033.5 L1195.3 1033.3 L1198.3 1033.1 L1201.3 1032.9 L1204.3 1032.7 L1207.3 1032.5 L1210.3 1032.3 L1213.3 1032.1 L1216.3 1031.9 L1219.3 1031.7 L1222.3 1031.5 L1225.3 1031.3 L1228.3 1031.2 L1231.3 1031.0 L1234.3 1030.8 L1237.3 1030.6 L1240.2 1030.5 L1243.2 1030.3 L1246.2 1030.1 L1249.2 1030.0 L1252.2 1029.8 L1255.2 1029.7 L1258.2 1029.5 L1261.2 1029.4 L1264.2 1029.3 L1267.2 1029.1 L1270.2 1029.0 L1273.2 1028.9 L1276.2 1028.7 L1279.2 1028.6 L1282.2 1028.5 L1285.2 1028.4 L1288.2 1028.3 L1291.2 1028.2 L1294.2 1028.1 L1297.2 1028.0 L1300.2 1027.9 L1303.2 1027.8 L1306.2 1027.7 L1309.2 1027.7 L1312.2 1027.6 L1315.2 1027.6 L1318.2 1027.5 L1321.2 1027.4 L1324.2 1027.4 L1327.2 1027.4 L1330.2 1027.3 L1333.2 1027.3 L1336.2 1027.3 L1339.2 1027.3 L1342.2 1027.3 L1345.2 1027.3 L1348.2 1027.3 L1351.2 1027.3 L1354.2 1027.3 L1357.2 1027.3 L1360.2 1027.3 L1363.2 1027.4 L1366.2 1027.4 L1369.2 1027.5 L1372.1 1027.5 L1375.1 1027.6 L1378.1 1027.7 L1381.1 1027.7 L1384.1 1027.8 L1387.1 1027.9 L1390.1 1028.0 L1393.1 1028.1 L1396.1 1028.2 L1399.1 1028.4 L1402.1 1028.5 L1405.1 1028.6 L1408.1 1028.8 L1411.1 1028.9 L1414.1 1029.1 L1417.0 1029.3 L1420.0 1029.4 L1423.0 1029.6 L1426.0 1029.8 L1429.0 1030.0 L1432.0 1030.2 L1435.0 1030.5 L1438.0 1030.7 L1440.9 1030.9 L1443.9 1031.2 L1446.9 1031.5 L1449.9 1031.7 L1452.9 1032.0 L1455.9 1032.3 L1458.8 1032.6 L1461.8 1032.9 L1464.8 1033.2 L1467.8 1033.5 L1470.7 1033.9 L1473.7 1034.2 L1476.7 1034.6 L1479.7 1034.9 L1482.7 1035.3 L1485.6 1035.7 L1488.6 1036.0 L1491.6 1036.4 L1494.6 1036.8 L1497.5 1037.2 L1500.5 1037.6 L1503.5 1038.0 L1506.4 1038.5 L1509.4 1038.9 L1512.4 1039.3 L1515.4 1039.7 L1518.3 1040.2 L1521.3 1040.6 L1524.3 1041.1 L1527.2 1041.5 L1530.2 1042.0 L1533.2 1042.4 L1536.1 1042.9 L1539.1 1043.4 L1542.1 1043.8 L1545.0 1044.3 L1548.0 1044.8 L1551.0 1045.2 L1553.9 1045.7 L1556.9 1046.2 L1559.9 1046.7 L1562.8 1047.1 L1565.8 1047.6 L1568.8 1048.1 L1571.7 1048.6 L1574.7 1049.1 L1577.7 1049.5 L1580.6 1050.0 L1583.6 1050.5 L1586.6 1050.9 L1589.6 1051.4 L1592.5 1051.9 L1595.5 1052.3 L1598.5 1052.8 L1601.4 1053.3 L1604.4 1053.7 L1607.4 1054.2 L1610.3 1054.6 L1613.3 1055.1 L1616.3 1055.5 L1619.2 1056.0 L1622.2 1056.4 L1625.2 1056.8 L1628.2 1057.2 L1631.1 1057.6 L1634.1 1058.1 L1637.1 1058.5 L1640.1 1058.9 L1643.0 1059.3 L1646.0 1059.7 L1649.0 1060.1 L1652.0 1060.4 L1654.9 1060.8 L1657.9 1061.2 L1660.9 1061.6 L1663.9 1061.9 L1666.8 1062.3 L1669.8 1062.6 L1672.8 1063.0 L1675.8 1063.3 L1678.7 1063.7 L1681.7 1064.0 L1684.7 1064.4 L1687.7 1064.7 L1690.7 1065.0 L1693.6 1065.3 L1696.6 1065.7 L1699.6 1066.0 L1702.6 1066.3 L1705.6 1066.6 L1708.6 1066.9 L1711.5 1067.2 L1714.5 1067.5 L1717.5 1067.8 L1720.5 1068.1 L1723.5 1068.3 L1726.5 1068.6 L1729.4 1068.9 L1732.4 1069.2 L1735.4 1069.4 L1738.4 1069.7 L1741.4 1070.0 L1744.4 1070.2 L1747.4 1070.5 L1750.3 1070.7 L1753.3 1070.9 L1756.3 1071.2 L1759.3 1071.4 L1762.3 1071.7 L1765.3 1071.9 L1768.3 1072.1 L1771.3 1072.3 L1774.2 1072.5 L1777.2 1072.8 L1780.2 1073.0 L1783.2 1073.2 L1786.2 1073.4 L1789.2 1073.6 L1792.2 1073.8 L1795.2 1074.0 L1798.2 1074.2 L1801.2 1074.4 L1804.1 1074.5 L1807.1 1074.7 L1810.1 1074.9 L1813.1 1075.1 L1816.1 1075.3 L1819.1 1075.4 L1822.1 1075.6 L1825.1 1075.8 L1828.1 1075.9 L1831.1 1076.1 L1834.1 1076.2 L1837.1 1076.4 L1840.1 1076.5 L1843.1 1076.7 L1846.0 1076.8 L1849.0 1077.0 L1852.0 1077.1 L1855.0 1077.2 L1858.0 1077.4 L1861.0 1077.5 L1864.0 1077.6 L1867.0 1077.7 L1870.0 1077.9 L1873.0 1078.0 L1876.0 1078.1 L1879.0 1078.2 L1882.0 1078.3 L1885.0 1078.4 L1888.0 1078.5 L1891.0 1078.6 L1894.0 1078.7 L1897.0 1078.8 L1900.0 1078.9 L1903.0 1079.0 L1906.0 1079.1 L1909.0 1079.2 L1912.0 1079.3 L1915.0 1079.4 L1918.0 1079.5 L1921.0 1079.6 L1924.0 1079.6 L1927.0 1079.7 L1930.0 1079.8 L1933.0 1079.9 L1936.0 1079.9 L1939.0 1080.0 L1942.0 1080.1 L1945.0 1080.1 L1948.0 1080.2 L1951.0 1080.3 L1954.0 1080.3 L1957.0 1080.4 L1960.0 1080.4 L1963.0 1080.5 L1966.0 1080.6 L1969.0 1080.6 L1972.0 1080.7 L1975.0 1080.7 L1978.0 1080.8 L1981.0 1080.8 L1984.0 1080.8 L1987.0 1080.9 L1990.0 1080.9 L1993.0 1081.0 L1996.0 1081.0 L1999.0 1081.0 L2002.0 1081.1 L2005.0 1081.1 L2008.0 1081.1 L2011.0 1081.2 L2014.0 1081.2 L2017.0 1081.2 L2020.0 1081.3 L2023.0 1081.3 L2026.0 1081.3 L2029.0 1081.3 L2032.0 1081.4 L2035.0 1081.4 L2038.0 1081.4 L2041.0 1081.4 L2044.0 1081.4 L2047.0 1081.5 L2050.0 1081.5 L2053.0 1081.5 L2056.0 1081.5 L2059.0 1081.5 L2062.0 1081.5 L2065.0 1081.5 L2068.0 1081.6 L2071.0 1081.6 L2074.0 1081.6 L2077.0 1081.6 L2080.0 1081.6 L2083.0 1081.6 L2086.0 1081.6 L2089.0 1081.6 L2092.0 1081.6 L2095.0 1081.6 L2098.0 1081.7 L2101.0 1081.7 L2104.1 1081.7 L2107.1 1081.7 L2110.1 1081.7 L2113.1 1081.7 L2116.1 1081.7 L2119.1 1081.7 L2122.1 1081.7 L2125.1 1081.7 L2128.1 1081.7 L2131.1 1081.7 L2134.1 1081.7 L2137.1 1081.7 L2140.1 1081.7 L2143.1 1081.7 L2146.1 1081.7 L2149.1 1081.7 L2152.1 1081.7 L2155.1 1081.7 L2158.1 1081.7 L2161.1 1081.7 L2164.1 1081.7 L2167.1 1081.7 L2170.1 1081.7 L2173.1 1081.7 L2176.1 1081.8 L2179.1 1081.8 L2182.1 1081.8 L2185.1 1081.8 L2188.1 1081.8 L2191.1 1081.8 L2194.1 1081.8 L2197.1 1081.8 L2200.1 1081.8 L2203.1 1081.8 L2206.1 1081.8 L2209.1 1081.8 L2212.1 1081.8 L2215.1 1081.8 L2218.1 1081.9 L2221.1 1081.9 L2224.1 1081.9 L2227.1 1081.9 L2230.1 1081.9 L2233.1 1081.9 L2236.1 1081.9 L2239.1 1082.0 L2242.0 1082.0 L2245.0 1082.0 L2248.0 1082.0 L2251.0 1082.0 L2254.0 1082.1 L2257.0 1082.1 L2260.0 1082.1 L2263.0 1082.1 L2266.0 1082.1 L2269.0 1082.2 L2272.0 1082.2 L2275.0 1082.2 L2278.0 1082.3 L2281.0 1082.3 L2284.0 1082.3 L2287.0 1082.4 L2290.0 1082.4 L2293.0 1082.4 L2296.0 1082.5 L2299.0 1082.5 L2302.0 1082.6 L2304.9 1082.6 L2307.9 1082.6 L2310.9 1082.7 L2313.9 1082.7 L2316.9 1082.8 L2319.9 1082.8" stroke="#0097D8"/>
<path d="M321.0 44.8 L321.0 48.0 L321.0 51.1 L321.0 54.3 L321.1 57.3 L321.2 60.4 L321.4 63.4 L321.6 66.4 L321.9 69.4 L322.2 72.4 L322.5 75.4 L322.9 78.3 L323.2 81.2 L323.6 84.1 L324.1 87.0 L324.5 89.9 L325.0 92.8 L325.5 95.7 L326.0 98.6 L326.5 101.5 L327.0 104.3 L327.5 107.2 L328.0 110.1 L328.6 113.0 L329.1 115.9 L329.6 118.8 L330.1 121.7 L330.6 124.6 L331.1 127.5 L331.6 130.5 L332.1 133.4 L332.6 136.4 L333.0 139.4 L333.4 142.4 L333.8 145.5 L334.2 148.6 L334.5 151.7 L334.8 154.8 L335.1 157.9 L335.3 161.1 L335.5 164.3 L335.7 167.6 L335.8 170.9 L336.0 174.1 L336.3 177.4 L336.8 180.5 L337.5 183.6 L338.6 186.5 L340.1 188.9 L341.8 190.2 L343.7 189.8 L345.7 188.2 L347.5 186.3 L349.1 184.3 L350.6 182.1 L351.9 179.7 L353.1 177.2 L354.1 174.6 L355.0 171.9 L355.8 169.1 L356.5 166.2 L357.1 163.2 L357.6 160.2 L358.1 157.1 L358.5 153.9 L358.8 150.7 L359.1 147.5 L359.3 144.2 L359.5 141.0 L359.7 137.7 L359.9 134.5 L360.1 131.3 L360.3 128.1 L360.6 125.0 L360.9 121.9 L361.2 118.9 L361.5 115.9 L361.8 112.9 L362.2 110.0 L362.5 107.0 L362.9 104.1 L363.2 101.3 L363.6 98.4 L363.9 95.5 L364.3 92.7 L364.6 89.9 L364.9 87.0 L365.2 84.2 L365.5 81.3 L365.8 78.4 L366.0 75.5 L366.2 72.6 L366.3 69.7 L366.5 66.7 L366.5 63.7 L366.6 60.7 L366.5 57.6 L366.5 54.5 L366.3 51.4 L366.1 48.1 L365.9 44.9 M429.1 45.0 L429.3 48.0 L429.4 51.0 L429.5 54.0 L429.6 57.0 L429.7 60.0 L429.9 63.0 L430.0 66.0 L430.1 69.0 L430.2 71.9 L430.3 74.9 L430.4 77.9 L430.5 80.9 L430.6 83.9 L430.7 86.9 L430.8 89.9 L430.9 92.9 L431.0 95.9 L431.1 98.9 L431.2 101.9 L431.3 104.9 L431.4 107.8 L431.5 110.8 L431.6 113.8 L431.6 116.8 L431.7 119.8 L431.8 122.8 L431.9 125.8 L432.0 128.8 L432.1 131.8 L432.1 134.8 L432.2 137.8 L432.3 140.8 L432.4 143.8 L432.4 146.8 L432.5 149.7 L432.6 152.7 L432.7 155.7 L432.7 158.7 L432.8 161.7 L432.9 164.7 L432.9 167.7 L433.0 170.7 L433.1 173.7 L433.1 176.7 L433.2 179.7 L433.3 182.7 L433.3 185.7 L433.4 188.7 L433.4 191.7 L433.5 194.7 L433.6 197.7 L433.6 200.6 L433.7 203.6 L433.7 206.6 L433.8 209.6 L433.9 212.6 L433.9 215.6 L434.0 218.6 L434.0 221.6 L434.1 224.6 L434.1 227.6 L434.2 230.6 L434.2 233.6 L434.3 236.6 L434.4 239.6 L434.4 242.6 L434.5 245.6 L434.5 248.6 L434.6 251.6 L434.6 254.6 L434.7 257.6 L434.7 260.6 L434.8 263.5 L434.8 266.5 L434.9 269.5 L434.9 272.5 L435.0 275.5 L435.0 278.5 L435.1 281.5 L435.1 284.5 L435.2 287.5 L435.2 290.5 L435.3 293.5 L435.3 296.5 L435.4 299.5 L435.4 302.5 L435.5 305.5 L435.5 308.5 L435.6 311.5 L435.6 314.5 L435.7 317.5 L435.7 320.5 L435.8 323.5 L435.9 326.5 L435.9 329.5 L436.0 332.4 L436.0 335.4 L436.1 338.4 L436.1 341.4 L436.2 344.4 L436.2 347.4 L436.3 350.4 L436.4 353.4 L436.4 356.4 L436.5 359.4 L436.5 362.4 L436.6 365.4 L436.7 368.4 L436.7 371.4 L436.8 374.4 L436.9 377.4 L436.9 380.4 L437.0 383.4 L437.1 386.4 L437.1 389.4 L437.2 392.4 L437.3 395.3 L437.3 398.3 L437.4 401.3 L437.5 404.3 L437.5 407.3 L437.6 410.3 L437.7 413.3 L437.8 416.3 L437.8 419.3 L437.9 422.3 L438.0 425.3 L438.1 428.3 L438.2 431.3 L438.3 434.3 L438.3 437.3 L438.4 440.3 L438.5 443.3 L438.6 446.3 L438.7 449.2 L438.8 452.2 L438.9 455.2 L439.0 458.2 L439.1 461.2 L439.2 464.2 L439.3 467.2 L439.4 470.2 L439.5 473.2 L439.6 476.2 L439.7 479.2 L439.8 482.2 L439.9 485.2 L440.0 488.2 L440.1 491.1 L440.2 494.1 L440.3 497.1 L440.5 500.1 L440.6 503.1 L440.7 506.1 L440.8 509.1 L440.9 512.1 L441.1 515.1 L441.2 518.1 L441.3 521.1 L441.5 524.1 L441.6 527.1 L441.7 530.0 L441.9 533.0 L442.0 536.0 L442.1 539.0 L442.3 542.0 L442.4 545.0 L442.6 548.0 L442.7 551.0 L442.9 554.0 L443.0 557.0 L443.2 559.9 L443.4 562.9 L443.5 565.9 L443.7 568.9 L443.9 571.9 L444.0 574.9 L444.2 577.9 L444.4 580.9 L444.5 583.9 L444.7 586.8 L444.9 589.8 L445.1 592.8 L445.3 595.8 L445.5 598.8 L445.7 601.8 L445.9 604.8 L446.0 607.8 L446.2 610.8 L446.4 613.7 L446.7 616.7 L446.9 619.7 L447.1 622.7 L447.3 625.7 L447.5 628.7 L447.7 631.7 L447.9 634.6 L448.2 637.6 L448.4 640.6 L448.6 643.6 L448.9 646.6 L449.1 649.6 L449.3 652.6 L449.6 655.5 L449.8 658.5 L450.1 661.5 L450.3 664.5 L450.6 667.5 L450.8 670.5 L451.1 673.4 L451.4 676.4 L451.6 679.4 L451.9 682.4 L452.2 685.4 L452.5 688.4 L452.7 691.3 L453.0 694.3 L453.3 697.3 L453.6 700.3 L453.9 703.3 L454.2 706.2 L454.5 709.2 L454.8 712.2 L455.1 715.2 L455.4 718.2 L455.7 721.1 L456.0 724.1 L456.4 727.1 L456.7 730.1 L457.0 733.1 L457.4 736.0 L457.7 739.0 L458.0 742.0 L458.4 745.0 L458.7 748.0 L459.1 750.9 L459.4 753.9 L459.8 756.9 L460.2 759.9 L460.5 762.8 L460.9 765.8 L461.3 768.8 L461.7 771.8 L462.0 774.7 L462.4 777.7 L462.8 780.7 L463.2 783.7 L463.6 786.6 L464.1 789.6 L464.6 792.5 L465.1 795.4 L465.7 798.3 L466.4 801.2 L467.2 804.0 L468.0 806.8 L469.0 809.6 L470.0 812.3 L471.2 814.9 L472.5 817.5 L473.9 820.1 L475.5 822.5 L477.2 825.0 L479.1 827.3 L481.2 829.6 L483.4 831.7 L485.8 833.8 L488.3 835.8 L490.9 837.6 L493.6 839.3 L496.4 840.9 L499.2 842.3 L502.1 843.5 L505.0 844.6 L508.0 845.4 L511.0 846.1 L514.0 846.5 L516.9 846.8 L519.9 846.8 L522.8 846.7 L525.7 846.4 L528.5 845.9 L531.3 845.2 L534.1 844.3 L536.8 843.3 L539.4 842.1 L542.0 840.8 L544.4 839.3 L546.8 837.7 L549.1 836.0 L551.3 834.1 L553.4 832.1 L555.4 830.0 L557.3 827.7 L559.1 825.4 L560.8 823.0 L562.4 820.4 L563.9 817.8 L565.4 815.2 L566.7 812.4 L568.0 809.6 L569.3 806.8 L570.5 803.9 L571.7 800.9 L572.8 798.0 L573.9 795.0 L574.9 792.0 L575.9 789.0 L576.9 786.0 L577.9 783.0 L578.9 780.1 L579.9 777.1 L580.9 774.2 L581.9 771.3 L582.9 768.4 L583.9 765.6 L584.9 762.8 L585.9 760.0 L586.9 757.2 L587.9 754.5 L588.9 751.8 L589.9 749.0 L591.0 746.3 L592.0 743.6 L593.0 741.0 L594.1 738.3 L595.1 735.6 L596.2 733.0 L597.2 730.3 L598.3 727.7 L599.3 725.0 L600.4 722.4 L601.5 719.7 L602.6 717.1 L603.7 714.4 L604.8 711.7 L605.9 709.1 L607.0 706.4 L608.1 703.7 L609.2 701.0 L610.3 698.3 L611.5 695.5 L612.6 692.8 L613.8 690.0 L615.0 687.2 L616.1 684.4 L617.3 681.5 L618.5 678.7 L619.7 675.8 L620.9 672.9 L622.1 669.9 L623.4 666.9 L624.6 663.9 L625.8 660.8 L627.1 657.8 L628.4 654.7 L629.7 651.5 L631.0 648.5 L632.4 645.4 L633.8 642.4 L635.3 639.5 L636.9 636.7 L638.5 634.0 L640.2 631.5 L642.0 629.1 L644.0 626.8 L646.0 624.8 L648.1 623.0 L650.4 621.5 L652.8 620.2 L655.3 619.2 L657.8 618.6 L660.3 618.4 L662.7 618.6 L665.0 619.2 L667.3 620.3 L669.5 621.7 L671.6 623.4 L673.6 625.4 L675.6 627.6 L677.5 629.9 L679.3 632.4 L681.1 634.9 L682.8 637.5 L684.5 640.1 L686.1 642.8 L687.7 645.4 L689.3 648.1 L690.8 650.7 L692.2 653.4 L693.6 656.2 L695.0 658.9 L696.3 661.6 L697.6 664.4 L698.9 667.2 L700.1 669.9 L701.3 672.7 L702.5 675.5 L703.6 678.3 L704.8 681.2 L705.9 684.0 L706.9 686.8 L708.0 689.6 L709.1 692.5 L710.1 695.3 L711.1 698.2 L712.1 701.0 L713.1 703.9 L714.1 706.7 L715.1 709.6 L716.1 712.4 L717.0 715.3 L718.0 718.1 L719.0 721.0 L720.0 723.8 L721.0 726.6 L721.9 729.5 L722.9 732.3 L723.9 735.1 L724.9 737.9 L725.9 740.8 L726.8 743.6 L727.8 746.4 L728.8 749.2 L729.8 752.0 L730.7 754.8 L731.7 757.6 L732.6 760.5 L733.6 763.3 L734.5 766.1 L735.4 768.9 L736.4 771.7 L737.3 774.6 L738.2 777.4 L739.1 780.2 L739.9 783.1 L740.8 785.9 L741.7 788.8 L742.5 791.6 L743.3 794.5 L744.1 797.3 L744.9 800.2 L745.7 803.1 L746.5 805.9 L747.2 808.8 L747.9 811.7 L748.7 814.6 L749.4 817.5 L750.1 820.4 L750.7 823.3 L751.4 826.3 L752.1 829.2 L752.8 832.1 L753.4 835.0 L754.0 838.0 L754.7 840.9 L755.3 843.8 L756.0 846.8 L756.6 849.7 L757.2 852.6 L757.8 855.6 L758.5 858.5 L759.1 861.5 L759.7 864.4 L760.3 867.3 L761.0 870.3 L761.6 873.2 L762.2 876.2 L762.9 879.1 L763.5 882.0 L764.2 885.0 L764.9 887.9 L765.5 890.8 L766.2 893.8 L766.9 896.7 L767.6 899.6 L768.3 902.5 L769.0 905.4 L769.8 908.3 L770.5 911.2 L771.3 914.1 L772.1 917.0 L772.9 919.9 L773.7 922.8 L774.5 925.7 L775.4 928.5 L776.2 931.4 L777.1 934.3 L778.1 937.1 L779.0 939.9 L779.9 942.8 L780.9 945.6 L781.9 948.4 L783.0 951.2 L784.0 954.0 L785.1 956.8" stroke="#33AA2E"/>
<path d="M432.5 44.9 L432.4 47.9 L432.2 51.0 L432.1 54.0 L432.0 57.0 L431.9 60.1 L431.8 63.1 L431.7 66.1 L431.6 69.1 L431.5 72.2 L431.5 75.2 L431.4 78.2 L431.4 81.2 L431.4 84.2 L431.3 87.3 L431.3 90.3 L431.3 93.3 L431.3 96.3 L431.3 99.3 L431.3 102.3 L431.4 105.3 L431.4 108.3 L431.5 111.3 L431.5 114.3 L431.6 117.3 L431.6 120.3 L431.7 123.3 L431.8 126.3 L431.8 129.3 L431.9 132.3 L432.0 135.3 L432.1 138.3 L432.2 141.2 L432.3 144.2 L432.4 147.2 L432.5 150.2 L432.6 153.2 L432.8 156.2 L432.9 159.2 L433.0 162.1 L433.1 165.1 L433.3 168.1 L433.4 171.1 L433.6 174.1 L433.7 177.0 L433.8 180.0 L434.0 183.0 L434.1 186.0 L434.3 189.0 L434.4 191.9 L434.6 194.9 L434.7 197.9 L434.9 200.9 L435.0 203.9 L435.2 206.8 L435.3 209.8 L435.5 212.8 L435.6 215.8 L435.8 218.8 L435.9 221.7 L436.0 224.7 L436.2 227.7 L436.3 230.7 L436.5 233.7 L436.6 236.7 L436.7 239.6 L436.9 242.6 L437.0 245.6 L437.1 248.6 L437.3 251.6 L437.4 254.6 L437.5 257.6 L437.6 260.6 L437.7 263.6 L437.8 266.5 L437.9 269.5 L438.0 272.5 L438.1 275.5 L438.2 278.5 L438.3 281.5 L438.4 284.5 L438.5 287.5 L438.6 290.5 L438.7 293.5 L438.7 296.5 L438.8 299.5 L438.9 302.5 L439.0 305.5 L439.0 308.5 L439.1 311.5 L439.2 314.5 L439.2 317.5 L439.3 320.5 L439.3 323.5 L439.4 326.5 L439.5 329.6 L439.5 332.6 L439.6 335.6 L439.6 338.6 L439.7 341.6 L439.7 344.6 L439.8 347.6 L439.8 350.6 L439.9 353.6 L439.9 356.6 L440.0 359.6 L440.0 362.6 L440.1 365.7 L440.1 368.7 L440.1 371.7 L440.2 374.7 L440.2 377.7 L440.3 380.7 L440.3 383.7 L440.4 386.7 L440.4 389.7 L440.4 392.8 L440.5 395.8 L440.5 398.8 L440.6 401.8 L440.6 404.8 L440.6 407.8 L440.7 410.8 L440.7 413.8 L440.8 416.9 L440.8 419.9 L440.9 422.9 L440.9 425.9 L441.0 428.9 L441.0 431.9 L441.0 434.9 L441.1 437.9 L441.1 441.0 L441.2 444.0 L441.2 447.0 L441.3 450.0 L441.4 453.0 L441.4 456.0 L441.5 459.0 L441.5 462.0 L441.6 465.0 L441.6 468.0 L441.7 471.1 L441.8 474.1 L441.8 477.1 L441.9 480.1 L442.0 483.1 L442.1 486.1 L442.1 489.1 L442.2 492.1 L442.3 495.1 L442.4 498.1 L442.5 501.1 L442.6 504.1 L442.6 507.1 L442.7 510.1 L442.8 513.1 L442.9 516.1 L443.0 519.1 L443.1 522.1 L443.3 525.1 L443.4 528.1 L443.5 531.1 L443.6 534.1 L443.7 537.1 L443.8 540.1 L444.0 543.1 L444.1 546.1 L444.2 549.1 L444.4 552.1 L444.5 555.1 L444.7 558.1 L444.8 561.1 L445.0 564.0 L445.1 567.0 L445.3 570.0 L445.5 573.0 L445.6 576.0 L445.8 579.0 L446.0 581.9 L446.2 584.9 L446.4 587.9 L446.6 590.9 L446.8 593.9 L447.0 596.8 L447.2 599.8 L447.4 602.8 L447.6 605.8 L447.8 608.7 L448.1 611.7 L448.3 614.7 L448.5 617.7 L448.8 620.6 L449.0 623.6 L449.3 626.5 L449.5 629.5 L449.8 632.5 L450.1 635.4 L450.4 638.4 L450.6 641.4 L450.9 644.3 L451.2 647.3 L451.5 650.2 L451.8 653.2 L452.2 656.1 L452.5 659.1 L452.8 662.0 L453.1 665.0 L453.5 667.9 L453.8 670.9 L454.1 673.8 L454.5 676.8 L454.8 679.7 L455.2 682.7 L455.5 685.7 L455.9 688.6 L456.2 691.6 L456.6 694.6 L456.9 697.6 L457.3 700.6 L457.6 703.5 L458.0 706.5 L458.3 709.5 L458.7 712.6 L459.0 715.6 L459.4 718.6 L459.7 721.6 L460.0 724.7 L460.4 727.7 L460.7 730.8 L461.0 733.9 L461.3 736.9 L461.6 740.0 L461.9 743.1 L462.2 746.2 L462.5 749.4 L462.9 752.5 L463.2 755.6 L463.6 758.7 L464.0 761.7 L464.5 764.8 L465.0 767.8 L465.6 770.7 L466.2 773.7 L467.0 776.5 L467.8 779.4 L468.8 782.1 L469.9 784.8 L471.0 787.4 L472.4 789.9 L473.8 792.3 L475.4 794.7 L477.1 796.9 L479.0 799.0 L481.0 801.0 L483.1 802.8 L485.3 804.4 L487.6 805.9 L490.0 807.2 L492.5 808.3 L495.1 809.2 L497.8 809.8 L500.6 810.2 L503.4 810.4 L506.3 810.4 L509.3 810.1 L512.3 809.6 L515.2 808.8 L518.2 807.9 L521.1 806.8 L523.9 805.5 L526.7 804.0 L529.3 802.4 L531.8 800.6 L534.2 798.7 L536.4 796.7 L538.4 794.6 L540.3 792.3 L542.0 790.0 L543.6 787.5 L545.0 785.0 L546.3 782.3 L547.5 779.6 L548.6 776.9 L549.7 774.1 L550.6 771.2 L551.4 768.3 L552.2 765.3 L553.0 762.3 L553.7 759.3 L554.3 756.3 L555.0 753.3 L555.6 750.2 L556.2 747.2 L556.8 744.2 L557.4 741.2 L558.1 738.2 L558.8 735.3 L559.4 732.3 L560.2 729.4 L560.9 726.5 L561.6 723.7 L562.4 720.8 L563.2 718.0 L564.0 715.1 L564.8 712.3 L565.6 709.5 L566.4 706.6 L567.2 703.8 L568.0 701.0 L568.9 698.1 L569.7 695.3 L570.5 692.4 L571.3 689.5 L572.1 686.7 L573.0 683.8 L573.8 680.9 L574.6 678.0 L575.4 675.1 L576.2 672.2 L577.0 669.3 L577.8 666.4 L578.7 663.4 L579.5 660.5 L580.3 657.6 L581.1 654.7 L581.9 651.7 L582.7 648.8 L583.4 645.9 L584.2 642.9 L585.0 640.0 L585.8 637.1 L586.6 634.1 L587.4 631.2 L588.1 628.3 L588.9 625.4 L589.6 622.5 L590.4 619.5 L591.2 616.6 L591.9 613.7 L592.7 610.8 L593.4 608.0 L594.1 605.1 L594.9 602.2 L595.6 599.3 L596.3 596.4 L597.0 593.6 L597.8 590.7 L598.5 587.8 L599.2 585.0 L599.9 582.1 L600.7 579.3 L601.4 576.4 L602.1 573.5 L602.8 570.7 L603.6 567.8 L604.3 565.0 L605.0 562.1 L605.8 559.2 L606.5 556.4 L607.2 553.5 L608.0 550.6 L608.7 547.7 L609.5 544.9 L610.2 542.0 L611.0 539.1 L611.8 536.2 L612.6 533.3 L613.4 530.4 L614.2 527.5 L615.0 524.6 L615.8 521.6 L616.6 518.7 L617.4 515.8 L618.3 512.8 L619.1 509.9 L620.0 506.9 L620.8 503.9 L621.7 500.9 L622.6 497.9 L623.6 495.0 L624.7 491.9 L625.8 488.9 L627.0 485.9 L628.3 482.9 L629.7 479.9 L631.2 476.9 L632.9 473.9 L634.8 470.9 L636.7 468.1 L638.8 465.6 L640.9 463.5 L643.1 462.0 L645.3 461.1 L647.5 460.9 L649.6 461.3 L651.7 462.2 L653.8 463.5 L655.8 465.2 L657.7 467.2 L659.5 469.5 L661.1 472.0 L662.6 474.7 L664.0 477.5 L665.2 480.3 L666.2 483.1 L667.2 486.0 L668.0 488.9 L668.7 491.9 L669.4 494.9 L669.9 497.9 L670.5 500.9 L671.0 504.0 L671.5 507.0 L671.9 510.0 L672.5 513.1 L673.0 516.1 L673.5 519.1 L674.0 522.1 L674.6 525.1 L675.2 528.1 L675.8 531.1 L676.4 534.1 L677.0 537.1 L677.6 540.1 L678.2 543.0 L678.9 546.0 L679.5 549.0 L680.2 551.9 L680.9 554.9 L681.6 557.8 L682.3 560.8 L683.0 563.7 L683.7 566.7 L684.4 569.6 L685.1 572.5 L685.9 575.5 L686.6 578.4 L687.4 581.3 L688.2 584.2 L688.9 587.1 L689.7 590.1 L690.5 593.0 L691.3 595.9 L692.1 598.8 L692.9 601.7 L693.7 604.6 L694.5 607.5 L695.3 610.3 L696.1 613.2 L697.0 616.1 L697.8 619.0 L698.6 621.9 L699.5 624.8 L700.3 627.6 L701.1 630.5 L702.0 633.4 L702.8 636.3 L703.7 639.1 L704.5 642.0 L705.4 644.9 L706.2 647.7 L707.1 650.6 L707.9 653.5 L708.8 656.3 L709.6 659.2 L710.5 662.1 L711.4 664.9 L712.2 667.8 L713.0 670.6 L713.9 673.5 L714.7 676.4 L715.6 679.2 L716.4 682.1 L717.2 685.0 L718.1 687.8 L718.9 690.7 L719.7 693.5 L720.6 696.4 L721.4 699.3 L722.2 702.1 L723.0 705.0 L723.8 707.9 L724.6 710.7 L725.4 713.6 L726.1 716.5 L726.9 719.4 L727.7 722.2 L728.5 725.1 L729.2 728.0 L730.0 730.9 L730.7 733.7 L731.5 736.6 L732.2 739.5 L733.0 742.4 L733.7 745.3 L734.4 748.2 L735.2 751.0 L735.9 753.9 L736.6 756.8 L737.3 759.7 L738.0 762.6 L738.7 765.5 L739.4 768.4 L740.1 771.3 L740.8 774.2 L741.5 777.1 L742.2 780.0 L742.9 782.9 L743.6 785.8 L744.3 788.7 L745.0 791.6 L745.7 794.5 L746.3 797.4 L747.0 800.3 L747.7 803.2 L748.4 806.1 L749.0 809.1 L749.7 812.0 L750.4 814.9 L751.0 817.8 L751.7 820.7 L752.4 823.6 L753.0 826.6 L753.7 829.5 L754.4 832.4 L755.0 835.3 L755.7 838.3 L756.4 841.2 L757.0 844.1 L757.7 847.1 L758.4 850.0 L759.0 852.9 L759.7 855.9 L760.4 858.8 L761.0 861.7 L761.7 864.7 L762.4 867.6 L763.0 870.6 L763.7 873.5 L764.4 876.5 L765.0 879.4 L765.7 882.4 L766.4 885.3 L767.1 888.3 L767.8 891.2 L768.4 894.2 L769.1 897.1 L769.8 900.1 L770.5 903.0 L771.2 906.0 L771.9 909.0 L772.6 911.9 L773.3 914.9 L774.0 917.9 L774.7 920.8 L775.4 923.8 L776.1 926.8 L776.8 929.7 L777.6 932.7 L778.3 935.7 L779.1 938.6 L779.8 941.6 L780.6 944.5 L781.5 947.4 L782.3 950.3 L783.2 953.2 L784.1 956.1 L785.0 959.0 L785.9 961.8 L786.9 964.7 L788.0 967.5 L789.0 970.2 L790.2 973.0 L791.3 975.7 L792.5 978.4 L793.8 981.0 L795.1 983.6 L796.5 986.2 L797.9 988.8 L799.4 991.3 L800.9 993.7 L802.5 996.2 L804.2 998.5 L806.0 1000.9 L807.8 1003.2 L809.7 1005.4 L811.7 1007.6 L813.7 1009.7 L815.8 1011.8 L818.0 1013.8 L820.3 1015.8 L822.6 1017.7 L825.0 1019.5 L827.4 1021.3 L829.9 1023.0 L832.4 1024.6 L835.0 1026.2 L837.6 1027.7 L840.2 1029.2 L842.9 1030.5 L845.6 1031.8 L848.4 1033.0 L851.1 1034.1 L853.9 1035.2 L856.7 1036.1 L859.5 1037.0 L862.3 1037.9 L865.2 1038.6 L868.1 1039.3 L870.9 1039.9 L873.8 1040.5 L876.7 1041.0 L879.6 1041.4 L882.6 1041.8 L885.5 1042.1 L888.5 1042.4 L891.4 1042.6 L894.4 1042.7 L897.4 1042.9 L900.4 1043.0 L903.4 1043.0 L906.4 1043.0 L909.4 1043.0 L912.4 1042.9 L915.5 1042.8 L918.5 1042.7 L921.5 1042.5 L924.6 1042.4 L927.6 1042.1 L930.7 1041.9 L933.7 1041.7 L936.7 1041.4 L939.8 1041.2 L942.8 1040.9 L945.9 1040.6 L948.9 1040.3 L952.0 1040.0 L955.0 1039.7 L958.0 1039.4 L961.1 1039.1 L964.1 1038.8 L967.1 1038.5 L970.1 1038.3 L973.1 1038.0 L976.1 1037.7 L979.1 1037.4 L982.1 1037.2 L985.1 1036.9 L988.1 1036.7 L991.1 1036.4 L994.1 1036.2 L997.0 1035.9 L1000.0 1035.7 L1003.0 1035.4 L1006.0 1035.2 L1008.9 1035.0 L1011.9 1034.7 L1014.9 1034.5 L1017.8 1034.2 L1020.8 1034.0 L1023.8 1033.8 L1026.7 1033.5 L1029.7 1033.3 L1032.6 1033.1 L1035.6 1032.8 L1038.6 1032.6 L1041.5 1032.3 L1044.5 1032.1 L1047.4 1031.8 L1050.4 1031.6 L1053.4 1031.3 L1056.3 1031.1 L1059.3 1030.8 L1062.3 1030.5 L1065.2 1030.3 L1068.2 1030.0 L1071.2 1029.7 L1074.1 1029.4 L1077.1 1029.2 L1080.1 1028.9 L1083.1 1028.6 L1086.0 1028.3 L1089.0 1028.0 L1092.0 1027.7 L1095.0 1027.4 L1097.9 1027.1 L1100.9 1026.8 L1103.9 1026.6 L1106.9 1026.3 L1109.9 1026.0 L1112.8 1025.7 L1115.8 1025.4 L1118.8 1025.1 L1121.8 1024.8 L1124.8 1024.5 L1127.8 1024.2 L1130.8 1023.9 L1133.7 1023.6 L1136.7 1023.3 L1139.7 1023.0 L1142.7 1022.7 L1145.7 1022.4 L1148.7 1022.1 L1151.7 1021.8 L1154.7 1021.5 L1157.7 1021.2 L1160.7 1020.9 L1163.7 1020.7 L1166.7 1020.4 L1169.6 1020.1 L1172.6 1019.8 L1175.6 1019.5 L1178.6 1019.3 L1181.6 1019.0 L1184.6 1018.7 L1187.6 1018.4 L1190.6 1018.2 L1193.6 1017.9 L1196.6 1017.7 L1199.6 1017.4 L1202.6 1017.2 L1205.6 1016.9 L1208.6 1016.7 L1211.6 1016.4 L1214.6 1016.2 L1217.6 1016.0 L1220.6 1015.7 L1223.6 1015.5 L1226.6 1015.3 L1229.6 1015.1 L1232.6 1014.9 L1235.6 1014.7 L1238.6 1014.5 L1241.6 1014.3 L1244.6 1014.1 L1247.6 1013.9 L1250.6 1013.7 L1253.6 1013.6 L1256.6 1013.4 L1259.6 1013.3 L1262.6 1013.1 L1265.6 1013.0 L1268.6 1012.8 L1271.6 1012.7 L1274.6 1012.6 L1277.6 1012.5 L1280.6 1012.4 L1283.6 1012.2 L1286.6 1012.2 L1289.6 1012.1 L1292.6 1012.0 L1295.6 1011.9 L1298.6 1011.9 L1301.6 1011.8 L1304.6 1011.8 L1307.6 1011.7 L1310.6 1011.7 L1313.6 1011.7 L1316.6 1011.6 L1319.6 1011.6 L1322.6 1011.6 L1325.6 1011.6 L1328.6 1011.7 L1331.6 1011.7 L1334.6 1011.7 L1337.6 1011.7 L1340.5 1011.8 L1343.5 1011.8 L1346.5 1011.9 L1349.5 1012.0 L1352.5 1012.0 L1355.5 1012.1 L1358.5 1012.2 L1361.5 1012.3 L1364.5 1012.4 L1367.5 1012.5 L1370.5 1012.6 L1373.4 1012.8 L1376.4 1012.9 L1379.4 1013.1 L1382.4 1013.2 L1385.4 1013.4 L1388.4 1013.5 L1391.4 1013.7 L1394.4 1013.9 L1397.3 1014.1 L1400.3 1014.2 L1403.3 1014.4 L1406.3 1014.6 L1409.3 1014.9 L1412.3 1015.1 L1415.2 1015.3 L1418.2 1015.5 L1421.2 1015.8 L1424.2 1016.0 L1427.2 1016.3 L1430.1 1016.6 L1433.1 1016.8 L1436.1 1017.1 L1439.1 1017.4 L1442.1 1017.7 L1445.0 1018.0 L1448.0 1018.3 L1451.0 1018.6 L1454.0 1018.9 L1456.9 1019.2 L1459.9 1019.5 L1462.9 1019.9 L1465.9 1020.2 L1468.8 1020.6 L1471.8 1020.9 L1474.8 1021.3 L1477.8 1021.7 L1480.7 1022.0 L1483.7 1022.4 L1486.7 1022.8 L1489.6 1023.2 L1492.6 1023.6 L1495.6 1024.0 L1498.5 1024.4 L1501.5 1024.9 L1504.5 1025.3 L1507.4 1025.7 L1510.4 1026.2 L1513.4 1026.6 L1516.3 1027.1 L1519.3 1027.5 L1522.3 1028.0 L1525.2 1028.5 L1528.2 1028.9 L1531.2 1029.4 L1534.1 1029.9 L1537.1 1030.4 L1540.0 1030.9 L1543.0 1031.4 L1546.0 1031.8 L1548.9 1032.3 L1551.9 1032.8 L1554.8 1033.4 L1557.8 1033.9 L1560.8 1034.4 L1563.7 1034.9 L1566.7 1035.4 L1569.6 1035.9 L1572.6 1036.4 L1575.5 1037.0 L1578.5 1037.5 L1581.5 1038.0 L1584.4 1038.5 L1587.4 1039.0 L1590.3 1039.6 L1593.3 1040.1 L1596.2 1040.6 L1599.2 1041.1 L1602.2 1041.7 L1605.1 1042.2 L1608.1 1042.7 L1611.0 1043.2 L1614.0 1043.8 L1617.0 1044.3 L1619.9 1044.8 L1622.9 1045.3 L1625.8 1045.8 L1628.8 1046.3 L1631.7 1046.9 L1634.7 1047.4 L1637.7 1047.9 L1640.6 1048.4 L1643.6 1048.9 L1646.5 1049.4 L1649.5 1049.9 L1652.5 1050.3 L1655.4 1050.8 L1658.4 1051.3 L1661.4 1051.8 L1664.3 1052.3 L1667.3 1052.7 L1670.3 1053.2 L1673.2 1053.7 L1676.2 1054.1 L1679.1 1054.6 L1682.1 1055.0 L1685.1 1055.4 L1688.1 1055.9 L1691.0 1056.3 L1694.0 1056.7 L1697.0 1057.1 L1699.9 1057.5 L1702.9 1057.9 L1705.9 1058.3 L1708.8 1058.7 L1711.8 1059.0 L1714.8 1059.4 L1717.8 1059.8 L1720.8 1060.1 L1723.7 1060.5 L1726.7 1060.8 L1729.7 1061.2 L1732.7 1061.5 L1735.6 1061.8 L1738.6 1062.1 L1741.6 1062.4 L1744.6 1062.7 L1747.6 1063.0 L1750.5 1063.3 L1753.5 1063.6 L1756.5 1063.9 L1759.5 1064.2 L1762.5 1064.4 L1765.5 1064.7 L1768.5 1065.0 L1771.4 1065.2 L1774.4 1065.5 L1777.4 1065.7 L1780.4 1065.9 L1783.4 1066.2 L1786.4 1066.4 L1789.4 1066.6 L1792.4 1066.8 L1795.3 1067.1 L1798.3 1067.3 L1801.3 1067.5 L1804.3 1067.7 L1807.3 1067.9 L1810.3 1068.0 L1813.3 1068.2 L1816.3 1068.4 L1819.3 1068.6 L1822.3 1068.8 L1825.3 1068.9 L1828.3 1069.1 L1831.3 1069.3 L1834.2 1069.4 L1837.2 1069.6 L1840.2 1069.7 L1843.2 1069.9 L1846.2 1070.0 L1849.2 1070.2 L1852.2 1070.3 L1855.2 1070.4 L1858.2 1070.6 L1861.2 1070.7 L1864.2 1070.8 L1867.2 1071.0 L1870.2 1071.1 L1873.2 1071.2 L1876.2 1071.3 L1879.2 1071.4 L1882.2 1071.5 L1885.2 1071.6 L1888.2 1071.7 L1891.2 1071.8 L1894.2 1071.9 L1897.2 1072.0 L1900.2 1072.1 L1903.2 1072.2 L1906.2 1072.3 L1909.2 1072.4 L1912.2 1072.5 L1915.2 1072.6 L1918.2 1072.7 L1921.2 1072.8 L1924.2 1072.9 L1927.2 1072.9 L1930.1 1073.0 L1933.1 1073.1 L1936.1 1073.2 L1939.1 1073.2 L1942.1 1073.3 L1945.1 1073.4 L1948.1 1073.4 L1951.1 1073.5 L1954.1 1073.6 L1957.1 1073.6 L1960.1 1073.7 L1963.1 1073.8 L1966.1 1073.8 L1969.1 1073.9 L1972.1 1073.9 L1975.1 1074.0 L1978.1 1074.1 L1981.1 1074.1 L1984.1 1074.2 L1987.1 1074.2 L1990.1 1074.3 L1993.1 1074.3 L1996.1 1074.4 L1999.1 1074.4 L2002.1 1074.4 L2005.1 1074.5 L2008.1 1074.5 L2011.1 1074.6 L2014.1 1074.6 L2017.1 1074.6 L2020.1 1074.7 L2023.1 1074.7 L2026.1 1074.8 L2029.1 1074.8 L2032.1 1074.8 L2035.1 1074.9 L2038.1 1074.9 L2041.1 1074.9 L2044.1 1074.9 L2047.1 1075.0 L2050.1 1075.0 L2053.1 1075.0 L2056.1 1075.0 L2059.1 1075.1 L2062.1 1075.1 L2065.1 1075.1 L2068.1 1075.1 L2071.1 1075.2 L2074.1 1075.2 L2077.1 1075.2 L2080.1 1075.2 L2083.1 1075.2 L2086.1 1075.3 L2089.1 1075.3 L2092.1 1075.3 L2095.1 1075.3 L2098.1 1075.3 L2101.1 1075.4 L2104.1 1075.4 L2107.1 1075.4 L2110.1 1075.4 L2113.1 1075.4 L2116.1 1075.4 L2119.1 1075.4 L2122.1 1075.5 L2125.1 1075.5 L2128.1 1075.5 L2131.1 1075.5 L2134.1 1075.5 L2137.1 1075.5 L2140.1 1075.5 L2143.1 1075.5 L2146.1 1075.5 L2149.1 1075.6 L2152.1 1075.6 L2155.1 1075.6 L2158.0 1075.6 L2161.0 1075.6 L2164.0 1075.6 L2167.0 1075.6 L2170.0 1075.6 L2173.0 1075.6 L2176.0 1075.7 L2179.0 1075.7 L2182.0 1075.7 L2185.0 1075.7 L2188.0 1075.7 L2191.0 1075.7 L2194.0 1075.7 L2197.0 1075.7 L2200.0 1075.7 L2203.0 1075.7 L2206.0 1075.8 L2209.0 1075.8 L2212.0 1075.8 L2215.0 1075.8 L2218.0 1075.8 L2221.0 1075.8 L2224.0 1075.8 L2227.0 1075.9 L2230.0 1075.9 L2233.0 1075.9 L2236.0 1075.9 L2239.0 1075.9 L2242.0 1075.9 L2245.0 1075.9 L2248.0 1076.0 L2251.0 1076.0 L2254.0 1076.0 L2257.0 1076.0 L2260.0 1076.0 L2263.0 1076.1 L2266.0 1076.1 L2269.0 1076.1 L2272.0 1076.1 L2275.0 1076.2 L2278.0 1076.2 L2281.0 1076.2 L2284.0 1076.2 L2287.0 1076.3 L2290.0 1076.3 L2293.0 1076.3 L2296.0 1076.3 L2299.0 1076.4 L2302.0 1076.4 L2305.0 1076.4 L2308.0 1076.5 L2311.0 1076.5 L2314.0 1076.5 L2317.0 1076.6 L2320.0 1076.6" stroke="#003574"/>
<path d="M430.9 45.1 L431.0 48.1 L431.1 51.1 L431.2 54.1 L431.3 57.1 L431.4 60.0 L431.5 63.0 L431.6 66.0 L431.7 69.0 L431.7 72.0 L431.8 74.9 L431.9 77.9 L432.0 80.9 L432.1 83.9 L432.1 86.9 L432.2 89.9 L432.3 92.8 L432.4 95.8 L432.5 98.8 L432.5 101.8 L432.6 104.8 L432.7 107.8 L432.8 110.8 L432.8 113.8 L432.9 116.8 L433.0 119.8 L433.0 122.7 L433.1 125.7 L433.2 128.7 L433.2 131.7 L433.3 134.7 L433.4 137.7 L433.5 140.7 L433.5 143.7 L433.6 146.7 L433.6 149.7 L433.7 152.7 L433.8 155.7 L433.8 158.7 L433.9 161.7 L434.0 164.7 L434.0 167.7 L434.1 170.7 L434.2 173.7 L434.2 176.7 L434.3 179.7 L434.3 182.7 L434.4 185.7 L434.5 188.7 L434.5 191.7 L434.6 194.7 L434.6 197.7 L434.7 200.7 L434.8 203.7 L434.8 206.7 L434.9 209.7 L434.9 212.7 L435.0 215.8 L435.1 218.8 L435.1 221.8 L435.2 224.8 L435.2 227.8 L435.3 230.8 L435.3 233.8 L435.4 236.8 L435.5 239.8 L435.5 242.8 L435.6 245.8 L435.6 248.8 L435.7 251.8 L435.8 254.8 L435.8 257.9 L435.9 260.9 L435.9 263.9 L436.0 266.9 L436.0 269.9 L436.1 272.9 L436.2 275.9 L436.2 278.9 L436.3 281.9 L436.3 284.9 L436.4 287.9 L436.5 291.0 L436.5 294.0 L436.6 297.0 L436.7 300.0 L436.7 303.0 L436.8 306.0 L436.8 309.0 L436.9 312.0 L437.0 315.0 L437.0 318.0 L437.1 321.0 L437.2 324.1 L437.2 327.1 L437.3 330.1 L437.4 333.1 L437.4 336.1 L437.5 339.1 L437.6 342.1 L437.6 345.1 L437.7 348.1 L437.8 351.1 L437.9 354.2 L437.9 357.2 L438.0 360.2 L438.1 363.2 L438.1 366.2 L438.2 369.2 L438.3 372.2 L438.4 375.2 L438.5 378.2 L438.5 381.2 L438.6 384.2 L438.7 387.2 L438.8 390.2 L438.9 393.2 L438.9 396.3 L439.0 399.3 L439.1 402.3 L439.2 405.3 L439.3 408.3 L439.4 411.3 L439.5 414.3 L439.5 417.3 L439.6 420.3 L439.7 423.3 L439.8 426.3 L439.9 429.3 L440.0 432.3 L440.1 435.3 L440.2 438.3 L440.3 441.3 L440.4 444.3 L440.5 447.3 L440.6 450.3 L440.7 453.3 L440.8 456.3 L440.9 459.3 L441.0 462.3 L441.1 465.3 L441.2 468.3 L441.4 471.3 L441.5 474.3 L441.6 477.3 L441.7 480.3 L441.8 483.3 L441.9 486.3 L442.1 489.3 L442.2 492.3 L442.3 495.2 L442.4 498.2 L442.6 501.2 L442.7 504.2 L442.8 507.2 L442.9 510.2 L443.1 513.2 L443.2 516.2 L443.3 519.2 L443.5 522.1 L443.6 525.1 L443.8 528.1 L443.9 531.1 L444.0 534.1 L444.2 537.1 L444.3 540.1 L444.5 543.0 L444.6 546.0 L444.8 549.0 L444.9 552.0 L445.1 555.0 L445.3 557.9 L445.4 560.9 L445.6 563.9 L445.7 566.9 L445.9 569.8 L446.1 572.8 L446.3 575.8 L446.4 578.8 L446.6 581.7 L446.8 584.7 L447.0 587.7 L447.1 590.7 L447.3 593.6 L447.5 596.6 L447.7 599.6 L447.9 602.5 L448.1 605.5 L448.3 608.5 L448.5 611.4 L448.7 614.4 L448.9 617.3 L449.1 620.3 L449.3 623.3 L449.5 626.2 L449.7 629.2 L449.9 632.2 L450.2 635.1 L450.4 638.1 L450.7 641.1 L450.9 644.0 L451.2 647.0 L451.4 650.0 L451.7 652.9 L452.0 655.9 L452.3 658.9 L452.6 661.8 L452.9 664.8 L453.2 667.8 L453.5 670.8 L453.8 673.7 L454.2 676.7 L454.5 679.7 L454.9 682.7 L455.3 685.7 L455.7 688.7 L456.1 691.6 L456.5 694.6 L456.9 697.6 L457.3 700.6 L457.8 703.6 L458.2 706.6 L458.7 709.6 L459.2 712.6 L459.7 715.7 L460.2 718.7 L460.8 721.7 L461.3 724.7 L461.9 727.7 L462.4 730.8 L463.0 733.8 L463.6 736.8 L464.3 739.9 L464.9 742.9 L465.6 746.0 L466.3 749.0 L467.0 752.1 L467.8 755.1 L468.6 758.1 L469.4 761.0 L470.4 764.0 L471.4 766.8 L472.5 769.7 L473.7 772.5 L474.9 775.2 L476.3 777.8 L477.8 780.4 L479.4 782.9 L481.1 785.3 L482.9 787.6 L484.9 789.6 L487.0 791.3 L489.3 792.6 L491.8 793.4 L494.3 793.7 L497.0 793.7 L499.7 793.2 L502.4 792.4 L505.1 791.3 L507.7 790.0 L510.2 788.4 L512.6 786.6 L514.9 784.6 L517.0 782.5 L519.1 780.2 L521.1 777.8 L522.9 775.3 L524.7 772.6 L526.4 769.9 L528.0 767.1 L529.5 764.3 L531.0 761.4 L532.4 758.5 L533.8 755.6 L535.1 752.7 L536.4 749.8 L537.6 746.9 L538.8 744.0 L539.9 741.2 L541.0 738.3 L542.1 735.4 L543.1 732.6 L544.1 729.7 L545.1 726.9 L546.1 724.0 L547.0 721.2 L547.9 718.3 L548.7 715.5 L549.6 712.6 L550.4 709.8 L551.2 707.0 L552.0 704.1 L552.8 701.3 L553.5 698.5 L554.3 695.6 L555.0 692.8 L555.8 689.9 L556.5 687.1 L557.2 684.2 L557.9 681.4 L558.7 678.5 L559.4 675.7 L560.1 672.8 L560.8 669.9 L561.5 667.1 L562.2 664.2 L562.9 661.3 L563.6 658.4 L564.4 655.6 L565.1 652.7 L565.7 649.8 L566.4 646.9 L567.1 644.0 L567.8 641.1 L568.5 638.2 L569.2 635.3 L569.9 632.4 L570.6 629.5 L571.2 626.6 L571.9 623.7 L572.6 620.7 L573.2 617.8 L573.9 614.9 L574.5 612.0 L575.2 609.0 L575.9 606.1 L576.5 603.2 L577.1 600.2 L577.8 597.3 L578.4 594.4 L579.1 591.4 L579.7 588.5 L580.3 585.5 L580.9 582.6 L581.5 579.6 L582.2 576.7 L582.8 573.7 L583.4 570.8 L584.0 567.8 L584.6 564.8 L585.2 561.9 L585.7 558.9 L586.3 555.9 L586.9 553.0 L587.5 550.0 L588.0 547.0 L588.6 544.1 L589.2 541.1 L589.7 538.1 L590.3 535.1 L590.8 532.1 L591.3 529.1 L591.9 526.2 L592.4 523.2 L592.9 520.2 L593.5 517.2 L594.0 514.2 L594.5 511.2 L595.0 508.2 L595.5 505.2 L596.0 502.2 L596.5 499.2 L596.9 496.2 L597.4 493.2 L597.9 490.2 L598.3 487.2 L598.8 484.2 L599.3 481.2 L599.7 478.2 L600.2 475.3 L600.6 472.3 L601.0 469.3 L601.5 466.3 L601.9 463.4 L602.4 460.4 L602.8 457.5 L603.2 454.6 L603.7 451.7 L604.1 448.8 L604.5 445.9 L604.9 443.1 L605.4 440.2 L605.8 437.4 L606.2 434.6 L606.7 431.8 L607.1 429.0 L607.6 426.3 L608.0 423.5 L608.4 420.8 L608.9 418.1 L609.4 415.4 L609.8 412.7 L610.3 410.0 L610.8 407.3 L611.4 404.6 L611.9 401.9 L612.5 399.1 L613.0 396.4 L613.6 393.6 L614.3 390.8 L614.9 387.9 L615.6 385.0 L616.3 382.1 L617.1 379.2 L617.8 376.1 L618.6 373.1 L619.5 370.0 L620.4 366.8 L621.3 363.6 L622.3 360.3 L623.3 357.0 L624.3 353.5 L625.4 350.1 L626.6 346.5 L627.8 342.8 L629.0 339.1 L630.3 335.4 L631.6 331.8 L633.0 328.3 L634.4 325.0 L635.8 322.0 L637.2 319.2 L638.6 316.9 L640.0 315.0 L641.5 313.5 L642.9 312.7 L644.3 312.5 L645.7 312.9 L647.0 313.9 L648.4 315.5 L649.7 317.6 L650.9 320.1 L652.2 322.9 L653.4 326.1 L654.6 329.5 L655.8 333.0 L656.9 336.7 L658.0 340.4 L659.0 344.1 L660.0 347.7 L661.0 351.3 L661.9 354.7 L662.8 358.1 L663.6 361.5 L664.5 364.7 L665.2 367.9 L666.0 371.1 L666.7 374.2 L667.4 377.3 L668.1 380.3 L668.7 383.2 L669.3 386.2 L669.9 389.1 L670.5 391.9 L671.1 394.8 L671.6 397.6 L672.1 400.4 L672.6 403.2 L673.1 406.0 L673.6 408.7 L674.0 411.5 L674.5 414.2 L674.9 417.0 L675.4 419.7 L675.8 422.5 L676.2 425.3 L676.6 428.1 L677.0 430.9 L677.4 433.7 L677.8 436.5 L678.2 439.4 L678.6 442.2 L679.0 445.1 L679.4 447.9 L679.8 450.8 L680.2 453.7 L680.5 456.6 L680.9 459.5 L681.3 462.4 L681.7 465.3 L682.0 468.2 L682.4 471.2 L682.8 474.1 L683.1 477.0 L683.5 480.0 L683.9 482.9 L684.2 485.9 L684.6 488.8 L684.9 491.8 L685.3 494.8 L685.7 497.8 L686.0 500.7 L686.4 503.7 L686.8 506.7 L687.1 509.7 L687.5 512.7 L687.9 515.7 L688.2 518.7 L688.6 521.7 L689.0 524.7 L689.4 527.7 L689.7 530.8 L690.1 533.8 L690.5 536.8 L690.9 539.8 L691.3 542.8 L691.7 545.8 L692.1 548.9 L692.5 551.9 L692.9 554.9 L693.4 557.9 L693.8 560.9 L694.2 563.9 L694.7 567.0 L695.1 570.0 L695.6 573.0 L696.0 576.0 L696.5 579.0 L697.0 582.0 L697.4 585.0 L697.9 588.0 L698.4 591.0 L698.9 594.0 L699.4 597.0 L699.9 600.0 L700.5 602.9 L701.0 605.9 L701.5 608.9 L702.1 611.9 L702.6 614.8 L703.2 617.8 L703.8 620.7 L704.3 623.7 L704.9 626.7 L705.5 629.6 L706.1 632.6 L706.7 635.5 L707.3 638.5 L707.9 641.4 L708.6 644.3 L709.2 647.3 L709.8 650.2 L710.4 653.1 L711.1 656.1 L711.7 659.0 L712.4 661.9 L713.0 664.8 L713.7 667.8 L714.4 670.7 L715.0 673.6 L715.7 676.5 L716.4 679.4 L717.1 682.3 L717.7 685.2 L718.4 688.1 L719.1 691.1 L719.8 694.0 L720.5 696.9 L721.2 699.8 L721.9 702.7 L722.6 705.6 L723.4 708.5 L724.1 711.4 L724.8 714.3 L725.5 717.1 L726.2 720.0 L726.9 722.9 L727.7 725.8 L728.4 728.7 L729.1 731.6 L729.9 734.5 L730.6 737.4 L731.3 740.3 L732.0 743.2 L732.8 746.1 L733.5 749.0 L734.2 751.8 L735.0 754.7 L735.7 757.6 L736.5 760.5 L737.2 763.4 L737.9 766.3 L738.7 769.2 L739.4 772.1 L740.1 775.0 L740.9 777.9 L741.6 780.7 L742.3 783.6 L743.1 786.5 L743.8 789.4 L744.5 792.3 L745.3 795.2 L746.0 798.1 L746.7 801.0 L747.4 803.9 L748.1 806.8 L748.9 809.7 L749.6 812.6 L750.3 815.5 L751.0 818.4 L751.7 821.3 L752.4 824.2 L753.1 827.1 L753.8 830.1 L754.5 833.0 L755.2 835.9 L755.9 838.8 L756.6 841.7 L757.3 844.6 L757.9 847.6 L758.6 850.5 L759.3 853.4 L760.0 856.3 L760.6 859.3 L761.3 862.2 L761.9 865.1 L762.6 868.1 L763.2 871.0 L763.9 873.9 L764.5 876.9 L765.2 879.8 L765.8 882.8 L766.5 885.7 L767.1 888.7 L767.7 891.6 L768.4 894.5 L769.0 897.5 L769.6 900.4 L770.3 903.4 L770.9 906.3 L771.5 909.3 L772.2 912.2 L772.8 915.2 L773.4 918.1 L774.1 921.1 L774.7 924.1 L775.3 927.0 L776.0 930.0 L776.6 932.9 L777.3 935.8 L778.0 938.8 L778.7 941.7 L779.4 944.6 L780.1 947.5 L780.9 950.4 L781.7 953.3 L782.5 956.2 L783.4 959.1 L784.3 961.9 L785.3 964.8 L786.3 967.6 L787.3 970.4 L788.4 973.2 L789.5 975.9 L790.7 978.6 L792.0 981.4 L793.3 984.0 L794.7 986.7 L796.2 989.3 L797.7 991.9 L799.3 994.5 L800.9 997.0 L802.6 999.5 L804.4 1002.0 L806.3 1004.4 L808.2 1006.8 L810.1 1009.1 L812.1 1011.4 L814.2 1013.6 L816.3 1015.7 L818.5 1017.8 L820.7 1019.9 L823.0 1021.9 L825.3 1023.8 L827.7 1025.6 L830.1 1027.4 L832.5 1029.1 L835.0 1030.7 L837.5 1032.2 L840.1 1033.7 L842.7 1035.0 L845.3 1036.3 L848.0 1037.5 L850.7 1038.6 L853.5 1039.6 L856.2 1040.5 L859.0 1041.3 L861.8 1042.1 L864.7 1042.7 L867.5 1043.3 L870.4 1043.8 L873.3 1044.2 L876.2 1044.6 L879.2 1044.9 L882.2 1045.2 L885.1 1045.4 L888.1 1045.5 L891.1 1045.7 L894.1 1045.7 L897.2 1045.8 L900.2 1045.7 L903.2 1045.7 L906.3 1045.6 L909.3 1045.5 L912.4 1045.4 L915.4 1045.3 L918.5 1045.2 L921.6 1045.0 L924.6 1044.9 L927.7 1044.7 L930.7 1044.5 L933.7 1044.4 L936.8 1044.2 L939.8 1044.0 L942.9 1043.9 L945.9 1043.7 L948.9 1043.5 L951.9 1043.3 L955.0 1043.1 L958.0 1043.0 L961.0 1042.8 L964.0 1042.6 L967.0 1042.4 L970.0 1042.2 L973.0 1042.0 L976.1 1041.8 L979.1 1041.6 L982.1 1041.4 L985.1 1041.1 L988.1 1040.9 L991.0 1040.7 L994.0 1040.5 L997.0 1040.3 L1000.0 1040.1 L1003.0 1039.8 L1006.0 1039.6 L1009.0 1039.4 L1012.0 1039.2 L1014.9 1038.9 L1017.9 1038.7 L1020.9 1038.5 L1023.9 1038.2 L1026.9 1038.0 L1029.8 1037.7 L1032.8 1037.5 L1035.8 1037.2 L1038.7 1037.0 L1041.7 1036.7 L1044.7 1036.5 L1047.7 1036.2 L1050.6 1036.0 L1053.6 1035.7 L1056.6 1035.5 L1059.5 1035.2 L1062.5 1034.9 L1065.5 1034.7 L1068.4 1034.4 L1071.4 1034.1 L1074.4 1033.9 L1077.3 1033.6 L1080.3 1033.3 L1083.3 1033.1 L1086.2 1032.8 L1089.2 1032.5 L1092.1 1032.2 L1095.1 1032.0 L1098.1 1031.7 L1101.0 1031.4 L1104.0 1031.1 L1107.0 1030.8 L1109.9 1030.6 L1112.9 1030.3 L1115.9 1030.0 L1118.8 1029.7 L1121.8 1029.4 L1124.8 1029.1 L1127.8 1028.8 L1130.7 1028.6 L1133.7 1028.3 L1136.7 1028.0 L1139.7 1027.7 L1142.6 1027.4 L1145.6 1027.1 L1148.6 1026.8 L1151.6 1026.5 L1154.5 1026.2 L1157.5 1025.9 L1160.5 1025.6 L1163.5 1025.3 L1166.5 1025.0 L1169.5 1024.7 L1172.5 1024.4 L1175.5 1024.2 L1178.4 1023.9 L1181.4 1023.6 L1184.4 1023.3 L1187.4 1023.0 L1190.4 1022.7 L1193.4 1022.4 L1196.4 1022.1 L1199.4 1021.9 L1202.4 1021.6 L1205.4 1021.3 L1208.4 1021.0 L1211.4 1020.8 L1214.4 1020.5 L1217.4 1020.2 L1220.4 1020.0 L1223.4 1019.7 L1226.4 1019.5 L1229.4 1019.2 L1232.4 1019.0 L1235.4 1018.7 L1238.4 1018.5 L1241.5 1018.2 L1244.5 1018.0 L1247.5 1017.8 L1250.5 1017.6 L1253.5 1017.4 L1256.5 1017.2 L1259.5 1017.0 L1262.5 1016.8 L1265.5 1016.6 L1268.5 1016.4 L1271.5 1016.2 L1274.5 1016.1 L1277.5 1015.9 L1280.6 1015.7 L1283.6 1015.6 L1286.6 1015.4 L1289.6 1015.3 L1292.6 1015.2 L1295.6 1015.1 L1298.6 1015.0 L1301.6 1014.9 L1304.6 1014.8 L1307.6 1014.7 L1310.6 1014.6 L1313.6 1014.5 L1316.6 1014.5 L1319.6 1014.4 L1322.6 1014.4 L1325.6 1014.3 L1328.6 1014.3 L1331.7 1014.3 L1334.7 1014.3 L1337.7 1014.3 L1340.7 1014.3 L1343.7 1014.4 L1346.6 1014.4 L1349.6 1014.5 L1352.6 1014.5 L1355.6 1014.6 L1358.6 1014.7 L1361.6 1014.8 L1364.6 1014.9 L1367.6 1015.0 L1370.6 1015.2 L1373.6 1015.3 L1376.6 1015.5 L1379.6 1015.6 L1382.6 1015.8 L1385.5 1016.0 L1388.5 1016.2 L1391.5 1016.5 L1394.5 1016.7 L1397.5 1016.9 L1400.4 1017.2 L1403.4 1017.5 L1406.4 1017.7 L1409.4 1018.0 L1412.4 1018.3 L1415.3 1018.6 L1418.3 1019.0 L1421.3 1019.3 L1424.2 1019.6 L1427.2 1020.0 L1430.2 1020.3 L1433.2 1020.7 L1436.1 1021.1 L1439.1 1021.4 L1442.1 1021.8 L1445.0 1022.2 L1448.0 1022.6 L1451.0 1023.0 L1453.9 1023.5 L1456.9 1023.9 L1459.9 1024.3 L1462.8 1024.7 L1465.8 1025.2 L1468.7 1025.6 L1471.7 1026.1 L1474.7 1026.5 L1477.6 1027.0 L1480.6 1027.4 L1483.5 1027.9 L1486.5 1028.3 L1489.5 1028.8 L1492.4 1029.3 L1495.4 1029.8 L1498.4 1030.2 L1501.3 1030.7 L1504.3 1031.2 L1507.2 1031.7 L1510.2 1032.2 L1513.2 1032.7 L1516.1 1033.1 L1519.1 1033.6 L1522.0 1034.1 L1525.0 1034.6 L1528.0 1035.1 L1530.9 1035.6 L1533.9 1036.0 L1536.8 1036.5 L1539.8 1037.0 L1542.8 1037.5 L1545.7 1038.0 L1548.7 1038.4 L1551.6 1038.9 L1554.6 1039.4 L1557.6 1039.9 L1560.5 1040.3 L1563.5 1040.8 L1566.5 1041.2 L1569.4 1041.7 L1572.4 1042.2 L1575.3 1042.6 L1578.3 1043.1 L1581.3 1043.5 L1584.2 1044.0 L1587.2 1044.4 L1590.2 1044.9 L1593.1 1045.3 L1596.1 1045.8 L1599.1 1046.2 L1602.0 1046.6 L1605.0 1047.1 L1608.0 1047.5 L1610.9 1048.0 L1613.9 1048.4 L1616.9 1048.8 L1619.8 1049.2 L1622.8 1049.7 L1625.8 1050.1 L1628.8 1050.5 L1631.7 1050.9 L1634.7 1051.3 L1637.7 1051.7 L1640.6 1052.1 L1643.6 1052.6 L1646.6 1053.0 L1649.5 1053.4 L1652.5 1053.8 L1655.5 1054.2 L1658.5 1054.6 L1661.4 1054.9 L1664.4 1055.3 L1667.4 1055.7 L1670.4 1056.1 L1673.3 1056.5 L1676.3 1056.9 L1679.3 1057.2 L1682.2 1057.6 L1685.2 1058.0 L1688.2 1058.4 L1691.2 1058.7 L1694.1 1059.1 L1697.1 1059.4 L1700.1 1059.8 L1703.1 1060.2 L1706.1 1060.5 L1709.0 1060.9 L1712.0 1061.2 L1715.0 1061.6 L1718.0 1061.9 L1720.9 1062.2 L1723.9 1062.6 L1726.9 1062.9 L1729.9 1063.2 L1732.8 1063.6 L1735.8 1063.9 L1738.8 1064.2 L1741.8 1064.5 L1744.8 1064.9 L1747.7 1065.2 L1750.7 1065.5 L1753.7 1065.8 L1756.7 1066.1 L1759.7 1066.4 L1762.6 1066.7 L1765.6 1067.0 L1768.6 1067.3 L1771.6 1067.6 L1774.6 1067.9 L1777.6 1068.1 L1780.5 1068.4 L1783.5 1068.7 L1786.5 1069.0 L1789.5 1069.2 L1792.5 1069.5 L1795.5 1069.8 L1798.4 1070.0 L1801.4 1070.3 L1804.4 1070.5 L1807.4 1070.8 L1810.4 1071.0 L1813.4 1071.3 L1816.4 1071.5 L1819.3 1071.8 L1822.3 1072.0 L1825.3 1072.2 L1828.3 1072.5 L1831.3 1072.7 L1834.3 1072.9 L1837.3 1073.1 L1840.3 1073.3 L1843.2 1073.6 L1846.2 1073.8 L1849.2 1074.0 L1852.2 1074.2 L1855.2 1074.4 L1858.2 1074.6 L1861.2 1074.8 L1864.2 1074.9 L1867.2 1075.1 L1870.2 1075.3 L1873.1 1075.5 L1876.1 1075.6 L1879.1 1075.8 L1882.1 1076.0 L1885.1 1076.1 L1888.1 1076.3 L1891.1 1076.5 L1894.1 1076.6 L1897.1 1076.8 L1900.1 1076.9 L1903.1 1077.0 L1906.1 1077.2 L1909.1 1077.3 L1912.0 1077.4 L1915.0 1077.6 L1918.0 1077.7 L1921.0 1077.8 L1924.0 1077.9 L1927.0 1078.0 L1930.0 1078.1 L1933.0 1078.2 L1936.0 1078.3 L1939.0 1078.4 L1942.0 1078.5 L1945.0 1078.6 L1948.0 1078.7 L1951.0 1078.7 L1954.0 1078.8 L1957.0 1078.9 L1960.0 1079.0 L1963.0 1079.0 L1966.0 1079.1 L1969.0 1079.1 L1972.0 1079.2 L1975.0 1079.2 L1978.0 1079.3 L1981.0 1079.3 L1984.0 1079.4 L1987.0 1079.4 L1990.0 1079.4 L1993.0 1079.5 L1996.0 1079.5 L1999.0 1079.5 L2002.0 1079.6 L2005.0 1079.6 L2008.0 1079.6 L2011.0 1079.6 L2014.0 1079.6 L2017.0 1079.6 L2020.0 1079.6 L2023.0 1079.7 L2026.0 1079.7 L2029.0 1079.7 L2032.0 1079.7 L2035.0 1079.7 L2038.0 1079.7 L2041.0 1079.7 L2044.0 1079.7 L2047.0 1079.6 L2050.0 1079.6 L2053.0 1079.6 L2056.0 1079.6 L2059.0 1079.6 L2062.0 1079.6 L2065.0 1079.6 L2068.0 1079.6 L2071.0 1079.5 L2074.0 1079.5 L2077.0 1079.5 L2080.0 1079.5 L2083.0 1079.5 L2086.1 1079.4 L2089.1 1079.4 L2092.1 1079.4 L2095.1 1079.4 L2098.1 1079.4 L2101.1 1079.3 L2104.1 1079.3 L2107.1 1079.3 L2110.1 1079.3 L2113.1 1079.2 L2116.1 1079.2 L2119.1 1079.2 L2122.1 1079.2 L2125.1 1079.1 L2128.1 1079.1 L2131.1 1079.1 L2134.1 1079.1 L2137.1 1079.1 L2140.1 1079.0 L2143.1 1079.0 L2146.1 1079.0 L2149.1 1079.0 L2152.1 1079.0 L2155.1 1078.9 L2158.1 1078.9 L2161.1 1078.9 L2164.1 1078.9 L2167.1 1078.9 L2170.1 1078.9 L2173.1 1078.9 L2176.1 1078.9 L2179.1 1078.9 L2182.1 1078.9 L2185.1 1078.8 L2188.1 1078.8 L2191.1 1078.8 L2194.1 1078.8 L2197.1 1078.8 L2200.1 1078.9 L2203.1 1078.9 L2206.1 1078.9 L2209.1 1078.9 L2212.1 1078.9 L2215.1 1078.9 L2218.1 1078.9 L2221.1 1079.0 L2224.1 1079.0 L2227.1 1079.0 L2230.1 1079.0 L2233.1 1079.1 L2236.1 1079.1 L2239.1 1079.1 L2242.1 1079.2 L2245.1 1079.2 L2248.1 1079.3 L2251.1 1079.3 L2254.1 1079.4 L2257.1 1079.4 L2260.1 1079.5 L2263.1 1079.5 L2266.1 1079.6 L2269.1 1079.7 L2272.1 1079.8 L2275.0 1079.8 L2278.0 1079.9 L2281.0 1080.0 L2284.0 1080.1 L2287.0 1080.2 L2290.0 1080.3 L2293.0 1080.4 L2296.0 1080.5 L2299.0 1080.6 L2302.0 1080.7 L2305.0 1080.8 L2308.0 1081.0 L2310.9 1081.1 L2313.9 1081.2 L2316.9 1081.3 L2319.9 1081.5" stroke="#C04A00"/>
<path d="M319.5 45.0 L319.5 47.9 L319.5 50.9 L319.6 53.9 L319.6 56.9 L319.7 59.9 L319.8 62.9 L319.9 65.9 L320.0 69.0 L320.2 72.0 L320.3 75.0 L320.5 78.1 L320.6 81.1 L320.8 84.2 L321.0 87.2 L321.2 90.2 L321.3 93.3 L321.5 96.3 L321.7 99.3 L322.0 102.4 L322.2 105.4 L322.4 108.4 L322.6 111.4 L322.8 114.3 L323.0 117.3 L323.3 120.3 L323.5 123.2 L323.7 126.1 L323.9 129.0 L324.1 131.9 L324.3 134.8 L324.5 137.6 L324.7 140.4 L324.9 143.2 L325.1 146.0 L325.2 148.8 L325.4 151.6 L325.6 154.4 L325.8 157.2 L326.0 160.0 L326.2 162.9 L326.4 165.9 L326.7 168.9 L326.9 171.9 L327.2 175.1 L327.5 178.4 L327.9 181.7 L328.2 185.2 L328.6 188.8 L329.1 192.5 L329.6 196.3 L330.1 200.2 L330.6 204.0 L331.2 207.6 L331.9 211.1 L332.5 214.2 L333.2 216.8 L333.9 218.9 L334.6 220.4 L335.4 221.2 L336.2 221.2 L337.0 220.4 L337.8 218.8 L338.6 216.7 L339.4 214.0 L340.2 210.9 L341.0 207.5 L341.7 203.9 L342.4 200.0 L343.0 196.2 L343.7 192.4 L344.2 188.7 L344.7 185.1 L345.1 181.6 L345.5 178.3 L345.8 175.1 L346.1 171.9 L346.4 168.8 L346.6 165.8 L346.9 162.9 L347.1 160.0 L347.2 157.1 L347.4 154.3 L347.5 151.5 L347.7 148.7 L347.8 145.9 L348.0 143.2 L348.1 140.4 L348.3 137.5 L348.5 134.7 L348.7 131.8 L348.9 129.0 L349.1 126.1 L349.3 123.1 L349.5 120.2 L349.8 117.2 L350.0 114.3 L350.3 111.3 L350.5 108.3 L350.8 105.3 L351.0 102.3 L351.2 99.3 L351.5 96.3 L351.7 93.2 L352.0 90.2 L352.2 87.2 L352.4 84.1 L352.7 81.1 L352.9 78.0 L353.1 75.0 L353.3 72.0 L353.5 68.9 L353.7 65.9 L353.8 62.9 L354.0 59.9 L354.1 56.9 L354.2 53.9 L354.3 50.9 L354.4 47.9 L354.5 45.0 M401.6 45.0 L401.7 48.0 L401.8 51.0 L401.8 54.0 L401.9 57.0 L402.0 60.0 L402.1 63.0 L402.2 66.0 L402.3 69.0 L402.3 72.0 L402.4 75.0 L402.5 78.0 L402.6 81.0 L402.7 84.0 L402.8 87.0 L402.8 90.0 L402.9 93.0 L403.0 96.0 L403.1 99.0 L403.2 102.0 L403.2 105.0 L403.3 108.0 L403.4 111.0 L403.5 114.0 L403.6 117.0 L403.6 120.0 L403.7 123.0 L403.8 126.0 L403.9 129.0 L403.9 132.0 L404.0 135.0 L404.1 138.0 L404.2 141.0 L404.3 144.0 L404.3 147.0 L404.4 150.0 L404.5 153.0 L404.6 156.0 L404.6 159.0 L404.7 162.0 L404.8 165.0 L404.9 168.0 L404.9 171.0 L405.0 174.0 L405.1 177.0 L405.2 180.0 L405.2 183.0 L405.3 186.0 L405.4 189.0 L405.4 192.0 L405.5 195.0 L405.6 198.0 L405.7 201.0 L405.7 204.0 L405.8 206.9 L405.9 209.9 L406.0 212.9 L406.0 215.9 L406.1 218.9 L406.2 221.9 L406.3 224.9 L406.3 227.9 L406.4 230.9 L406.5 233.9 L406.5 236.9 L406.6 239.9 L406.7 242.9 L406.8 245.9 L406.8 248.9 L406.9 251.9 L407.0 254.9 L407.1 257.9 L407.1 260.9 L407.2 263.9 L407.3 266.9 L407.4 269.9 L407.4 272.9 L407.5 275.9 L407.6 278.9 L407.6 281.9 L407.7 284.9 L407.8 287.9 L407.9 290.9 L407.9 293.9 L408.0 296.9 L408.1 299.9 L408.2 302.9 L408.3 305.9 L408.3 308.9 L408.4 311.8 L408.5 314.8 L408.6 317.8 L408.6 320.8 L408.7 323.8 L408.8 326.8 L408.9 329.8 L408.9 332.8 L409.0 335.8 L409.1 338.8 L409.2 341.8 L409.3 344.8 L409.3 347.8 L409.4 350.8 L409.5 353.8 L409.6 356.8 L409.7 359.8 L409.7 362.8 L409.8 365.8 L409.9 368.8 L410.0 371.8 L410.1 374.8 L410.2 377.8 L410.2 380.8 L410.3 383.8 L410.4 386.8 L410.5 389.8 L410.6 392.8 L410.7 395.8 L410.7 398.7 L410.8 401.7 L410.9 404.7 L411.0 407.7 L411.1 410.7 L411.2 413.7 L411.3 416.7 L411.4 419.7 L411.4 422.7 L411.5 425.7 L411.6 428.7 L411.7 431.7 L411.8 434.7 L411.9 437.7 L412.0 440.7 L412.1 443.7 L412.2 446.7 L412.3 449.7 L412.4 452.7 L412.5 455.7 L412.6 458.7 L412.7 461.7 L412.8 464.7 L412.9 467.7 L413.0 470.7 L413.1 473.7 L413.2 476.7 L413.3 479.7 L413.4 482.7 L413.5 485.6 L413.6 488.6 L413.7 491.6 L413.8 494.6 L413.9 497.6 L414.0 500.6 L414.1 503.6 L414.2 506.6 L414.3 509.6 L414.4 512.6 L414.5 515.6 L414.6 518.6 L414.7 521.6 L414.9 524.6 L415.0 527.6 L415.1 530.6 L415.2 533.6 L415.3 536.6 L415.4 539.6 L415.5 542.6 L415.7 545.6 L415.8 548.6 L415.9 551.6 L416.0 554.6 L416.1 557.6 L416.3 560.6 L416.4 563.6 L416.5 566.6 L416.6 569.6 L416.8 572.6 L416.9 575.6 L417.0 578.6 L417.1 581.6 L417.3 584.6 L417.4 587.6 L417.5 590.6 L417.7 593.6 L417.8 596.6 L417.9 599.6 L418.1 602.6 L418.2 605.6 L418.3 608.6 L418.5 611.5 L418.6 614.5 L418.7 617.5 L418.9 620.5 L419.0 623.5 L419.2 626.5 L419.3 629.5 L419.5 632.5 L419.6 635.5 L419.7 638.5 L419.9 641.5 L420.0 644.5 L420.2 647.5 L420.3 650.5 L420.5 653.5 L420.6 656.5 L420.8 659.5 L421.0 662.5 L421.1 665.5 L421.3 668.5 L421.4 671.5 L421.6 674.5 L421.8 677.5 L421.9 680.5 L422.1 683.5 L422.2 686.5 L422.4 689.5 L422.6 692.5 L422.7 695.5 L422.9 698.5 L423.1 701.5 L423.3 704.5 L423.4 707.5 L423.6 710.5 L423.8 713.5 L424.0 716.5 L424.1 719.5 L424.3 722.5 L424.5 725.5 L424.7 728.5 L424.9 731.5 L425.1 734.5 L425.2 737.5 L425.4 740.5 L425.6 743.5 L425.8 746.5 L426.0 749.5 L426.2 752.5 L426.4 755.5 L426.6 758.5 L426.8 761.5 L427.0 764.5 L427.2 767.5 L427.4 770.5 L427.6 773.5 L427.9 776.5 L428.1 779.5 L428.3 782.5 L428.5 785.5 L428.7 788.4 L429.0 791.4 L429.2 794.4 L429.4 797.4 L429.6 800.4 L429.9 803.4 L430.1 806.4 L430.3 809.3 L430.6 812.3 L430.8 815.3 L431.1 818.3 L431.3 821.3 L431.6 824.2 L431.8 827.2 L432.1 830.2 L432.3 833.2 L432.6 836.1 L432.9 839.1 L433.1 842.1 L433.4 845.0 L433.7 848.0 L433.9 851.0 L434.2 853.9 L434.5 856.9 L434.8 859.8 L435.1 862.8 L435.4 865.8 L435.6 868.7 L435.9 871.7 L436.2 874.6 L436.5 877.6 L436.8 880.5 L437.1 883.5 L437.5 886.4 L437.8 889.4 L438.1 892.3 L438.5 895.3 L438.9 898.3 L439.3 901.2 L439.7 904.2 L440.1 907.3 L440.6 910.3 L441.2 913.4 L441.7 916.4 L442.3 919.5 L443.0 922.7 L443.8 925.8 L444.6 928.8 L445.5 931.9 L446.6 934.9 L447.8 937.8 L449.2 940.7 L450.7 943.4 L452.4 946.0 L454.3 948.3 L456.3 950.3 L458.5 951.8 L460.8 952.8 L463.2 953.2 L465.8 953.1 L468.5 952.4 L471.1 951.3 L473.8 949.8 L476.3 948.0 L478.8 945.9 L481.2 943.7 L483.3 941.2 L485.4 938.6 L487.2 935.9 L489.0 933.2 L490.6 930.4 L492.1 927.6 L493.5 924.7 L494.8 921.9 L496.1 919.2 L497.3 916.4 L498.5 913.7 L499.6 910.9 L500.6 908.2 L501.7 905.5 L502.6 902.8 L503.6 900.0 L504.6 897.3 L505.5 894.5 L506.4 891.8 L507.3 889.0 L508.2 886.1 L509.1 883.3 L510.0 880.5 L510.9 877.6 L511.8 874.7 L512.6 871.9 L513.5 869.0 L514.3 866.1 L515.2 863.2 L516.0 860.3 L516.9 857.3 L517.7 854.4 L518.5 851.5 L519.3 848.6 L520.1 845.6 L520.9 842.7 L521.7 839.8 L522.4 836.9 L523.2 833.9 L524.0 831.0 L524.7 828.1 L525.5 825.2 L526.2 822.2 L526.9 819.3 L527.6 816.4 L528.4 813.5 L529.1 810.5 L529.8 807.6 L530.5 804.7 L531.2 801.8 L531.8 798.8 L532.5 795.9 L533.2 793.0 L533.9 790.1 L534.5 787.1 L535.2 784.2 L535.8 781.3 L536.4 778.4 L537.1 775.5 L537.7 772.5 L538.3 769.6 L538.9 766.7 L539.6 763.8 L540.2 760.8 L540.8 757.9 L541.3 755.0 L541.9 752.1 L542.5 749.1 L543.1 746.2 L543.7 743.3 L544.2 740.4 L544.8 737.4 L545.3 734.5 L545.9 731.6 L546.4 728.7 L547.0 725.7 L547.5 722.8 L548.0 719.9 L548.5 716.9 L549.1 714.0 L549.6 711.1 L550.1 708.1 L550.6 705.2 L551.1 702.3 L551.6 699.3 L552.1 696.4 L552.5 693.5 L553.0 690.5 L553.5 687.6 L554.0 684.7 L554.4 681.7 L554.9 678.8 L555.4 675.8 L555.8 672.9 L556.3 669.9 L556.7 667.0 L557.1 664.1 L557.6 661.1 L558.0 658.2 L558.4 655.2 L558.9 652.3 L559.3 649.3 L559.7 646.4 L560.1 643.4 L560.5 640.4 L561.0 637.5 L561.4 634.5 L561.8 631.6 L562.2 628.6 L562.6 625.6 L562.9 622.7 L563.3 619.7 L563.7 616.7 L564.1 613.8 L564.5 610.8 L564.9 607.8 L565.2 604.9 L565.6 601.9 L566.0 598.9 L566.4 595.9 L566.7 592.9 L567.1 590.0 L567.4 587.0 L567.8 584.0 L568.2 581.0 L568.5 578.0 L568.9 575.0 L569.2 572.0 L569.5 569.0 L569.9 566.0 L570.2 563.0 L570.6 560.0 L570.9 557.0 L571.2 554.0 L571.6 551.0 L571.9 548.0 L572.2 545.0 L572.6 542.0 L572.9 538.9 L573.2 535.9 L573.6 532.9 L573.9 529.9 L574.2 526.9 L574.5 523.8 L574.8 520.8 L575.1 517.8 L575.5 514.8 L575.8 511.8 L576.1 508.7 L576.4 505.7 L576.7 502.7 L577.0 499.7 L577.3 496.6 L577.6 493.6 L577.9 490.6 L578.2 487.6 L578.5 484.5 L578.8 481.5 L579.1 478.5 L579.4 475.5 L579.7 472.4 L580.0 469.4 L580.3 466.4 L580.6 463.4 L580.9 460.3 L581.2 457.3 L581.5 454.3 L581.8 451.3 L582.1 448.3 L582.4 445.3 L582.7 442.2 L583.0 439.2 L583.3 436.2 L583.6 433.2 L583.9 430.2 L584.2 427.2 L584.5 424.2 L584.7 421.2 L585.0 418.2 L585.3 415.2 L585.6 412.2 L585.9 409.2 L586.2 406.2 L586.5 403.2 L586.8 400.2 L587.1 397.2 L587.4 394.2 L587.6 391.2 L587.9 388.3 L588.2 385.3 L588.5 382.3 L588.8 379.3 L589.1 376.4 L589.4 373.4 L589.7 370.5 L590.0 367.5 L590.3 364.5 L590.6 361.6 L590.9 358.6 L591.1 355.7 L591.4 352.8 L591.7 349.8 L592.0 346.9 L592.3 344.0 L592.6 341.0 L592.9 338.1 L593.2 335.2 L593.5 332.3 L593.8 329.4 L594.1 326.5 L594.4 323.6 L594.7 320.7 L595.0 317.8 L595.4 314.9 L595.7 312.0 L596.0 309.2 L596.3 306.3 L596.6 303.4 L596.9 300.6 L597.2 297.7 L597.5 294.9 L597.9 292.0 L598.2 289.2 L598.5 286.4 L598.8 283.5 L599.1 280.7 L599.5 277.9 L599.8 275.1 L600.1 272.3 L600.4 269.5 L600.8 266.7 L601.1 263.9 L601.5 261.1 L601.8 258.2 L602.2 255.4 L602.6 252.6 L602.9 249.7 L603.3 246.8 L603.8 243.9 L604.2 240.9 L604.6 237.9 L605.1 234.9 L605.6 231.8 L606.1 228.7 L606.6 225.5 L607.2 222.3 L607.7 219.0 L608.3 215.7 L609.0 212.3 L609.6 208.8 L610.3 205.3 L611.0 201.6 L611.8 197.9 L612.6 194.2 L613.4 190.3 L614.2 186.4 L615.1 182.5 L616.0 178.6 L616.9 174.7 L617.9 170.9 L618.8 167.1 L619.8 163.5 L620.8 160.0 L621.8 156.6 L622.8 153.4 L623.8 150.3 L624.8 147.5 L625.8 145.0 L626.9 142.7 L627.9 140.7 L628.9 139.0 L629.9 137.6 L630.8 136.6 L631.8 136.0 L632.7 135.8 L633.7 136.0 L634.6 136.7 L635.5 137.7 L636.3 139.1 L637.2 140.9 L638.0 142.9 L638.8 145.3 L639.5 147.9 L640.3 150.8 L641.0 153.9 L641.7 157.2 L642.4 160.7 L643.1 164.3 L643.7 168.0 L644.3 171.8 L644.9 175.7 L645.5 179.6 L646.1 183.6 L646.6 187.5 L647.1 191.4 L647.5 195.3 L648.0 199.0 L648.4 202.7 L648.8 206.3 L649.2 209.7 L649.6 213.1 L649.9 216.5 L650.3 219.7 L650.6 222.9 L650.9 226.0 L651.2 229.0 L651.4 232.0 L651.7 235.0 L652.0 237.9 L652.2 240.7 L652.5 243.6 L652.7 246.4 L652.9 249.1 L653.2 251.9 L653.4 254.6 L653.6 257.4 L653.9 260.1 L654.1 262.8 L654.4 265.6 L654.6 268.3 L654.9 271.1 L655.1 273.8 L655.4 276.6 L655.7 279.4 L656.0 282.3 L656.3 285.1 L656.6 288.0 L656.9 290.9 L657.2 293.8 L657.6 296.7 L657.9 299.6 L658.2 302.6 L658.6 305.6 L658.9 308.5 L659.2 311.5 L659.6 314.5 L659.9 317.5 L660.3 320.5 L660.6 323.5 L661.0 326.5 L661.3 329.5 L661.6 332.6 L662.0 335.6 L662.3 338.6 L662.6 341.6 L663.0 344.7 L663.3 347.7 L663.6 350.7 L663.9 353.8 L664.2 356.8 L664.5 359.8 L664.8 362.8 L665.1 365.8 L665.4 368.9 L665.7 371.9 L666.0 374.9 L666.3 377.9 L666.5 380.9 L666.8 384.0 L667.1 387.0 L667.3 390.0 L667.6 393.0 L667.9 396.0 L668.1 399.0 L668.4 402.0 L668.6 405.0 L668.8 408.1 L669.1 411.1 L669.3 414.1 L669.6 417.1 L669.8 420.1 L670.0 423.1 L670.2 426.1 L670.5 429.1 L670.7 432.1 L670.9 435.1 L671.1 438.1 L671.3 441.1 L671.5 444.1 L671.7 447.1 L671.9 450.1 L672.2 453.1 L672.4 456.1 L672.6 459.1 L672.8 462.1 L672.9 465.1 L673.1 468.1 L673.3 471.1 L673.5 474.1 L673.7 477.1 L673.9 480.1 L674.1 483.1 L674.3 486.1 L674.5 489.0 L674.7 492.0 L674.8 495.0 L675.0 498.0 L675.2 501.0 L675.4 504.0 L675.6 507.0 L675.8 510.0 L675.9 513.0 L676.1 516.0 L676.3 518.9 L676.5 521.9 L676.7 524.9 L676.8 527.9 L677.0 530.9 L677.2 533.9 L677.4 536.9 L677.6 539.9 L677.7 542.8 L677.9 545.8 L678.1 548.8 L678.3 551.8 L678.5 554.8 L678.6 557.8 L678.8 560.8 L679.0 563.7 L679.2 566.7 L679.4 569.7 L679.6 572.7 L679.8 575.7 L680.0 578.7 L680.1 581.6 L680.3 584.6 L680.5 587.6 L680.7 590.6 L680.9 593.6 L681.1 596.6 L681.3 599.5 L681.5 602.5 L681.7 605.5 L681.9 608.5 L682.1 611.5 L682.3 614.5 L682.5 617.4 L682.7 620.4 L682.9 623.4 L683.1 626.4 L683.3 629.4 L683.5 632.4 L683.7 635.3 L683.9 638.3 L684.1 641.3 L684.3 644.3 L684.5 647.3 L684.7 650.3 L684.9 653.2 L685.2 656.2 L685.4 659.2 L685.6 662.2 L685.8 665.2 L686.0 668.2 L686.2 671.1 L686.4 674.1 L686.7 677.1 L686.9 680.1 L687.1 683.1 L687.3 686.1 L687.6 689.0 L687.8 692.0 L688.0 695.0 L688.2 698.0 L688.5 701.0 L688.7 704.0 L688.9 706.9 L689.2 709.9 L689.4 712.9 L689.6 715.9 L689.9 718.9 L690.1 721.9 L690.3 724.9 L690.6 727.8 L690.8 730.8 L691.1 733.8 L691.3 736.8 L691.6 739.8 L691.8 742.8 L692.0 745.8 L692.3 748.8 L692.5 751.7 L692.8 754.7 L693.1 757.7 L693.3 760.7 L693.6 763.7 L693.8 766.7 L694.1 769.7 L694.4 772.7 L694.6 775.6 L694.9 778.6 L695.1 781.6 L695.4 784.6 L695.7 787.6 L696.0 790.6 L696.2 793.6 L696.5 796.6 L696.8 799.6 L697.1 802.6 L697.3 805.6 L697.6 808.6 L697.9 811.5 L698.2 814.5 L698.5 817.5 L698.8 820.5 L699.1 823.5 L699.3 826.5 L699.6 829.5 L699.9 832.5 L700.2 835.5 L700.5 838.5 L700.8 841.5 L701.1 844.5 L701.4 847.5 L701.7 850.5 L702.0 853.5 L702.4 856.5 L702.7 859.5 L703.0 862.5 L703.3 865.5 L703.6 868.5 L703.9 871.5 L704.3 874.5 L704.6 877.5 L704.9 880.5 L705.2 883.5 L705.6 886.5 L705.9 889.5 L706.3 892.5 L706.6 895.5 L707.0 898.5 L707.4 901.5 L707.8 904.5 L708.2 907.5 L708.6 910.5 L709.1 913.4 L709.5 916.4 L710.0 919.4 L710.5 922.3 L711.0 925.3 L711.5 928.2 L712.1 931.1 L712.6 934.1 L713.2 937.0 L713.9 939.9 L714.5 942.8 L715.2 945.7 L715.9 948.6 L716.6 951.5 L717.4 954.3 L718.2 957.2 L719.0 960.0 L719.9 962.8 L720.8 965.7 L721.7 968.5 L722.6 971.3 L723.6 974.0 L724.7 976.8 L725.8 979.5 L726.9 982.3 L728.1 985.0 L729.3 987.7 L730.5 990.4 L731.8 993.1 L733.1 995.7 L734.5 998.3 L736.0 1001.0 L737.5 1003.6 L739.0 1006.1 L740.5 1008.7 L742.2 1011.2 L743.8 1013.7 L745.5 1016.2 L747.3 1018.7 L749.1 1021.1 L750.9 1023.5 L752.8 1025.9 L754.7 1028.3 L756.6 1030.6 L758.6 1032.9 L760.7 1035.1 L762.8 1037.3 L764.9 1039.5 L767.0 1041.7 L769.2 1043.8 L771.4 1045.9 L773.7 1047.9 L776.0 1049.9 L778.3 1051.8 L780.7 1053.7 L783.1 1055.6 L785.6 1057.4 L788.1 1059.1 L790.6 1060.8 L793.1 1062.4 L795.7 1063.9 L798.3 1065.3 L801.0 1066.6 L803.7 1067.9 L806.4 1069.0 L809.2 1070.1 L811.9 1071.0 L814.8 1071.9 L817.6 1072.7 L820.5 1073.3 L823.4 1073.9 L826.3 1074.5 L829.3 1074.9 L832.2 1075.3 L835.2 1075.7 L838.2 1076.0 L841.2 1076.2 L844.2 1076.5 L847.2 1076.7 L850.2 1076.9 L853.2 1077.1 L856.2 1077.3 L859.2 1077.5 L862.2 1077.7 L865.2 1077.9 L868.2 1078.1 L871.2 1078.3 L874.3 1078.4 L877.3 1078.6 L880.3 1078.7 L883.3 1078.9 L886.3 1079.0 L889.3 1079.2 L892.3 1079.3 L895.3 1079.4 L898.3 1079.6 L901.3 1079.7 L904.3 1079.8 L907.3 1079.9 L910.3 1080.0 L913.3 1080.1 L916.3 1080.2 L919.3 1080.3 L922.3 1080.4 L925.3 1080.5 L928.3 1080.6 L931.3 1080.6 L934.3 1080.7 L937.3 1080.8 L940.3 1080.8 L943.3 1080.9 L946.3 1081.0 L949.3 1081.0 L952.3 1081.1 L955.3 1081.1 L958.3 1081.2 L961.3 1081.2 L964.3 1081.3 L967.3 1081.3 L970.3 1081.3 L973.3 1081.4 L976.3 1081.4 L979.3 1081.4 L982.3 1081.4 L985.3 1081.5 L988.3 1081.5 L991.3 1081.5 L994.3 1081.5 L997.3 1081.5 L1000.3 1081.6 L1003.3 1081.6 L1006.3 1081.6 L1009.3 1081.6 L1012.3 1081.6 L1015.3 1081.6 L1018.3 1081.6 L1021.3 1081.6 L1024.3 1081.6 L1027.3 1081.6 L1030.3 1081.6 L1033.3 1081.6 L1036.3 1081.6 L1039.3 1081.6 L1042.3 1081.6 L1045.3 1081.6 L1048.3 1081.6 L1051.3 1081.6 L1054.3 1081.6 L1057.3 1081.6 L1060.3 1081.6 L1063.3 1081.6 L1066.3 1081.6 L1069.3 1081.6 L1072.3 1081.6 L1075.3 1081.6 L1078.3 1081.6 L1081.3 1081.6 L1084.3 1081.6 L1087.3 1081.7 L1090.3 1081.7 L1093.3 1081.7 L1096.3 1081.7 L1099.2 1081.7 L1102.2 1081.7 L1105.2 1081.7 L1108.2 1081.7 L1111.2 1081.7 L1114.2 1081.7 L1117.2 1081.7 L1120.2 1081.7 L1123.2 1081.7 L1126.2 1081.7 L1129.2 1081.7 L1132.2 1081.7 L1135.2 1081.7 L1138.2 1081.7 L1141.2 1081.7 L1144.2 1081.7 L1147.2 1081.7 L1150.2 1081.7 L1153.2 1081.7 L1156.2 1081.7 L1159.2 1081.7 L1162.2 1081.7 L1165.2 1081.7 L1168.2 1081.7 L1171.2 1081.7 L1174.2 1081.7 L1177.2 1081.7 L1180.2 1081.7 L1183.2 1081.7 L1186.2 1081.7 L1189.2 1081.7 L1192.2 1081.7 L1195.2 1081.7 L1198.2 1081.7 L1201.2 1081.7 L1204.2 1081.7 L1207.2 1081.7 L1210.2 1081.7 L1213.2 1081.7 L1216.2 1081.7 L1219.2 1081.7 L1222.2 1081.7 L1225.2 1081.7 L1228.2 1081.8 L1231.2 1081.8 L1234.2 1081.8 L1237.2 1081.8 L1240.2 1081.8 L1243.2 1081.8 L1246.2 1081.8 L1249.2 1081.8 L1252.2 1081.8 L1255.2 1081.8 L1258.2 1081.8 L1261.2 1081.8 L1264.2 1081.8 L1267.2 1081.8 L1270.2 1081.8 L1273.2 1081.8 L1276.2 1081.8 L1279.2 1081.8 L1282.2 1081.8 L1285.2 1081.8 L1288.2 1081.8 L1291.2 1081.8 L1294.2 1081.8 L1297.2 1081.8 L1300.2 1081.8 L1303.2 1081.8 L1306.2 1081.8 L1309.2 1081.8 L1312.2 1081.8 L1315.2 1081.8 L1318.2 1081.8 L1321.2 1081.9 L1324.2 1081.9 L1327.2 1081.9 L1330.2 1081.9 L1333.2 1081.9 L1336.2 1081.9 L1339.2 1081.9 L1342.2 1081.9 L1345.2 1081.9 L1348.2 1081.9 L1351.2 1081.9 L1354.2 1081.9 L1357.2 1081.9 L1360.2 1081.9 L1363.2 1081.9 L1366.2 1081.9 L1369.2 1081.9 L1372.2 1081.9 L1375.2 1081.9 L1378.2 1081.9 L1381.2 1081.9 L1384.2 1081.9 L1387.2 1081.9 L1390.2 1081.9 L1393.2 1081.9 L1396.2 1082.0 L1399.2 1082.0 L1402.2 1082.0 L1405.2 1082.0 L1408.2 1082.0 L1411.2 1082.0 L1414.2 1082.0 L1417.2 1082.0 L1420.2 1082.0 L1423.2 1082.0 L1426.2 1082.0 L1429.2 1082.0 L1432.2 1082.0 L1435.2 1082.0 L1438.2 1082.0 L1441.2 1082.0 L1444.2 1082.0 L1447.2 1082.0 L1450.2 1082.0 L1453.2 1082.0 L1456.2 1082.0 L1459.2 1082.0 L1462.2 1082.0 L1465.2 1082.1 L1468.2 1082.1 L1471.2 1082.1 L1474.2 1082.1 L1477.2 1082.1 L1480.2 1082.1 L1483.2 1082.1 L1486.2 1082.1 L1489.2 1082.1 L1492.2 1082.1 L1495.2 1082.1 L1498.2 1082.1 L1501.2 1082.1 L1504.2 1082.1 L1507.2 1082.1 L1510.2 1082.1 L1513.2 1082.1 L1516.2 1082.1 L1519.2 1082.1 L1522.2 1082.1 L1525.2 1082.1 L1528.2 1082.2 L1531.2 1082.2 L1534.2 1082.2 L1537.2 1082.2 L1540.2 1082.2 L1543.2 1082.2 L1546.2 1082.2 L1549.2 1082.2 L1552.2 1082.2 L1555.2 1082.2 L1558.2 1082.2 L1561.2 1082.2 L1564.2 1082.2 L1567.2 1082.2 L1570.2 1082.2 L1573.2 1082.2 L1576.2 1082.2 L1579.2 1082.2 L1582.2 1082.2 L1585.2 1082.3 L1588.2 1082.3 L1591.2 1082.3 L1594.2 1082.3 L1597.2 1082.3 L1600.2 1082.3 L1603.2 1082.3 L1606.2 1082.3 L1609.2 1082.3 L1612.2 1082.3 L1615.1 1082.3 L1618.1 1082.3 L1621.1 1082.3 L1624.1 1082.3 L1627.1 1082.3 L1630.1 1082.3 L1633.1 1082.3 L1636.1 1082.3 L1639.1 1082.3 L1642.1 1082.4 L1645.1 1082.4 L1648.1 1082.4 L1651.1 1082.4 L1654.1 1082.4 L1657.1 1082.4 L1660.1 1082.4 L1663.1 1082.4 L1666.1 1082.4 L1669.1 1082.4 L1672.1 1082.4 L1675.1 1082.4 L1678.1 1082.4 L1681.1 1082.4 L1684.1 1082.4 L1687.1 1082.4 L1690.1 1082.4 L1693.1 1082.4 L1696.1 1082.4 L1699.1 1082.5 L1702.1 1082.5 L1705.1 1082.5 L1708.1 1082.5 L1711.1 1082.5 L1714.1 1082.5 L1717.1 1082.5 L1720.1 1082.5 L1723.1 1082.5 L1726.1 1082.5 L1729.1 1082.5 L1732.1 1082.5 L1735.1 1082.5 L1738.1 1082.5 L1741.1 1082.5 L1744.1 1082.5 L1747.1 1082.5 L1750.1 1082.5 L1753.1 1082.5 L1756.1 1082.6 L1759.1 1082.6 L1762.1 1082.6 L1765.1 1082.6 L1768.1 1082.6 L1771.1 1082.6 L1774.1 1082.6 L1777.1 1082.6 L1780.1 1082.6 L1783.1 1082.6 L1786.1 1082.6 L1789.1 1082.6 L1792.1 1082.6 L1795.1 1082.6 L1798.1 1082.6 L1801.1 1082.6 L1804.1 1082.6 L1807.1 1082.6 L1810.1 1082.6 L1813.1 1082.6 L1816.1 1082.7 L1819.1 1082.7 L1822.1 1082.7 L1825.1 1082.7 L1828.1 1082.7 L1831.1 1082.7 L1834.1 1082.7 L1837.1 1082.7 L1840.1 1082.7 L1843.1 1082.7 L1846.1 1082.7 L1849.1 1082.7 L1852.1 1082.7 L1855.1 1082.7 L1858.1 1082.7 L1861.1 1082.7 L1864.1 1082.7 L1867.1 1082.7 L1870.1 1082.7 L1873.1 1082.7 L1876.1 1082.7 L1879.1 1082.8 L1882.1 1082.8 L1885.1 1082.8 L1888.1 1082.8 L1891.1 1082.8 L1894.1 1082.8 L1897.1 1082.8 L1900.1 1082.8 L1903.1 1082.8 L1906.1 1082.8 L1909.1 1082.8 L1912.1 1082.8 L1915.1 1082.8 L1918.1 1082.8 L1921.1 1082.8 L1924.1 1082.8 L1927.1 1082.8 L1930.1 1082.8 L1933.1 1082.8 L1936.1 1082.8 L1939.1 1082.8 L1942.1 1082.8 L1945.1 1082.8 L1948.1 1082.8 L1951.1 1082.9 L1954.1 1082.9 L1957.1 1082.9 L1960.1 1082.9 L1963.1 1082.9 L1966.1 1082.9 L1969.1 1082.9 L1972.1 1082.9 L1975.1 1082.9 L1978.1 1082.9 L1981.1 1082.9 L1984.1 1082.9 L1987.1 1082.9 L1990.1 1082.9 L1993.1 1082.9 L1996.1 1082.9 L1999.1 1082.9 L2002.1 1082.9 L2005.1 1082.9 L2008.1 1082.9 L2011.1 1082.9 L2014.1 1082.9 L2017.1 1082.9 L2020.1 1082.9 L2023.1 1082.9 L2026.1 1082.9 L2029.1 1082.9 L2032.1 1082.9 L2035.1 1082.9 L2038.1 1082.9 L2041.1 1083.0 L2044.0 1083.0 L2047.0 1083.0 L2050.0 1083.0 L2053.0 1083.0 L2056.0 1083.0 L2059.0 1083.0 L2062.0 1083.0 L2065.0 1083.0 L2068.0 1083.0 L2071.0 1083.0 L2074.0 1083.0 L2077.0 1083.0 L2080.0 1083.0 L2083.0 1083.0 L2086.0 1083.0 L2089.0 1083.0 L2092.0 1083.0 L2095.0 1083.0 L2098.0 1083.0 L2101.0 1083.0 L2104.0 1083.0 L2107.0 1083.0 L2110.0 1083.0 L2113.0 1083.0 L2116.0 1083.0 L2119.0 1083.0 L2122.0 1083.0 L2125.0 1083.0 L2128.0 1083.0 L2131.0 1083.0 L2134.0 1083.0 L2137.0 1083.0 L2140.0 1083.0 L2143.0 1083.0 L2146.0 1083.0 L2149.0 1083.0 L2152.0 1083.0 L2155.0 1083.0 L2158.0 1083.0 L2161.0 1083.0 L2164.0 1083.0 L2167.0 1083.0 L2170.0 1083.0 L2173.0 1083.0 L2176.0 1083.0 L2179.0 1083.0 L2182.0 1083.0 L2185.0 1083.0 L2188.0 1083.0 L2191.0 1083.0 L2194.0 1083.0 L2197.0 1083.0 L2200.0 1083.0 L2203.0 1083.0 L2206.0 1083.0 L2209.0 1083.0 L2212.0 1083.0 L2215.0 1083.0 L2218.0 1083.0 L2221.0 1083.0 L2224.0 1083.0 L2227.0 1083.0 L2230.0 1083.0 L2233.0 1083.0 L2236.0 1083.0 L2239.0 1083.0 L2242.0 1083.0 L2245.0 1083.0 L2248.0 1083.0 L2251.0 1083.0 L2254.0 1083.0 L2257.0 1083.0 L2260.0 1083.0 L2263.0 1083.0 L2266.0 1083.0 L2269.0 1083.0 L2272.0 1083.0 L2275.0 1083.0 L2278.0 1083.0 L2281.0 1083.0 L2284.0 1083.0 L2287.0 1083.0 L2290.0 1083.0 L2293.0 1083.0 L2296.0 1083.0 L2299.0 1083.0 L2302.0 1083.0 L2305.0 1083.0 L2308.0 1083.0 L2311.0 1083.0 L2314.0 1083.0 L2317.0 1083.0 L2320.0 1083.0" stroke="#A87500"/>
</g>
<g stroke-width="8" stroke-linecap="round">
<line x1="1058.5" y1="49.0" x2="1183.0" y2="49.0" stroke="#FF7415"/>
<line x1="1666.5" y1="49.0" x2="1791.0" y2="49.0" stroke="#A0A0A0"/>
<line x1="1058.5" y1="129.5" x2="1183.0" y2="129.5" stroke="#FFBC00"/>
<line x1="1666.5" y1="129.5" x2="1791.0" y2="129.5" stroke="#0097D8"/>
<line x1="1058.5" y1="206.8" x2="1183.0" y2="206.8" stroke="#33AA2E"/>
<line x1="1666.5" y1="206.8" x2="1791.0" y2="206.8" stroke="#003574"/>
</g>
<text x="1194.0" y="69.0" class="lg" textLength="298.34" lengthAdjust="spacingAndGlyphs">0.5:1 (1):Fe</text>
<text x="1805.0" y="69.0" class="lg" textLength="249.00" lengthAdjust="spacingAndGlyphs">1:1 (1):Fe</text>
<text x="1194.0" y="147.0" class="lg" textLength="249.00" lengthAdjust="spacingAndGlyphs">2:1 (1):Fe</text>
<text x="1805.0" y="147.0" class="lg" textLength="249.00" lengthAdjust="spacingAndGlyphs">3:1 (1):Fe</text>
<text x="1194.0" y="224.0" class="lg" textLength="249.00" lengthAdjust="spacingAndGlyphs">4:1 (1):Fe</text>
<text x="1805.0" y="224.0" class="lg" textLength="249.00" lengthAdjust="spacingAndGlyphs">5:1 (1):Fe</text>
<g class="ax">
<text x="223.3" y="1107.5" text-anchor="end" textLength="39.03" lengthAdjust="spacingAndGlyphs">0</text>
<text x="223.3" y="972.9" text-anchor="end" textLength="97.50" lengthAdjust="spacingAndGlyphs">0.2</text>
<text x="223.3" y="838.3" text-anchor="end" textLength="97.50" lengthAdjust="spacingAndGlyphs">0.4</text>
<text x="223.3" y="703.7" text-anchor="end" textLength="97.50" lengthAdjust="spacingAndGlyphs">0.6</text>
<text x="223.3" y="569.1" text-anchor="end" textLength="97.50" lengthAdjust="spacingAndGlyphs">0.8</text>
<text x="223.3" y="434.5" text-anchor="end" textLength="39.03" lengthAdjust="spacingAndGlyphs">1</text>
<text x="223.3" y="299.9" text-anchor="end" textLength="97.50" lengthAdjust="spacingAndGlyphs">1.2</text>
<text x="223.3" y="165.3" text-anchor="end" textLength="97.50" lengthAdjust="spacingAndGlyphs">1.4</text>
<text x="297.2" y="1207" text-anchor="middle" textLength="117.09" lengthAdjust="spacingAndGlyphs">200</text>
<text x="700.4" y="1207" text-anchor="middle" textLength="117.09" lengthAdjust="spacingAndGlyphs">300</text>
<text x="1100.3" y="1207" text-anchor="middle" textLength="117.09" lengthAdjust="spacingAndGlyphs">400</text>
<text x="1504.4" y="1207" text-anchor="middle" textLength="117.09" lengthAdjust="spacingAndGlyphs">500</text>
<text x="1904.1" y="1207" text-anchor="middle" textLength="117.09" lengthAdjust="spacingAndGlyphs">600</text>
<text x="2310.0" y="1207" text-anchor="middle" textLength="117.09" lengthAdjust="spacingAndGlyphs">700</text>
</g>
<text x="971.6" y="1306" style="font-size:86px" textLength="627.8" lengthAdjust="spacing">Wavelength (nm)</text>
<text transform="translate(80.5,745) rotate(-90)" x="0" y="0" style="font-size:86px" textLength="139.8" lengthAdjust="spacingAndGlyphs">ABS</text>
</svg>
</body></html>
